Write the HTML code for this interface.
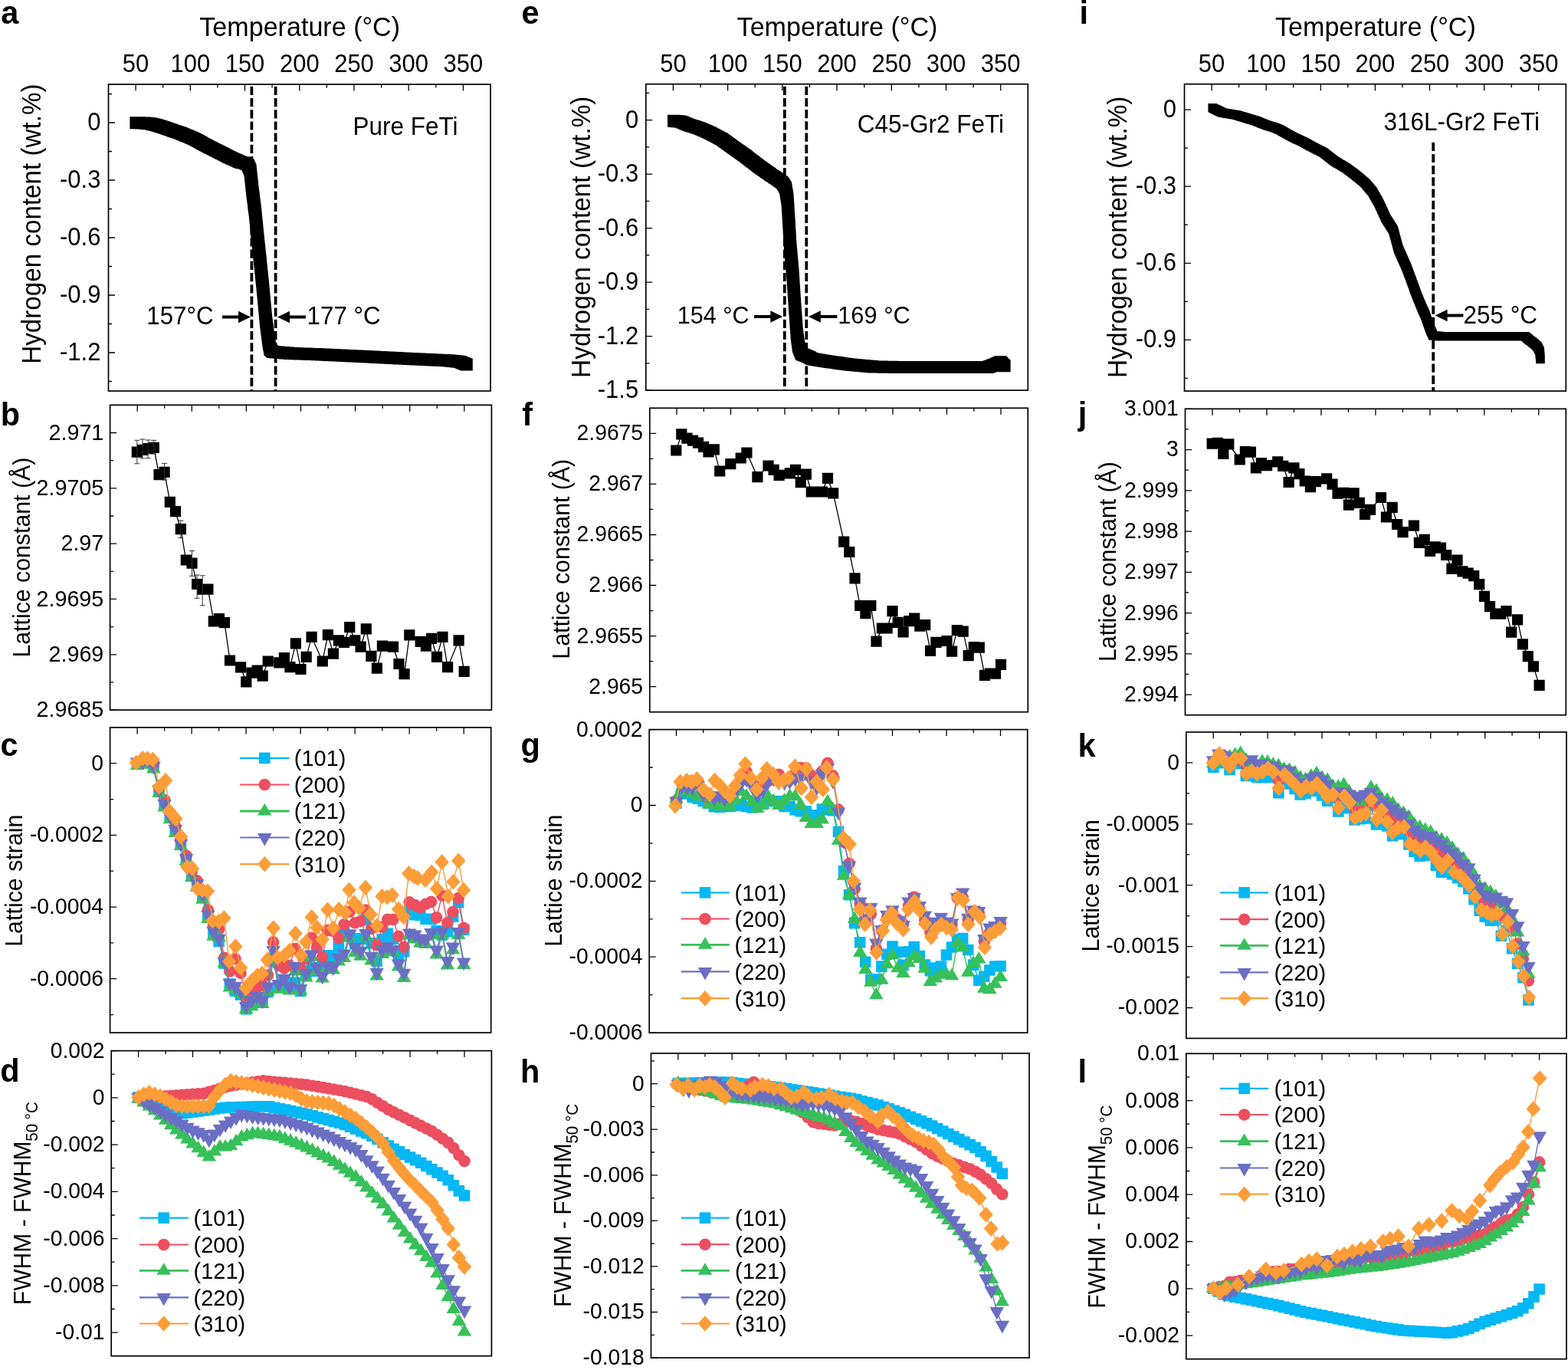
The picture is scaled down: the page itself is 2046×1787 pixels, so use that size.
<!DOCTYPE html>
<html><head><meta charset="utf-8"><style>html,body{margin:0;padding:0;background:#fff;overflow:hidden}svg{display:block}</style></head><body>
<svg xmlns="http://www.w3.org/2000/svg" width="2046" height="1787" viewBox="0 0 2046 1787" font-family="'Liberation Sans', Arial, sans-serif">
<rect width="100%" height="100%" fill="#fff"/>
<rect x="141.5" y="110" width="498.5" height="400" fill="none" stroke="#000" stroke-width="1.7"/>
<path d="M177.1 110v8.5M248.3 110v8.5M319.5 110v8.5M390.8 110v8.5M462 110v8.5M533.2 110v8.5M604.4 110v8.5M212.7 110v4.5M283.9 110v4.5M355.1 110v4.5M426.4 110v4.5M497.6 110v4.5M568.8 110v4.5M141.5 460h8.5M141.5 385h8.5M141.5 310h8.5M141.5 235h8.5M141.5 160h8.5M141.5 497.5h4.5M141.5 460h4.5M141.5 422.5h4.5M141.5 385h4.5M141.5 347.5h4.5M141.5 310h4.5M141.5 272.5h4.5M141.5 235h4.5M141.5 197.5h4.5M141.5 160h4.5M141.5 122.5h4.5" stroke="#000" stroke-width="1.3" fill="none"/>
<text transform="translate(131.4 469.9) scale(1 1.045)" font-size="31" text-anchor="end">-1.2</text>
<text transform="translate(131.4 394.9) scale(1 1.045)" font-size="31" text-anchor="end">-0.9</text>
<text transform="translate(131.4 319.9) scale(1 1.045)" font-size="31" text-anchor="end">-0.6</text>
<text transform="translate(131.4 244.9) scale(1 1.045)" font-size="31" text-anchor="end">-0.3</text>
<text transform="translate(131.4 169.9) scale(1 1.045)" font-size="31" text-anchor="end">0</text>
<text transform="translate(177.1 93.6) scale(1 1.045)" font-size="31" text-anchor="middle">50</text>
<text transform="translate(248.3 93.6) scale(1 1.045)" font-size="31" text-anchor="middle">100</text>
<text transform="translate(319.5 93.6) scale(1 1.045)" font-size="31" text-anchor="middle">150</text>
<text transform="translate(390.8 93.6) scale(1 1.045)" font-size="31" text-anchor="middle">200</text>
<text transform="translate(462 93.6) scale(1 1.045)" font-size="31" text-anchor="middle">250</text>
<text transform="translate(533.2 93.6) scale(1 1.045)" font-size="31" text-anchor="middle">300</text>
<text transform="translate(604.4 93.6) scale(1 1.045)" font-size="31" text-anchor="middle">350</text>
<text transform="translate(391.2 47.3) scale(1 1.045)" font-size="34.1" text-anchor="middle">Temperature (°C)</text>
<rect x="842.8" y="109.7" width="498.5" height="399.4" fill="none" stroke="#000" stroke-width="1.7"/>
<path d="M878.4 109.7v8.5M949.6 109.7v8.5M1020.8 109.7v8.5M1092 109.7v8.5M1163.3 109.7v8.5M1234.5 109.7v8.5M1305.7 109.7v8.5M914 109.7v4.5M985.2 109.7v4.5M1056.4 109.7v4.5M1127.7 109.7v4.5M1198.9 109.7v4.5M1270.1 109.7v4.5M842.8 509.1h8.5M842.8 438.6h8.5M842.8 368.1h8.5M842.8 297.7h8.5M842.8 227.2h8.5M842.8 156.7h8.5M842.8 473.9h4.5M842.8 438.6h4.5M842.8 403.4h4.5M842.8 368.1h4.5M842.8 332.9h4.5M842.8 297.7h4.5M842.8 262.4h4.5M842.8 227.2h4.5M842.8 191.9h4.5M842.8 156.7h4.5M842.8 121.4h4.5" stroke="#000" stroke-width="1.3" fill="none"/>
<text transform="translate(833.2 519) scale(1 1.045)" font-size="31" text-anchor="end">-1.5</text>
<text transform="translate(833.2 448.5) scale(1 1.045)" font-size="31" text-anchor="end">-1.2</text>
<text transform="translate(833.2 378) scale(1 1.045)" font-size="31" text-anchor="end">-0.9</text>
<text transform="translate(833.2 307.6) scale(1 1.045)" font-size="31" text-anchor="end">-0.6</text>
<text transform="translate(833.2 237.1) scale(1 1.045)" font-size="31" text-anchor="end">-0.3</text>
<text transform="translate(833.2 166.6) scale(1 1.045)" font-size="31" text-anchor="end">0</text>
<text transform="translate(878.4 93.6) scale(1 1.045)" font-size="31" text-anchor="middle">50</text>
<text transform="translate(949.6 93.6) scale(1 1.045)" font-size="31" text-anchor="middle">100</text>
<text transform="translate(1020.8 93.6) scale(1 1.045)" font-size="31" text-anchor="middle">150</text>
<text transform="translate(1092 93.6) scale(1 1.045)" font-size="31" text-anchor="middle">200</text>
<text transform="translate(1163.3 93.6) scale(1 1.045)" font-size="31" text-anchor="middle">250</text>
<text transform="translate(1234.5 93.6) scale(1 1.045)" font-size="31" text-anchor="middle">300</text>
<text transform="translate(1305.7 93.6) scale(1 1.045)" font-size="31" text-anchor="middle">350</text>
<text transform="translate(1092.5 47.3) scale(1 1.045)" font-size="34.1" text-anchor="middle">Temperature (°C)</text>
<rect x="1545.5" y="109.7" width="497.8" height="400.4" fill="none" stroke="#000" stroke-width="1.7"/>
<path d="M1581.1 109.7v8.5M1652.2 109.7v8.5M1723.3 109.7v8.5M1794.4 109.7v8.5M1865.5 109.7v8.5M1936.6 109.7v8.5M2007.7 109.7v8.5M1616.6 109.7v4.5M1687.7 109.7v4.5M1758.8 109.7v4.5M1830 109.7v4.5M1901.1 109.7v4.5M1972.2 109.7v4.5M1545.5 443.4h8.5M1545.5 343.3h8.5M1545.5 243.2h8.5M1545.5 143.1h8.5M1545.5 493.4h4.5M1545.5 443.4h4.5M1545.5 393.3h4.5M1545.5 343.3h4.5M1545.5 293.2h4.5M1545.5 243.2h4.5M1545.5 193.1h4.5M1545.5 143.1h4.5" stroke="#000" stroke-width="1.3" fill="none"/>
<text transform="translate(1535.1 453.3) scale(1 1.045)" font-size="31" text-anchor="end">-0.9</text>
<text transform="translate(1535.1 353.2) scale(1 1.045)" font-size="31" text-anchor="end">-0.6</text>
<text transform="translate(1535.1 253.1) scale(1 1.045)" font-size="31" text-anchor="end">-0.3</text>
<text transform="translate(1535.1 153) scale(1 1.045)" font-size="31" text-anchor="end">0</text>
<text transform="translate(1581.1 93.6) scale(1 1.045)" font-size="31" text-anchor="middle">50</text>
<text transform="translate(1652.2 93.6) scale(1 1.045)" font-size="31" text-anchor="middle">100</text>
<text transform="translate(1723.3 93.6) scale(1 1.045)" font-size="31" text-anchor="middle">150</text>
<text transform="translate(1794.4 93.6) scale(1 1.045)" font-size="31" text-anchor="middle">200</text>
<text transform="translate(1865.5 93.6) scale(1 1.045)" font-size="31" text-anchor="middle">250</text>
<text transform="translate(1936.6 93.6) scale(1 1.045)" font-size="31" text-anchor="middle">300</text>
<text transform="translate(2007.7 93.6) scale(1 1.045)" font-size="31" text-anchor="middle">350</text>
<text transform="translate(1794.9 47.3) scale(1 1.045)" font-size="34.1" text-anchor="middle">Temperature (°C)</text>
<rect x="143.6" y="528.3" width="497.8" height="397.8" fill="none" stroke="#000" stroke-width="1.7"/>
<path d="M179.2 528.3v8.5M250.3 528.3v8.5M321.4 528.3v8.5M392.5 528.3v8.5M463.6 528.3v8.5M534.7 528.3v8.5M605.8 528.3v8.5M214.7 528.3v4.5M285.8 528.3v4.5M356.9 528.3v4.5M428.1 528.3v4.5M499.2 528.3v4.5M570.3 528.3v4.5M143.6 926.1h8.5M143.6 853.8h8.5M143.6 781.4h8.5M143.6 709.1h8.5M143.6 636.8h8.5M143.6 564.5h8.5M143.6 889.9h4.5M143.6 817.6h4.5M143.6 745.3h4.5M143.6 673h4.5M143.6 600.6h4.5" stroke="#000" stroke-width="1.3" fill="none"/>
<text transform="translate(135.3 935.1) scale(1 1.045)" font-size="28.7" text-anchor="end">2.9685</text>
<text transform="translate(135.3 862.8) scale(1 1.045)" font-size="28.7" text-anchor="end">2.969</text>
<text transform="translate(135.3 790.5) scale(1 1.045)" font-size="28.7" text-anchor="end">2.9695</text>
<text transform="translate(135.3 718.2) scale(1 1.045)" font-size="28.7" text-anchor="end">2.97</text>
<text transform="translate(135.3 645.8) scale(1 1.045)" font-size="28.7" text-anchor="end">2.9705</text>
<text transform="translate(135.3 573.5) scale(1 1.045)" font-size="28.7" text-anchor="end">2.971</text>
<rect x="847.8" y="532.3" width="493.5" height="396.4" fill="none" stroke="#000" stroke-width="1.7"/>
<path d="M883 532.3v8.5M953.5 532.3v8.5M1024 532.3v8.5M1094.5 532.3v8.5M1165 532.3v8.5M1235.5 532.3v8.5M1306 532.3v8.5M918.3 532.3v4.5M988.8 532.3v4.5M1059.3 532.3v4.5M1129.8 532.3v4.5M1200.3 532.3v4.5M1270.8 532.3v4.5M847.8 895.7h8.5M847.8 829.6h8.5M847.8 763.5h8.5M847.8 697.5h8.5M847.8 631.4h8.5M847.8 565.3h8.5M847.8 862.6h4.5M847.8 796.6h4.5M847.8 730.5h4.5M847.8 664.4h4.5M847.8 598.4h4.5" stroke="#000" stroke-width="1.3" fill="none"/>
<text transform="translate(839.1 904.6) scale(1 1.045)" font-size="28.3" text-anchor="end">2.965</text>
<text transform="translate(839.1 838.5) scale(1 1.045)" font-size="28.3" text-anchor="end">2.9655</text>
<text transform="translate(839.1 772.4) scale(1 1.045)" font-size="28.3" text-anchor="end">2.966</text>
<text transform="translate(839.1 706.4) scale(1 1.045)" font-size="28.3" text-anchor="end">2.9665</text>
<text transform="translate(839.1 640.3) scale(1 1.045)" font-size="28.3" text-anchor="end">2.967</text>
<text transform="translate(839.1 574.2) scale(1 1.045)" font-size="28.3" text-anchor="end">2.9675</text>
<rect x="1546.5" y="533.3" width="496.8" height="399.4" fill="none" stroke="#000" stroke-width="1.7"/>
<path d="M1582 533.3v8.5M1653 533.3v8.5M1723.9 533.3v8.5M1794.9 533.3v8.5M1865.9 533.3v8.5M1936.8 533.3v8.5M2007.8 533.3v8.5M1617.5 533.3v4.5M1688.4 533.3v4.5M1759.4 533.3v4.5M1830.4 533.3v4.5M1901.4 533.3v4.5M1972.3 533.3v4.5M1546.5 906.1h8.5M1546.5 852.8h8.5M1546.5 799.6h8.5M1546.5 746.3h8.5M1546.5 693.1h8.5M1546.5 639.8h8.5M1546.5 586.6h8.5M1546.5 533.3h8.5M1546.5 879.4h4.5M1546.5 826.2h4.5M1546.5 772.9h4.5M1546.5 719.7h4.5M1546.5 666.4h4.5M1546.5 613.2h4.5M1546.5 559.9h4.5" stroke="#000" stroke-width="1.3" fill="none"/>
<text transform="translate(1537.8 915) scale(1 1.045)" font-size="28.3" text-anchor="end">2.994</text>
<text transform="translate(1537.8 861.7) scale(1 1.045)" font-size="28.3" text-anchor="end">2.995</text>
<text transform="translate(1537.8 808.5) scale(1 1.045)" font-size="28.3" text-anchor="end">2.996</text>
<text transform="translate(1537.8 755.2) scale(1 1.045)" font-size="28.3" text-anchor="end">2.997</text>
<text transform="translate(1537.8 701.9) scale(1 1.045)" font-size="28.3" text-anchor="end">2.998</text>
<text transform="translate(1537.8 648.7) scale(1 1.045)" font-size="28.3" text-anchor="end">2.999</text>
<text transform="translate(1537.8 595.4) scale(1 1.045)" font-size="28.3" text-anchor="end">3</text>
<text transform="translate(1537.8 542.2) scale(1 1.045)" font-size="28.3" text-anchor="end">3.001</text>
<rect x="143.6" y="948.9" width="497.1" height="398.1" fill="none" stroke="#000" stroke-width="1.7"/>
<path d="M179.1 948.9v8.5M250.1 948.9v8.5M321.1 948.9v8.5M392.1 948.9v8.5M463.2 948.9v8.5M534.2 948.9v8.5M605.2 948.9v8.5M214.6 948.9v4.5M285.6 948.9v4.5M356.6 948.9v4.5M427.7 948.9v4.5M498.7 948.9v4.5M569.7 948.9v4.5M143.6 1276.7h8.5M143.6 1183.1h8.5M143.6 1089.4h8.5M143.6 995.7h8.5M143.6 1323.6h4.5M143.6 1229.9h4.5M143.6 1136.2h4.5M143.6 1042.6h4.5" stroke="#000" stroke-width="1.3" fill="none"/>
<text transform="translate(134.9 1285.6) scale(1 1.045)" font-size="28.3" text-anchor="end">-0.0006</text>
<text transform="translate(134.9 1192) scale(1 1.045)" font-size="28.3" text-anchor="end">-0.0004</text>
<text transform="translate(134.9 1098.3) scale(1 1.045)" font-size="28.3" text-anchor="end">-0.0002</text>
<text transform="translate(134.9 1004.6) scale(1 1.045)" font-size="28.3" text-anchor="end">0</text>
<rect x="847.2" y="951.6" width="493.5" height="395.5" fill="none" stroke="#000" stroke-width="1.7"/>
<path d="M882.5 951.6v8.5M953 951.6v8.5M1023.5 951.6v8.5M1094 951.6v8.5M1164.5 951.6v8.5M1235 951.6v8.5M1305.5 951.6v8.5M917.7 951.6v4.5M988.2 951.6v4.5M1058.7 951.6v4.5M1129.2 951.6v4.5M1199.7 951.6v4.5M1270.2 951.6v4.5M847.2 1347.1h8.5M847.2 1248.2h8.5M847.2 1149.3h8.5M847.2 1050.5h8.5M847.2 951.6h8.5M847.2 1297.7h4.5M847.2 1198.8h4.5M847.2 1099.9h4.5M847.2 1001h4.5" stroke="#000" stroke-width="1.3" fill="none"/>
<text transform="translate(838.5 1356) scale(1 1.045)" font-size="28.3" text-anchor="end">-0.0006</text>
<text transform="translate(838.5 1257.1) scale(1 1.045)" font-size="28.3" text-anchor="end">-0.0004</text>
<text transform="translate(838.5 1158.2) scale(1 1.045)" font-size="28.3" text-anchor="end">-0.0002</text>
<text transform="translate(838.5 1059.4) scale(1 1.045)" font-size="28.3" text-anchor="end">0</text>
<text transform="translate(838.5 960.5) scale(1 1.045)" font-size="28.3" text-anchor="end">0.0002</text>
<rect x="1547.8" y="954.9" width="496.2" height="399.5" fill="none" stroke="#000" stroke-width="1.7"/>
<path d="M1583.2 954.9v8.5M1654.1 954.9v8.5M1725 954.9v8.5M1795.9 954.9v8.5M1866.8 954.9v8.5M1937.7 954.9v8.5M2008.6 954.9v8.5M1618.7 954.9v4.5M1689.6 954.9v4.5M1760.5 954.9v4.5M1831.3 954.9v4.5M1902.2 954.9v4.5M1973.1 954.9v4.5M1547.8 1314.5h8.5M1547.8 1234.6h8.5M1547.8 1154.7h8.5M1547.8 1074.8h8.5M1547.8 994.8h8.5M1547.8 1274.5h4.5M1547.8 1194.6h4.5M1547.8 1114.7h4.5M1547.8 1034.8h4.5" stroke="#000" stroke-width="1.3" fill="none"/>
<text transform="translate(1539.1 1323.3) scale(1 1.045)" font-size="28.3" text-anchor="end">-0.002</text>
<text transform="translate(1539.1 1243.4) scale(1 1.045)" font-size="28.3" text-anchor="end">-0.0015</text>
<text transform="translate(1539.1 1163.5) scale(1 1.045)" font-size="28.3" text-anchor="end">-0.001</text>
<text transform="translate(1539.1 1083.6) scale(1 1.045)" font-size="28.3" text-anchor="end">-0.0005</text>
<text transform="translate(1539.1 1003.7) scale(1 1.045)" font-size="28.3" text-anchor="end">0</text>
<rect x="145.2" y="1370.6" width="496.2" height="398.1" fill="none" stroke="#000" stroke-width="1.7"/>
<path d="M180.6 1370.6v8.5M251.5 1370.6v8.5M322.4 1370.6v8.5M393.3 1370.6v8.5M464.2 1370.6v8.5M535.1 1370.6v8.5M606 1370.6v8.5M216.1 1370.6v4.5M287 1370.6v4.5M357.9 1370.6v4.5M428.7 1370.6v4.5M499.6 1370.6v4.5M570.5 1370.6v4.5M145.2 1738.1h8.5M145.2 1676.8h8.5M145.2 1615.6h8.5M145.2 1554.3h8.5M145.2 1493.1h8.5M145.2 1431.8h8.5M145.2 1370.6h8.5M145.2 1707.5h4.5M145.2 1646.2h4.5M145.2 1585h4.5M145.2 1523.7h4.5M145.2 1462.5h4.5M145.2 1401.2h4.5" stroke="#000" stroke-width="1.3" fill="none"/>
<text transform="translate(136.5 1747) scale(1 1.045)" font-size="28.3" text-anchor="end">-0.01</text>
<text transform="translate(136.5 1685.7) scale(1 1.045)" font-size="28.3" text-anchor="end">-0.008</text>
<text transform="translate(136.5 1624.5) scale(1 1.045)" font-size="28.3" text-anchor="end">-0.006</text>
<text transform="translate(136.5 1563.2) scale(1 1.045)" font-size="28.3" text-anchor="end">-0.004</text>
<text transform="translate(136.5 1502) scale(1 1.045)" font-size="28.3" text-anchor="end">-0.002</text>
<text transform="translate(136.5 1440.7) scale(1 1.045)" font-size="28.3" text-anchor="end">0</text>
<text transform="translate(136.5 1379.5) scale(1 1.045)" font-size="28.3" text-anchor="end">0.002</text>
<rect x="849.5" y="1373.9" width="493.5" height="397.2" fill="none" stroke="#000" stroke-width="1.7"/>
<path d="M884.8 1373.9v8.5M955.2 1373.9v8.5M1025.8 1373.9v8.5M1096.2 1373.9v8.5M1166.8 1373.9v8.5M1237.2 1373.9v8.5M1307.8 1373.9v8.5M920 1373.9v4.5M990.5 1373.9v4.5M1061 1373.9v4.5M1131.5 1373.9v4.5M1202 1373.9v4.5M1272.5 1373.9v4.5M849.5 1771.1h8.5M849.5 1711.5h8.5M849.5 1651.9h8.5M849.5 1592.4h8.5M849.5 1532.8h8.5M849.5 1473.2h8.5M849.5 1413.6h8.5M849.5 1741.3h4.5M849.5 1681.7h4.5M849.5 1622.2h4.5M849.5 1562.6h4.5M849.5 1503h4.5M849.5 1443.4h4.5M849.5 1383.8h4.5" stroke="#000" stroke-width="1.3" fill="none"/>
<text transform="translate(840.8 1780) scale(1 1.045)" font-size="28.3" text-anchor="end">-0.018</text>
<text transform="translate(840.8 1720.4) scale(1 1.045)" font-size="28.3" text-anchor="end">-0.015</text>
<text transform="translate(840.8 1660.8) scale(1 1.045)" font-size="28.3" text-anchor="end">-0.012</text>
<text transform="translate(840.8 1601.2) scale(1 1.045)" font-size="28.3" text-anchor="end">-0.009</text>
<text transform="translate(840.8 1541.7) scale(1 1.045)" font-size="28.3" text-anchor="end">-0.006</text>
<text transform="translate(840.8 1482.1) scale(1 1.045)" font-size="28.3" text-anchor="end">-0.003</text>
<text transform="translate(840.8 1422.5) scale(1 1.045)" font-size="28.3" text-anchor="end">0</text>
<rect x="1547.8" y="1374.3" width="496.2" height="398.4" fill="none" stroke="#000" stroke-width="1.7"/>
<path d="M1583.2 1374.3v8.5M1654.1 1374.3v8.5M1725 1374.3v8.5M1795.9 1374.3v8.5M1866.8 1374.3v8.5M1937.7 1374.3v8.5M2008.6 1374.3v8.5M1618.7 1374.3v4.5M1689.6 1374.3v4.5M1760.5 1374.3v4.5M1831.3 1374.3v4.5M1902.2 1374.3v4.5M1973.1 1374.3v4.5M1547.8 1742.1h8.5M1547.8 1680.8h8.5M1547.8 1619.5h8.5M1547.8 1558.2h8.5M1547.8 1496.9h8.5M1547.8 1435.6h8.5M1547.8 1374.3h8.5M1547.8 1711.4h4.5M1547.8 1650.1h4.5M1547.8 1588.8h4.5M1547.8 1527.5h4.5M1547.8 1466.2h4.5M1547.8 1404.9h4.5" stroke="#000" stroke-width="1.3" fill="none"/>
<text transform="translate(1539.1 1750.9) scale(1 1.045)" font-size="28.3" text-anchor="end">-0.002</text>
<text transform="translate(1539.1 1689.6) scale(1 1.045)" font-size="28.3" text-anchor="end">0</text>
<text transform="translate(1539.1 1628.4) scale(1 1.045)" font-size="28.3" text-anchor="end">0.002</text>
<text transform="translate(1539.1 1567.1) scale(1 1.045)" font-size="28.3" text-anchor="end">0.004</text>
<text transform="translate(1539.1 1505.8) scale(1 1.045)" font-size="28.3" text-anchor="end">0.006</text>
<text transform="translate(1539.1 1444.5) scale(1 1.045)" font-size="28.3" text-anchor="end">0.008</text>
<text transform="translate(1539.1 1383.2) scale(1 1.045)" font-size="28.3" text-anchor="end">0.01</text>
<text transform="translate(53.2 474.7) rotate(-90) scale(1 1.045)" font-size="33.2">Hydrogen content (wt.%)</text>
<text transform="translate(769.7 492.9) rotate(-90) scale(1 1.045)" font-size="33.4">Hydrogen content (wt.%)</text>
<text transform="translate(1470 492.9) rotate(-90) scale(1 1.045)" font-size="33.4">Hydrogen content (wt.%)</text>
<text transform="translate(38.6 857.6) rotate(-90) scale(1 1.045)" font-size="30.3">Lattice constant (Å)</text>
<text transform="translate(742.5 859.7) rotate(-90) scale(1 1.045)" font-size="30.3">Lattice constant (Å)</text>
<text transform="translate(1456.4 863) rotate(-90) scale(1 1.045)" font-size="30.3">Lattice constant (Å)</text>
<text transform="translate(29.2 1234.8) rotate(-90) scale(1 1.045)" font-size="30.4">Lattice strain</text>
<text transform="translate(733.2 1234.8) rotate(-90) scale(1 1.045)" font-size="30.4">Lattice strain</text>
<text transform="translate(1434.1 1241.5) rotate(-90) scale(1 1.045)" font-size="30.4">Lattice strain</text>
<text transform="translate(40.2 1702.2) rotate(-90) scale(1 1.045)" font-size="30.1">FWHM - FWHM</text>
<text transform="translate(49.2 1488.8) rotate(-90) scale(1 1.045)" font-size="20.6">50 °C</text>
<text transform="translate(744.8 1705) rotate(-90) scale(1 1.045)" font-size="30.1">FWHM - FWHM</text>
<text transform="translate(753.8 1491.6) rotate(-90) scale(1 1.045)" font-size="20.6">50 °C</text>
<text transform="translate(1442.4 1706.7) rotate(-90) scale(1 1.045)" font-size="30.1">FWHM - FWHM</text>
<text transform="translate(1451.4 1493.3) rotate(-90) scale(1 1.045)" font-size="20.6">50 °C</text>
<path d="M169.4 152.2h16v16h-16zM171 152.2h16v16h-16zM172.6 152.3h16v16h-16zM174.2 152.3h16v16h-16zM175.8 152.4h16v16h-16zM177.4 152.4h16v16h-16zM179 152.5h16v16h-16zM180.5 152.6h16v16h-16zM182 152.8h16v16h-16zM183.5 152.9h16v16h-16zM185 153h16v16h-16zM186.5 153.2h16v16h-16zM188 153.3h16v16h-16zM189.5 153.7h16v16h-16zM191 154h16v16h-16zM192.5 154.4h16v16h-16zM194 154.8h16v16h-16zM195.5 155.1h16v16h-16zM197 155.5h16v16h-16zM198.6 156h16v16h-16zM200.2 156.5h16v16h-16zM201.8 157h16v16h-16zM203.4 157.5h16v16h-16zM205 158h16v16h-16zM206.6 158.6h16v16h-16zM208.2 159.1h16v16h-16zM209.8 159.7h16v16h-16zM211.4 160.2h16v16h-16zM213 160.8h16v16h-16zM214.6 161.3h16v16h-16zM216.1 161.8h16v16h-16zM217.7 162.4h16v16h-16zM219.2 162.9h16v16h-16zM220.8 163.4h16v16h-16zM222.3 163.9h16v16h-16zM223.9 164.5h16v16h-16zM225.4 165h16v16h-16zM227 165.5h16v16h-16zM228.4 166.1h16v16h-16zM229.8 166.7h16v16h-16zM231.2 167.2h16v16h-16zM232.5 167.8h16v16h-16zM233.9 168.4h16v16h-16zM235.3 169h16v16h-16zM236.7 169.5h16v16h-16zM238.1 170.1h16v16h-16zM239.5 170.7h16v16h-16zM240.8 171.3h16v16h-16zM242.2 171.8h16v16h-16zM243.6 172.4h16v16h-16zM245 173h16v16h-16zM246.4 173.8h16v16h-16zM247.8 174.5h16v16h-16zM249.2 175.3h16v16h-16zM250.7 176.1h16v16h-16zM252.1 176.8h16v16h-16zM253.5 177.6h16v16h-16zM254.9 178.4h16v16h-16zM256.3 179.2h16v16h-16zM257.7 179.9h16v16h-16zM259.2 180.7h16v16h-16zM260.6 181.5h16v16h-16zM262 182.2h16v16h-16zM263.4 183h16v16h-16zM264.8 183.7h16v16h-16zM266.2 184.4h16v16h-16zM267.6 185.1h16v16h-16zM269 185.8h16v16h-16zM270.4 186.5h16v16h-16zM271.8 187.2h16v16h-16zM273.2 187.9h16v16h-16zM274.6 188.6h16v16h-16zM276 189.3h16v16h-16zM277.4 190h16v16h-16zM278.8 190.7h16v16h-16zM280.2 191.4h16v16h-16zM281.6 192.1h16v16h-16zM283 192.8h16v16h-16zM284.4 193.6h16v16h-16zM285.8 194.3h16v16h-16zM287.2 195h16v16h-16zM288.6 195.7h16v16h-16zM290 196.4h16v16h-16zM291.4 197.1h16v16h-16zM292.8 197.8h16v16h-16zM294.2 198.4h16v16h-16zM295.7 199.1h16v16h-16zM297.1 199.7h16v16h-16zM298.5 200.3h16v16h-16zM300 201h16v16h-16zM301.4 201.6h16v16h-16zM302.8 202.2h16v16h-16zM304.3 202.9h16v16h-16zM305.7 203.5h16v16h-16zM307.3 203.9h16v16h-16zM308.9 204.2h16v16h-16zM310.4 204.6h16v16h-16zM312 205h16v16h-16zM313.8 206h16v16h-16zM315.5 207h16v16h-16zM316.1 208.4h16v16h-16zM316.7 209.8h16v16h-16zM317.3 211.2h16v16h-16zM317.9 212.6h16v16h-16zM318.5 214h16v16h-16zM318.7 215.6h16v16h-16zM318.8 217.1h16v16h-16zM319 218.7h16v16h-16zM319.2 220.2h16v16h-16zM319.3 221.8h16v16h-16zM319.5 223.3h16v16h-16zM319.7 224.9h16v16h-16zM319.8 226.4h16v16h-16zM320 228h16v16h-16zM320.2 229.6h16v16h-16zM320.3 231.1h16v16h-16zM320.5 232.7h16v16h-16zM320.7 234.2h16v16h-16zM320.8 235.8h16v16h-16zM321 237.3h16v16h-16zM321.2 238.9h16v16h-16zM321.3 240.4h16v16h-16zM321.5 242h16v16h-16zM321.7 243.5h16v16h-16zM321.9 245h16v16h-16zM322.1 246.5h16v16h-16zM322.3 248h16v16h-16zM322.5 249.5h16v16h-16zM322.7 251h16v16h-16zM322.9 252.5h16v16h-16zM323.1 254h16v16h-16zM323.2 255.5h16v16h-16zM323.4 257h16v16h-16zM323.6 258.5h16v16h-16zM323.8 260h16v16h-16zM324 261.5h16v16h-16zM324.2 263h16v16h-16zM324.4 264.5h16v16h-16zM324.6 266h16v16h-16zM324.8 267.5h16v16h-16zM325 269h16v16h-16zM325.1 270.5h16v16h-16zM325.3 272.1h16v16h-16zM325.4 273.6h16v16h-16zM325.6 275.1h16v16h-16zM325.7 276.6h16v16h-16zM325.9 278.2h16v16h-16zM326 279.7h16v16h-16zM326.2 281.2h16v16h-16zM326.3 282.7h16v16h-16zM326.5 284.3h16v16h-16zM326.6 285.8h16v16h-16zM326.8 287.3h16v16h-16zM326.9 288.8h16v16h-16zM327.1 290.4h16v16h-16zM327.2 291.9h16v16h-16zM327.4 293.4h16v16h-16zM327.5 294.9h16v16h-16zM327.7 296.5h16v16h-16zM327.8 298h16v16h-16zM328 299.5h16v16h-16zM328.1 301h16v16h-16zM328.3 302.6h16v16h-16zM328.4 304.1h16v16h-16zM328.6 305.6h16v16h-16zM328.8 307.1h16v16h-16zM328.9 308.7h16v16h-16zM329.1 310.2h16v16h-16zM329.2 311.7h16v16h-16zM329.4 313.2h16v16h-16zM329.6 314.7h16v16h-16zM329.7 316.3h16v16h-16zM329.9 317.8h16v16h-16zM330.1 319.3h16v16h-16zM330.2 320.8h16v16h-16zM330.4 322.3h16v16h-16zM330.5 323.9h16v16h-16zM330.7 325.4h16v16h-16zM330.9 326.9h16v16h-16zM331 328.4h16v16h-16zM331.2 330h16v16h-16zM331.3 331.5h16v16h-16zM331.5 333h16v16h-16zM331.7 334.5h16v16h-16zM331.8 336.1h16v16h-16zM332 337.6h16v16h-16zM332.1 339.2h16v16h-16zM332.3 340.7h16v16h-16zM332.4 342.2h16v16h-16zM332.6 343.8h16v16h-16zM332.8 345.3h16v16h-16zM332.9 346.9h16v16h-16zM333.1 348.4h16v16h-16zM333.2 350h16v16h-16zM333.4 351.5h16v16h-16zM333.6 353h16v16h-16zM333.7 354.6h16v16h-16zM333.9 356.1h16v16h-16zM334 357.7h16v16h-16zM334.2 359.2h16v16h-16zM334.4 360.8h16v16h-16zM334.5 362.3h16v16h-16zM334.7 363.8h16v16h-16zM334.8 365.4h16v16h-16zM335 366.9h16v16h-16zM335.1 368.5h16v16h-16zM335.3 370h16v16h-16zM335.4 371.5h16v16h-16zM335.6 373.1h16v16h-16zM335.7 374.6h16v16h-16zM335.9 376.2h16v16h-16zM336 377.7h16v16h-16zM336.2 379.2h16v16h-16zM336.3 380.8h16v16h-16zM336.4 382.3h16v16h-16zM336.6 383.8h16v16h-16zM336.7 385.4h16v16h-16zM336.9 386.9h16v16h-16zM337 388.5h16v16h-16zM337.1 390h16v16h-16zM337.3 391.5h16v16h-16zM337.4 393.1h16v16h-16zM337.6 394.6h16v16h-16zM337.7 396.2h16v16h-16zM337.9 397.7h16v16h-16zM338 399.2h16v16h-16zM338.1 400.8h16v16h-16zM338.3 402.3h16v16h-16zM338.4 403.8h16v16h-16zM338.6 405.4h16v16h-16zM338.7 406.9h16v16h-16zM338.9 408.5h16v16h-16zM339 410h16v16h-16zM339.2 411.6h16v16h-16zM339.4 413.1h16v16h-16zM339.6 414.7h16v16h-16zM339.8 416.2h16v16h-16zM340 417.8h16v16h-16zM340.2 419.3h16v16h-16zM340.4 420.9h16v16h-16zM340.6 422.4h16v16h-16zM340.8 424h16v16h-16zM341 425.6h16v16h-16zM341.2 427.1h16v16h-16zM341.4 428.7h16v16h-16zM341.6 430.2h16v16h-16zM341.8 431.8h16v16h-16zM342 433.3h16v16h-16zM342.2 434.9h16v16h-16zM342.4 436.4h16v16h-16zM342.6 438h16v16h-16zM342.9 439.7h16v16h-16zM343.2 441.3h16v16h-16zM343.6 443h16v16h-16zM343.9 444.7h16v16h-16zM344.2 446.3h16v16h-16zM344.5 448h16v16h-16zM345.7 449h16v16h-16zM346.8 450h16v16h-16zM348 451h16v16h-16zM349.5 451.1h16v16h-16zM351 451.2h16v16h-16zM352.5 451.4h16v16h-16zM354 451.5h16v16h-16zM355.5 451.6h16v16h-16zM357 451.8h16v16h-16zM358.5 451.9h16v16h-16zM360 452h16v16h-16zM361.5 452.1h16v16h-16zM363 452.2h16v16h-16zM364.5 452.4h16v16h-16zM366 452.5h16v16h-16zM367.5 452.6h16v16h-16zM369 452.8h16v16h-16zM370.5 452.9h16v16h-16zM372 453h16v16h-16zM373.5 453.1h16v16h-16zM375.1 453.1h16v16h-16zM376.6 453.2h16v16h-16zM378.2 453.2h16v16h-16zM379.7 453.3h16v16h-16zM381.2 453.3h16v16h-16zM382.8 453.4h16v16h-16zM384.3 453.4h16v16h-16zM385.9 453.5h16v16h-16zM387.4 453.5h16v16h-16zM389 453.6h16v16h-16zM390.5 453.6h16v16h-16zM392 453.7h16v16h-16zM393.6 453.8h16v16h-16zM395.1 453.8h16v16h-16zM396.7 453.9h16v16h-16zM398.2 453.9h16v16h-16zM399.8 454h16v16h-16zM401.3 454h16v16h-16zM402.8 454.1h16v16h-16zM404.4 454.1h16v16h-16zM405.9 454.2h16v16h-16zM407.5 454.2h16v16h-16zM409 454.3h16v16h-16zM410.5 454.4h16v16h-16zM412.1 454.4h16v16h-16zM413.6 454.5h16v16h-16zM415.1 454.6h16v16h-16zM416.6 454.7h16v16h-16zM418.1 454.7h16v16h-16zM419.7 454.8h16v16h-16zM421.2 454.9h16v16h-16zM422.7 455h16v16h-16zM424.2 455h16v16h-16zM425.8 455.1h16v16h-16zM427.3 455.2h16v16h-16zM428.8 455.2h16v16h-16zM430.4 455.3h16v16h-16zM431.9 455.4h16v16h-16zM433.4 455.5h16v16h-16zM434.9 455.5h16v16h-16zM436.4 455.6h16v16h-16zM438 455.7h16v16h-16zM439.5 455.8h16v16h-16zM441 455.8h16v16h-16zM442.6 455.9h16v16h-16zM444.1 456h16v16h-16zM445.6 456h16v16h-16zM447.1 456.1h16v16h-16zM448.6 456.2h16v16h-16zM450.2 456.3h16v16h-16zM451.7 456.3h16v16h-16zM453.2 456.4h16v16h-16zM454.8 456.5h16v16h-16zM456.3 456.5h16v16h-16zM457.8 456.6h16v16h-16zM459.3 456.7h16v16h-16zM460.9 456.8h16v16h-16zM462.4 456.8h16v16h-16zM463.9 456.9h16v16h-16zM465.4 457h16v16h-16zM466.9 457.1h16v16h-16zM468.5 457.1h16v16h-16zM470 457.2h16v16h-16zM471.5 457.3h16v16h-16zM473 457.3h16v16h-16zM474.5 457.4h16v16h-16zM476.1 457.5h16v16h-16zM477.6 457.6h16v16h-16zM479.1 457.6h16v16h-16zM480.6 457.7h16v16h-16zM482.1 457.8h16v16h-16zM483.6 457.9h16v16h-16zM485.1 457.9h16v16h-16zM486.7 458h16v16h-16zM488.2 458.1h16v16h-16zM489.7 458.2h16v16h-16zM491.2 458.2h16v16h-16zM492.7 458.3h16v16h-16zM494.2 458.4h16v16h-16zM495.7 458.5h16v16h-16zM497.3 458.5h16v16h-16zM498.8 458.6h16v16h-16zM500.3 458.7h16v16h-16zM501.8 458.8h16v16h-16zM503.3 458.8h16v16h-16zM504.8 458.9h16v16h-16zM506.3 459h16v16h-16zM507.9 459.1h16v16h-16zM509.4 459.1h16v16h-16zM510.9 459.2h16v16h-16zM512.4 459.3h16v16h-16zM513.9 459.4h16v16h-16zM515.4 459.4h16v16h-16zM516.9 459.5h16v16h-16zM518.5 459.6h16v16h-16zM520 459.7h16v16h-16zM521.5 459.7h16v16h-16zM523 459.8h16v16h-16zM524.5 459.9h16v16h-16zM526.1 459.9h16v16h-16zM527.6 460h16v16h-16zM529.1 460.1h16v16h-16zM530.6 460.2h16v16h-16zM532.2 460.2h16v16h-16zM533.7 460.3h16v16h-16zM535.2 460.4h16v16h-16zM536.8 460.4h16v16h-16zM538.3 460.5h16v16h-16zM539.8 460.6h16v16h-16zM541.3 460.7h16v16h-16zM542.9 460.7h16v16h-16zM544.4 460.8h16v16h-16zM545.9 460.9h16v16h-16zM547.4 461h16v16h-16zM549 461h16v16h-16zM550.5 461.1h16v16h-16zM552 461.2h16v16h-16zM553.6 461.2h16v16h-16zM555.1 461.3h16v16h-16zM556.6 461.4h16v16h-16zM558.1 461.5h16v16h-16zM559.7 461.5h16v16h-16zM561.2 461.6h16v16h-16zM562.7 461.7h16v16h-16zM564.2 461.8h16v16h-16zM565.8 461.8h16v16h-16zM567.3 461.9h16v16h-16zM568.8 462h16v16h-16zM570.4 462h16v16h-16zM571.9 462.1h16v16h-16zM573.4 462.2h16v16h-16zM574.9 462.3h16v16h-16zM576.5 462.3h16v16h-16zM578 462.4h16v16h-16zM579.6 462.6h16v16h-16zM581.1 462.8h16v16h-16zM582.7 462.9h16v16h-16zM584.2 463.1h16v16h-16zM585.8 463.3h16v16h-16zM587.3 463.5h16v16h-16zM588.9 463.6h16v16h-16zM590.4 463.8h16v16h-16zM592 464h16v16h-16zM593.5 464.6h16v16h-16zM594.9 465.2h16v16h-16zM596.4 465.8h16v16h-16zM597.9 466.3h16v16h-16zM599.3 466.9h16v16h-16zM600.8 467.5h16v16h-16z" fill="#000"/>
<path d="M871 149.8h16v16h-16zM872.5 149.9h16v16h-16zM874 150h16v16h-16zM875.5 150.2h16v16h-16zM877 150.3h16v16h-16zM878.5 150.4h16v16h-16zM880 150.5h16v16h-16zM881.6 151.2h16v16h-16zM883.2 151.8h16v16h-16zM884.8 152.5h16v16h-16zM886.3 153.2h16v16h-16zM887.9 153.8h16v16h-16zM889.5 154.5h16v16h-16zM891 155h16v16h-16zM892.4 155.4h16v16h-16zM893.9 155.9h16v16h-16zM895.3 156.4h16v16h-16zM896.8 156.8h16v16h-16zM898.2 157.3h16v16h-16zM899.6 157.8h16v16h-16zM901.1 158.3h16v16h-16zM902.5 158.7h16v16h-16zM904 159.2h16v16h-16zM905.5 159.8h16v16h-16zM907 160.5h16v16h-16zM908.6 161.1h16v16h-16zM910.1 161.8h16v16h-16zM911.6 162.4h16v16h-16zM913.1 163.1h16v16h-16zM914.7 163.7h16v16h-16zM916.2 164.4h16v16h-16zM917.7 165h16v16h-16zM919.1 165.7h16v16h-16zM920.4 166.4h16v16h-16zM921.8 167.2h16v16h-16zM923.1 167.9h16v16h-16zM924.5 168.6h16v16h-16zM925.9 169.3h16v16h-16zM927.2 170h16v16h-16zM928.6 170.7h16v16h-16zM929.9 171.4h16v16h-16zM931.3 172.2h16v16h-16zM932.6 172.9h16v16h-16zM934 173.6h16v16h-16zM935.3 174.5h16v16h-16zM936.5 175.5h16v16h-16zM937.8 176.4h16v16h-16zM939.1 177.3h16v16h-16zM940.4 178.2h16v16h-16zM941.6 179.2h16v16h-16zM942.9 180.1h16v16h-16zM944.2 181h16v16h-16zM945.5 181.9h16v16h-16zM946.7 182.9h16v16h-16zM948 183.8h16v16h-16zM949.3 184.7h16v16h-16zM950.6 185.6h16v16h-16zM951.9 186.5h16v16h-16zM953.1 187.4h16v16h-16zM954.4 188.3h16v16h-16zM955.7 189.2h16v16h-16zM957 190.1h16v16h-16zM958.3 191h16v16h-16zM959.5 191.9h16v16h-16zM960.8 192.8h16v16h-16zM962.1 193.7h16v16h-16zM963.4 194.6h16v16h-16zM964.7 195.6h16v16h-16zM965.9 196.5h16v16h-16zM967.2 197.5h16v16h-16zM968.4 198.5h16v16h-16zM969.7 199.5h16v16h-16zM970.9 200.4h16v16h-16zM972.2 201.4h16v16h-16zM973.5 202.4h16v16h-16zM974.7 203.3h16v16h-16zM976 204.3h16v16h-16zM977.2 205.3h16v16h-16zM978.5 206.3h16v16h-16zM979.7 207.2h16v16h-16zM981 208.2h16v16h-16zM982.2 209.1h16v16h-16zM983.5 209.9h16v16h-16zM984.7 210.8h16v16h-16zM985.9 211.7h16v16h-16zM987.2 212.5h16v16h-16zM988.4 213.4h16v16h-16zM989.6 214.3h16v16h-16zM990.8 215.2h16v16h-16zM992.1 216h16v16h-16zM993.3 216.9h16v16h-16zM994.5 217.8h16v16h-16zM995.8 218.6h16v16h-16zM997 219.5h16v16h-16zM998.3 220.4h16v16h-16zM999.6 221.2h16v16h-16zM1000.9 222.1h16v16h-16zM1002.1 222.9h16v16h-16zM1003.4 223.8h16v16h-16zM1004.7 224.6h16v16h-16zM1006 225.5h16v16h-16zM1007.4 226.5h16v16h-16zM1008.8 227.5h16v16h-16zM1010.2 228.5h16v16h-16zM1011.6 229.5h16v16h-16zM1013 230.5h16v16h-16zM1013.8 231.8h16v16h-16zM1014.6 233.1h16v16h-16zM1015.4 234.4h16v16h-16zM1016.2 235.7h16v16h-16zM1017 237h16v16h-16zM1017.2 238.5h16v16h-16zM1017.5 240h16v16h-16zM1017.8 241.5h16v16h-16zM1018 243h16v16h-16zM1018.2 244.5h16v16h-16zM1018.5 246h16v16h-16zM1018.8 247.5h16v16h-16zM1019 249h16v16h-16zM1019.2 250.5h16v16h-16zM1019.5 252h16v16h-16zM1019.6 253.5h16v16h-16zM1019.7 255h16v16h-16zM1019.8 256.5h16v16h-16zM1019.9 258h16v16h-16zM1020 259.5h16v16h-16zM1020.1 261h16v16h-16zM1020.2 262.5h16v16h-16zM1020.3 264h16v16h-16zM1020.4 265.5h16v16h-16zM1020.5 267h16v16h-16zM1020.5 268.5h16v16h-16zM1020.6 270h16v16h-16zM1020.7 271.5h16v16h-16zM1020.8 273h16v16h-16zM1020.9 274.5h16v16h-16zM1021 276h16v16h-16zM1021.1 277.5h16v16h-16zM1021.2 279h16v16h-16zM1021.3 280.5h16v16h-16zM1021.4 282h16v16h-16zM1021.5 283.5h16v16h-16zM1021.6 285.1h16v16h-16zM1021.7 286.6h16v16h-16zM1021.8 288.1h16v16h-16zM1021.9 289.6h16v16h-16zM1021.9 291.2h16v16h-16zM1022 292.7h16v16h-16zM1022.1 294.2h16v16h-16zM1022.2 295.7h16v16h-16zM1022.3 297.3h16v16h-16zM1022.4 298.8h16v16h-16zM1022.5 300.3h16v16h-16zM1022.6 301.9h16v16h-16zM1022.7 303.4h16v16h-16zM1022.8 304.9h16v16h-16zM1022.9 306.4h16v16h-16zM1022.9 308h16v16h-16zM1023 309.5h16v16h-16zM1023.1 311h16v16h-16zM1023.2 312.5h16v16h-16zM1023.3 314.1h16v16h-16zM1023.4 315.6h16v16h-16zM1023.5 317.1h16v16h-16zM1023.7 318.6h16v16h-16zM1023.8 320.2h16v16h-16zM1023.9 321.7h16v16h-16zM1024.1 323.2h16v16h-16zM1024.2 324.7h16v16h-16zM1024.4 326.2h16v16h-16zM1024.5 327.7h16v16h-16zM1024.6 329.3h16v16h-16zM1024.8 330.8h16v16h-16zM1024.9 332.3h16v16h-16zM1025 333.8h16v16h-16zM1025.2 335.3h16v16h-16zM1025.3 336.9h16v16h-16zM1025.4 338.4h16v16h-16zM1025.6 339.9h16v16h-16zM1025.7 341.4h16v16h-16zM1025.9 342.9h16v16h-16zM1026 344.4h16v16h-16zM1026.1 346h16v16h-16zM1026.3 347.5h16v16h-16zM1026.4 349h16v16h-16zM1026.5 350.5h16v16h-16zM1026.6 352.1h16v16h-16zM1026.7 353.6h16v16h-16zM1026.8 355.1h16v16h-16zM1026.9 356.7h16v16h-16zM1027 358.2h16v16h-16zM1027.1 359.7h16v16h-16zM1027.2 361.3h16v16h-16zM1027.3 362.8h16v16h-16zM1027.4 364.3h16v16h-16zM1027.5 365.9h16v16h-16zM1027.6 367.4h16v16h-16zM1027.7 368.9h16v16h-16zM1027.8 370.4h16v16h-16zM1027.9 372h16v16h-16zM1028 373.5h16v16h-16zM1028.1 375h16v16h-16zM1028.2 376.6h16v16h-16zM1028.3 378.1h16v16h-16zM1028.4 379.6h16v16h-16zM1028.5 381.2h16v16h-16zM1028.6 382.7h16v16h-16zM1028.7 384.2h16v16h-16zM1028.8 385.8h16v16h-16zM1028.9 387.3h16v16h-16zM1029 388.8h16v16h-16zM1029.1 390.3h16v16h-16zM1029.2 391.9h16v16h-16zM1029.3 393.4h16v16h-16zM1029.5 394.9h16v16h-16zM1029.6 396.4h16v16h-16zM1029.7 398h16v16h-16zM1029.8 399.5h16v16h-16zM1029.9 401h16v16h-16zM1030 402.6h16v16h-16zM1030.1 404.1h16v16h-16zM1030.2 405.6h16v16h-16zM1030.3 407.1h16v16h-16zM1030.4 408.7h16v16h-16zM1030.5 410.2h16v16h-16zM1030.6 411.7h16v16h-16zM1030.7 413.3h16v16h-16zM1030.8 414.8h16v16h-16zM1031 416.3h16v16h-16zM1031.1 417.8h16v16h-16zM1031.2 419.4h16v16h-16zM1031.3 420.9h16v16h-16zM1031.4 422.4h16v16h-16zM1031.5 423.9h16v16h-16zM1031.6 425.5h16v16h-16zM1031.7 427h16v16h-16zM1031.9 428.5h16v16h-16zM1032.1 430.1h16v16h-16zM1032.3 431.6h16v16h-16zM1032.5 433.2h16v16h-16zM1032.7 434.7h16v16h-16zM1033 436.3h16v16h-16zM1033.2 437.8h16v16h-16zM1033.4 439.4h16v16h-16zM1033.6 440.9h16v16h-16zM1033.8 442.5h16v16h-16zM1034 444h16v16h-16zM1034.6 445.4h16v16h-16zM1035.1 446.9h16v16h-16zM1035.7 448.3h16v16h-16zM1036.3 449.7h16v16h-16zM1036.9 451.1h16v16h-16zM1037.4 452.6h16v16h-16zM1038 454h16v16h-16zM1039.6 454.6h16v16h-16zM1041.2 455.2h16v16h-16zM1042.8 455.8h16v16h-16zM1044.4 456.4h16v16h-16zM1046 457h16v16h-16zM1047.5 457.8h16v16h-16zM1049 458.6h16v16h-16zM1050.5 459.4h16v16h-16zM1052 460.2h16v16h-16zM1053.5 460.5h16v16h-16zM1055 460.7h16v16h-16zM1056.5 461h16v16h-16zM1058 461.2h16v16h-16zM1059.5 461.5h16v16h-16zM1061 461.8h16v16h-16zM1062.5 462h16v16h-16zM1064 462.3h16v16h-16zM1065.5 462.5h16v16h-16zM1067 462.8h16v16h-16zM1068.6 463h16v16h-16zM1070.2 463.2h16v16h-16zM1071.9 463.5h16v16h-16zM1073.5 463.7h16v16h-16zM1075.1 463.9h16v16h-16zM1076.8 464.2h16v16h-16zM1078.4 464.4h16v16h-16zM1080 464.6h16v16h-16zM1081.5 464.8h16v16h-16zM1083.1 465h16v16h-16zM1084.6 465.3h16v16h-16zM1086.2 465.5h16v16h-16zM1087.7 465.7h16v16h-16zM1089.2 465.9h16v16h-16zM1090.8 466.2h16v16h-16zM1092.3 466.4h16v16h-16zM1093.8 466.6h16v16h-16zM1095.4 466.8h16v16h-16zM1096.9 467.1h16v16h-16zM1098.5 467.3h16v16h-16zM1100 467.5h16v16h-16zM1101.5 467.6h16v16h-16zM1103.1 467.8h16v16h-16zM1104.6 467.9h16v16h-16zM1106.2 468h16v16h-16zM1107.7 468.2h16v16h-16zM1109.3 468.3h16v16h-16zM1110.8 468.5h16v16h-16zM1112.4 468.6h16v16h-16zM1113.9 468.7h16v16h-16zM1115.5 468.9h16v16h-16zM1117 469h16v16h-16zM1118.5 469.1h16v16h-16zM1120.1 469.3h16v16h-16zM1121.6 469.4h16v16h-16zM1123.2 469.5h16v16h-16zM1124.7 469.7h16v16h-16zM1126.3 469.8h16v16h-16zM1127.8 470h16v16h-16zM1129.4 470.1h16v16h-16zM1130.9 470.2h16v16h-16zM1132.5 470.4h16v16h-16zM1134 470.5h16v16h-16zM1135.5 470.5h16v16h-16zM1137 470.5h16v16h-16zM1138.5 470.6h16v16h-16zM1140 470.6h16v16h-16zM1141.5 470.6h16v16h-16zM1143 470.6h16v16h-16zM1144.5 470.7h16v16h-16zM1146 470.7h16v16h-16zM1147.5 470.7h16v16h-16zM1149 470.7h16v16h-16zM1150.5 470.7h16v16h-16zM1152 470.8h16v16h-16zM1153.5 470.8h16v16h-16zM1155 470.8h16v16h-16zM1156.5 470.8h16v16h-16zM1158 470.9h16v16h-16zM1159.5 470.9h16v16h-16zM1161 470.9h16v16h-16zM1162.5 470.9h16v16h-16zM1164 470.9h16v16h-16zM1165.5 470.9h16v16h-16zM1167 470.9h16v16h-16zM1168.5 470.9h16v16h-16zM1170 470.9h16v16h-16zM1171.5 470.9h16v16h-16zM1173 470.9h16v16h-16zM1174.5 470.9h16v16h-16zM1176 470.9h16v16h-16zM1177.5 470.9h16v16h-16zM1179 470.9h16v16h-16zM1180.5 470.9h16v16h-16zM1182 470.9h16v16h-16zM1183.5 470.9h16v16h-16zM1185 470.9h16v16h-16zM1186.5 470.9h16v16h-16zM1188 470.9h16v16h-16zM1189.5 470.9h16v16h-16zM1191 470.9h16v16h-16zM1192.5 470.9h16v16h-16zM1194 470.9h16v16h-16zM1195.5 470.9h16v16h-16zM1197 470.9h16v16h-16zM1198.5 470.9h16v16h-16zM1200 470.9h16v16h-16zM1201.5 470.9h16v16h-16zM1203 470.9h16v16h-16zM1204.5 470.9h16v16h-16zM1206 470.9h16v16h-16zM1207.5 470.9h16v16h-16zM1209 470.9h16v16h-16zM1210.5 470.9h16v16h-16zM1212 470.9h16v16h-16zM1213.5 470.9h16v16h-16zM1215 470.9h16v16h-16zM1216.5 470.9h16v16h-16zM1218 470.9h16v16h-16zM1219.5 470.9h16v16h-16zM1221 470.9h16v16h-16zM1222.5 470.9h16v16h-16zM1224 470.9h16v16h-16zM1225.5 470.9h16v16h-16zM1227 470.9h16v16h-16zM1228.5 470.9h16v16h-16zM1230 470.9h16v16h-16zM1231.5 470.9h16v16h-16zM1233 470.9h16v16h-16zM1234.5 470.9h16v16h-16zM1236 470.9h16v16h-16zM1237.5 470.9h16v16h-16zM1239 470.9h16v16h-16zM1240.5 470.9h16v16h-16zM1242 470.9h16v16h-16zM1243.5 470.9h16v16h-16zM1245 470.9h16v16h-16zM1246.5 470.9h16v16h-16zM1248 470.9h16v16h-16zM1249.5 470.9h16v16h-16zM1251 470.9h16v16h-16zM1252.5 470.9h16v16h-16zM1254 470.9h16v16h-16zM1255.5 470.9h16v16h-16zM1257 470.9h16v16h-16zM1258.5 470.9h16v16h-16zM1260 470.9h16v16h-16zM1261.5 470.9h16v16h-16zM1263 470.9h16v16h-16zM1264.5 470.9h16v16h-16zM1266 470.9h16v16h-16zM1267.5 470.9h16v16h-16zM1269 470.9h16v16h-16zM1270.5 470.9h16v16h-16zM1272 470.9h16v16h-16zM1273.5 470.9h16v16h-16zM1275 470.9h16v16h-16zM1276.5 470.9h16v16h-16zM1278 470.9h16v16h-16zM1279.5 470.9h16v16h-16zM1281 470.9h16v16h-16zM1282.6 470.3h16v16h-16zM1284.2 469.7h16v16h-16zM1285.8 469.2h16v16h-16zM1287.4 468.6h16v16h-16zM1289 468h16v16h-16zM1290.5 467.4h16v16h-16zM1291.9 466.7h16v16h-16zM1293.3 466.1h16v16h-16zM1294.8 465.5h16v16h-16zM1296.2 464.8h16v16h-16zM1297.7 464.2h16v16h-16zM1298.9 465.5h16v16h-16zM1300.2 466.8h16v16h-16zM1301.4 468h16v16h-16zM1302.6 469.3h16v16h-16z" fill="#000"/>
<path d="M1576.4 135h11.6v11.6h-11.6zM1577.8 135.7h11.6v11.6h-11.6zM1579.2 136.4h11.6v11.6h-11.6zM1580.7 137.1h11.6v11.6h-11.6zM1582.1 137.8h11.6v11.6h-11.6zM1583.5 138.4h11.6v11.6h-11.6zM1584.9 139.1h11.6v11.6h-11.6zM1586.4 139.8h11.6v11.6h-11.6zM1587.8 140.5h11.6v11.6h-11.6zM1589.2 141.2h11.6v11.6h-11.6zM1590.7 141.4h11.6v11.6h-11.6zM1592.2 141.7h11.6v11.6h-11.6zM1593.7 141.9h11.6v11.6h-11.6zM1595.2 142.2h11.6v11.6h-11.6zM1596.7 142.4h11.6v11.6h-11.6zM1598.2 142.7h11.6v11.6h-11.6zM1599.7 142.9h11.6v11.6h-11.6zM1601.2 143.2h11.6v11.6h-11.6zM1602.7 143.4h11.6v11.6h-11.6zM1604.2 143.7h11.6v11.6h-11.6zM1605.7 143.9h11.6v11.6h-11.6zM1607.2 144.2h11.6v11.6h-11.6zM1608.6 144.6h11.6v11.6h-11.6zM1610.1 145h11.6v11.6h-11.6zM1611.5 145.5h11.6v11.6h-11.6zM1613 145.9h11.6v11.6h-11.6zM1614.4 146.3h11.6v11.6h-11.6zM1615.9 146.7h11.6v11.6h-11.6zM1617.3 147.2h11.6v11.6h-11.6zM1618.8 147.6h11.6v11.6h-11.6zM1620.2 148h11.6v11.6h-11.6zM1621.6 148.4h11.6v11.6h-11.6zM1623.1 148.9h11.6v11.6h-11.6zM1624.5 149.3h11.6v11.6h-11.6zM1626 149.8h11.6v11.6h-11.6zM1627.4 150.2h11.6v11.6h-11.6zM1628.9 150.7h11.6v11.6h-11.6zM1630.3 151.1h11.6v11.6h-11.6zM1631.8 151.6h11.6v11.6h-11.6zM1633.2 152h11.6v11.6h-11.6zM1634.6 152.6h11.6v11.6h-11.6zM1636 153.1h11.6v11.6h-11.6zM1637.4 153.7h11.6v11.6h-11.6zM1638.8 154.2h11.6v11.6h-11.6zM1640.2 154.8h11.6v11.6h-11.6zM1641.6 155.4h11.6v11.6h-11.6zM1643 155.9h11.6v11.6h-11.6zM1644.4 156.5h11.6v11.6h-11.6zM1645.8 157h11.6v11.6h-11.6zM1647.2 157.6h11.6v11.6h-11.6zM1648.7 158h11.6v11.6h-11.6zM1650.2 158.5h11.6v11.6h-11.6zM1651.7 158.9h11.6v11.6h-11.6zM1653.2 159.3h11.6v11.6h-11.6zM1654.7 159.8h11.6v11.6h-11.6zM1656.2 160.2h11.6v11.6h-11.6zM1657.8 160.8h11.6v11.6h-11.6zM1659.4 161.5h11.6v11.6h-11.6zM1661 162.1h11.6v11.6h-11.6zM1662.6 162.8h11.6v11.6h-11.6zM1664.2 163.4h11.6v11.6h-11.6zM1665.6 164.2h11.6v11.6h-11.6zM1667.1 165.1h11.6v11.6h-11.6zM1668.5 165.9h11.6v11.6h-11.6zM1669.9 166.7h11.6v11.6h-11.6zM1671.3 167.5h11.6v11.6h-11.6zM1672.8 168.4h11.6v11.6h-11.6zM1674.2 169.2h11.6v11.6h-11.6zM1675.6 169.9h11.6v11.6h-11.6zM1677.1 170.7h11.6v11.6h-11.6zM1678.5 171.4h11.6v11.6h-11.6zM1679.9 172.2h11.6v11.6h-11.6zM1681.3 172.9h11.6v11.6h-11.6zM1682.8 173.7h11.6v11.6h-11.6zM1684.2 174.4h11.6v11.6h-11.6zM1685.7 175.1h11.6v11.6h-11.6zM1687.2 175.8h11.6v11.6h-11.6zM1688.7 176.5h11.6v11.6h-11.6zM1690.2 177.2h11.6v11.6h-11.6zM1691.7 177.9h11.6v11.6h-11.6zM1693.2 178.6h11.6v11.6h-11.6zM1694.7 179.3h11.6v11.6h-11.6zM1696.2 180h11.6v11.6h-11.6zM1697.5 180.8h11.6v11.6h-11.6zM1698.9 181.5h11.6v11.6h-11.6zM1700.2 182.3h11.6v11.6h-11.6zM1701.5 183.1h11.6v11.6h-11.6zM1702.9 183.8h11.6v11.6h-11.6zM1704.2 184.6h11.6v11.6h-11.6zM1705.6 185.3h11.6v11.6h-11.6zM1707 186h11.6v11.6h-11.6zM1708.5 186.8h11.6v11.6h-11.6zM1709.9 187.5h11.6v11.6h-11.6zM1711.3 188.2h11.6v11.6h-11.6zM1712.7 188.9h11.6v11.6h-11.6zM1714.1 189.6h11.6v11.6h-11.6zM1715.5 190.3h11.6v11.6h-11.6zM1717 191h11.6v11.6h-11.6zM1718.4 191.8h11.6v11.6h-11.6zM1719.8 192.5h11.6v11.6h-11.6zM1721.2 193.2h11.6v11.6h-11.6zM1722.5 194.2h11.6v11.6h-11.6zM1723.7 195.2h11.6v11.6h-11.6zM1725 196.2h11.6v11.6h-11.6zM1726.3 197.2h11.6v11.6h-11.6zM1727.6 198.2h11.6v11.6h-11.6zM1728.8 199.2h11.6v11.6h-11.6zM1730.1 200.2h11.6v11.6h-11.6zM1731.4 201.2h11.6v11.6h-11.6zM1732.7 202.2h11.6v11.6h-11.6zM1733.9 203.2h11.6v11.6h-11.6zM1735.2 204.2h11.6v11.6h-11.6zM1736.5 205h11.6v11.6h-11.6zM1737.9 205.8h11.6v11.6h-11.6zM1739.2 206.6h11.6v11.6h-11.6zM1740.5 207.4h11.6v11.6h-11.6zM1741.9 208.2h11.6v11.6h-11.6zM1743.2 208.9h11.6v11.6h-11.6zM1744.5 209.7h11.6v11.6h-11.6zM1745.9 210.5h11.6v11.6h-11.6zM1747.2 211.3h11.6v11.6h-11.6zM1748.5 212.1h11.6v11.6h-11.6zM1749.9 212.9h11.6v11.6h-11.6zM1751.2 213.7h11.6v11.6h-11.6zM1752.5 214.7h11.6v11.6h-11.6zM1753.8 215.7h11.6v11.6h-11.6zM1755.1 216.7h11.6v11.6h-11.6zM1756.4 217.7h11.6v11.6h-11.6zM1757.7 218.6h11.6v11.6h-11.6zM1759 219.6h11.6v11.6h-11.6zM1760.3 220.6h11.6v11.6h-11.6zM1761.6 221.6h11.6v11.6h-11.6zM1762.9 222.6h11.6v11.6h-11.6zM1764.2 223.6h11.6v11.6h-11.6zM1765.4 224.6h11.6v11.6h-11.6zM1766.6 225.6h11.6v11.6h-11.6zM1767.9 226.6h11.6v11.6h-11.6zM1769.1 227.6h11.6v11.6h-11.6zM1770.3 228.7h11.6v11.6h-11.6zM1771.5 229.7h11.6v11.6h-11.6zM1772.8 230.7h11.6v11.6h-11.6zM1774 231.7h11.6v11.6h-11.6zM1775.2 232.7h11.6v11.6h-11.6zM1776.2 233.8h11.6v11.6h-11.6zM1777.2 235h11.6v11.6h-11.6zM1778.1 236.1h11.6v11.6h-11.6zM1779.1 237.3h11.6v11.6h-11.6zM1780.1 238.4h11.6v11.6h-11.6zM1781.1 239.6h11.6v11.6h-11.6zM1782.1 240.8h11.6v11.6h-11.6zM1783 241.9h11.6v11.6h-11.6zM1784 243h11.6v11.6h-11.6zM1785 244.2h11.6v11.6h-11.6zM1785.8 245.6h11.6v11.6h-11.6zM1786.5 246.9h11.6v11.6h-11.6zM1787.3 248.3h11.6v11.6h-11.6zM1788.1 249.7h11.6v11.6h-11.6zM1788.9 251h11.6v11.6h-11.6zM1789.6 252.4h11.6v11.6h-11.6zM1790.4 253.7h11.6v11.6h-11.6zM1791.2 255.1h11.6v11.6h-11.6zM1792 256.5h11.6v11.6h-11.6zM1792.7 257.8h11.6v11.6h-11.6zM1793.5 259.2h11.6v11.6h-11.6zM1794.2 260.6h11.6v11.6h-11.6zM1794.8 262.1h11.6v11.6h-11.6zM1795.5 263.5h11.6v11.6h-11.6zM1796.1 264.9h11.6v11.6h-11.6zM1796.8 266.3h11.6v11.6h-11.6zM1797.4 267.8h11.6v11.6h-11.6zM1798.1 269.2h11.6v11.6h-11.6zM1798.8 270.6h11.6v11.6h-11.6zM1799.4 272.1h11.6v11.6h-11.6zM1800.1 273.5h11.6v11.6h-11.6zM1800.7 274.9h11.6v11.6h-11.6zM1801.4 276.3h11.6v11.6h-11.6zM1802 277.8h11.6v11.6h-11.6zM1802.7 279.2h11.6v11.6h-11.6zM1803.6 280.6h11.6v11.6h-11.6zM1804.4 281.9h11.6v11.6h-11.6zM1805.3 283.3h11.6v11.6h-11.6zM1806.2 284.7h11.6v11.6h-11.6zM1807 286h11.6v11.6h-11.6zM1807.9 287.4h11.6v11.6h-11.6zM1808.7 288.7h11.6v11.6h-11.6zM1809.6 290.1h11.6v11.6h-11.6zM1810.5 291.5h11.6v11.6h-11.6zM1811.3 292.8h11.6v11.6h-11.6zM1812.2 294.2h11.6v11.6h-11.6zM1812.6 295.7h11.6v11.6h-11.6zM1813 297.1h11.6v11.6h-11.6zM1813.4 298.6h11.6v11.6h-11.6zM1813.8 300.1h11.6v11.6h-11.6zM1814.2 301.6h11.6v11.6h-11.6zM1814.6 303h11.6v11.6h-11.6zM1815 304.5h11.6v11.6h-11.6zM1815.4 306h11.6v11.6h-11.6zM1815.8 307.4h11.6v11.6h-11.6zM1816.2 308.9h11.6v11.6h-11.6zM1816.6 310.4h11.6v11.6h-11.6zM1817 311.8h11.6v11.6h-11.6zM1817.4 313.3h11.6v11.6h-11.6zM1817.8 314.8h11.6v11.6h-11.6zM1818.2 316.3h11.6v11.6h-11.6zM1818.6 317.7h11.6v11.6h-11.6zM1819 319.2h11.6v11.6h-11.6zM1819.6 320.6h11.6v11.6h-11.6zM1820.3 322.1h11.6v11.6h-11.6zM1820.9 323.5h11.6v11.6h-11.6zM1821.5 324.9h11.6v11.6h-11.6zM1822.2 326.4h11.6v11.6h-11.6zM1822.8 327.8h11.6v11.6h-11.6zM1823.5 329.3h11.6v11.6h-11.6zM1824.1 330.7h11.6v11.6h-11.6zM1824.7 332.1h11.6v11.6h-11.6zM1825.4 333.6h11.6v11.6h-11.6zM1826 335h11.6v11.6h-11.6zM1826.7 336.4h11.6v11.6h-11.6zM1827.3 337.9h11.6v11.6h-11.6zM1827.9 339.3h11.6v11.6h-11.6zM1828.6 340.8h11.6v11.6h-11.6zM1829.2 342.2h11.6v11.6h-11.6zM1829.7 343.6h11.6v11.6h-11.6zM1830.3 345h11.6v11.6h-11.6zM1830.8 346.4h11.6v11.6h-11.6zM1831.3 347.9h11.6v11.6h-11.6zM1831.9 349.3h11.6v11.6h-11.6zM1832.4 350.7h11.6v11.6h-11.6zM1832.9 352.1h11.6v11.6h-11.6zM1833.5 353.5h11.6v11.6h-11.6zM1834 354.9h11.6v11.6h-11.6zM1834.5 356.4h11.6v11.6h-11.6zM1835.1 357.8h11.6v11.6h-11.6zM1835.6 359.2h11.6v11.6h-11.6zM1836.1 360.6h11.6v11.6h-11.6zM1836.6 362.1h11.6v11.6h-11.6zM1837.1 363.5h11.6v11.6h-11.6zM1837.7 364.9h11.6v11.6h-11.6zM1838.2 366.3h11.6v11.6h-11.6zM1838.7 367.8h11.6v11.6h-11.6zM1839.2 369.2h11.6v11.6h-11.6zM1839.7 370.6h11.6v11.6h-11.6zM1840.2 372.1h11.6v11.6h-11.6zM1840.7 373.5h11.6v11.6h-11.6zM1841.3 374.9h11.6v11.6h-11.6zM1841.8 376.3h11.6v11.6h-11.6zM1842.3 377.8h11.6v11.6h-11.6zM1842.8 379.2h11.6v11.6h-11.6zM1843.4 380.7h11.6v11.6h-11.6zM1844 382.2h11.6v11.6h-11.6zM1844.7 383.7h11.6v11.6h-11.6zM1845.3 385.2h11.6v11.6h-11.6zM1845.9 386.7h11.6v11.6h-11.6zM1846.5 388.2h11.6v11.6h-11.6zM1847.1 389.7h11.6v11.6h-11.6zM1847.8 391.2h11.6v11.6h-11.6zM1848.4 392.7h11.6v11.6h-11.6zM1849 394.2h11.6v11.6h-11.6zM1849.6 395.6h11.6v11.6h-11.6zM1850.2 396.9h11.6v11.6h-11.6zM1850.8 398.3h11.6v11.6h-11.6zM1851.5 399.7h11.6v11.6h-11.6zM1852.1 401.1h11.6v11.6h-11.6zM1852.7 402.4h11.6v11.6h-11.6zM1853.3 403.8h11.6v11.6h-11.6zM1853.9 405.2h11.6v11.6h-11.6zM1854.4 406.7h11.6v11.6h-11.6zM1855 408.2h11.6v11.6h-11.6zM1855.5 409.7h11.6v11.6h-11.6zM1856 411.2h11.6v11.6h-11.6zM1856.5 412.7h11.6v11.6h-11.6zM1857 414.2h11.6v11.6h-11.6zM1857.6 415.7h11.6v11.6h-11.6zM1858.1 417.2h11.6v11.6h-11.6zM1858.6 418.7h11.6v11.6h-11.6zM1859.2 420.2h11.6v11.6h-11.6zM1859.7 421.7h11.6v11.6h-11.6zM1860.2 423.2h11.6v11.6h-11.6zM1860.9 424.6h11.6v11.6h-11.6zM1861.5 426.1h11.6v11.6h-11.6zM1862.2 427.6h11.6v11.6h-11.6zM1862.9 429h11.6v11.6h-11.6zM1863.5 430.4h11.6v11.6h-11.6zM1864.2 431.9h11.6v11.6h-11.6zM1865.9 432.1h11.6v11.6h-11.6zM1867.5 432.2h11.6v11.6h-11.6zM1869.2 432.4h11.6v11.6h-11.6zM1870.9 432.6h11.6v11.6h-11.6zM1872.5 432.7h11.6v11.6h-11.6zM1874.2 432.9h11.6v11.6h-11.6zM1875.7 432.9h11.6v11.6h-11.6zM1877.2 432.9h11.6v11.6h-11.6zM1878.7 432.9h11.6v11.6h-11.6zM1880.2 432.9h11.6v11.6h-11.6zM1881.7 432.9h11.6v11.6h-11.6zM1883.2 432.9h11.6v11.6h-11.6zM1884.7 432.9h11.6v11.6h-11.6zM1886.3 432.9h11.6v11.6h-11.6zM1887.8 432.9h11.6v11.6h-11.6zM1889.3 432.9h11.6v11.6h-11.6zM1890.8 432.9h11.6v11.6h-11.6zM1892.3 432.9h11.6v11.6h-11.6zM1893.8 432.9h11.6v11.6h-11.6zM1895.3 432.9h11.6v11.6h-11.6zM1896.8 432.9h11.6v11.6h-11.6zM1898.3 432.9h11.6v11.6h-11.6zM1899.8 432.9h11.6v11.6h-11.6zM1901.3 432.9h11.6v11.6h-11.6zM1902.8 432.9h11.6v11.6h-11.6zM1904.3 432.9h11.6v11.6h-11.6zM1905.8 432.9h11.6v11.6h-11.6zM1907.4 432.9h11.6v11.6h-11.6zM1908.9 432.9h11.6v11.6h-11.6zM1910.4 432.9h11.6v11.6h-11.6zM1911.9 432.9h11.6v11.6h-11.6zM1913.4 432.9h11.6v11.6h-11.6zM1914.9 432.9h11.6v11.6h-11.6zM1916.4 432.9h11.6v11.6h-11.6zM1917.9 432.9h11.6v11.6h-11.6zM1919.4 432.9h11.6v11.6h-11.6zM1920.9 432.9h11.6v11.6h-11.6zM1922.4 432.9h11.6v11.6h-11.6zM1923.9 432.9h11.6v11.6h-11.6zM1925.4 432.9h11.6v11.6h-11.6zM1926.9 432.9h11.6v11.6h-11.6zM1928.4 432.9h11.6v11.6h-11.6zM1930 432.9h11.6v11.6h-11.6zM1931.5 432.9h11.6v11.6h-11.6zM1933 432.9h11.6v11.6h-11.6zM1934.5 432.9h11.6v11.6h-11.6zM1936 432.9h11.6v11.6h-11.6zM1937.5 432.9h11.6v11.6h-11.6zM1939 432.9h11.6v11.6h-11.6zM1940.5 432.9h11.6v11.6h-11.6zM1942 432.9h11.6v11.6h-11.6zM1943.5 432.9h11.6v11.6h-11.6zM1945 432.9h11.6v11.6h-11.6zM1946.5 432.9h11.6v11.6h-11.6zM1948 432.9h11.6v11.6h-11.6zM1949.5 432.9h11.6v11.6h-11.6zM1951 432.9h11.6v11.6h-11.6zM1952.6 432.9h11.6v11.6h-11.6zM1954.1 432.9h11.6v11.6h-11.6zM1955.6 432.9h11.6v11.6h-11.6zM1957.1 432.9h11.6v11.6h-11.6zM1958.6 432.9h11.6v11.6h-11.6zM1960.1 432.9h11.6v11.6h-11.6zM1961.6 432.9h11.6v11.6h-11.6zM1963.1 432.9h11.6v11.6h-11.6zM1964.6 432.9h11.6v11.6h-11.6zM1966.1 432.9h11.6v11.6h-11.6zM1967.6 432.9h11.6v11.6h-11.6zM1969.1 432.9h11.6v11.6h-11.6zM1970.6 432.9h11.6v11.6h-11.6zM1972.1 432.9h11.6v11.6h-11.6zM1973.7 432.9h11.6v11.6h-11.6zM1975.2 432.9h11.6v11.6h-11.6zM1976.7 432.9h11.6v11.6h-11.6zM1978.2 432.9h11.6v11.6h-11.6zM1979.7 432.9h11.6v11.6h-11.6zM1981.2 432.9h11.6v11.6h-11.6zM1982.7 432.9h11.6v11.6h-11.6zM1984.2 432.9h11.6v11.6h-11.6zM1985.5 434h11.6v11.6h-11.6zM1986.7 435.1h11.6v11.6h-11.6zM1988 436.1h11.6v11.6h-11.6zM1989.2 437.2h11.6v11.6h-11.6zM1990.4 438.1h11.6v11.6h-11.6zM1991.6 439h11.6v11.6h-11.6zM1992.8 439.9h11.6v11.6h-11.6zM1994 440.8h11.6v11.6h-11.6zM1995.2 441.7h11.6v11.6h-11.6zM1996.5 442.8h11.6v11.6h-11.6zM1997.7 443.9h11.6v11.6h-11.6zM1999 445.1h11.6v11.6h-11.6zM2000.2 446.2h11.6v11.6h-11.6zM2001 447.7h11.6v11.6h-11.6zM2001.7 449.2h11.6v11.6h-11.6zM2002.5 450.7h11.6v11.6h-11.6zM2003.2 452.2h11.6v11.6h-11.6zM2003.4 453.9h11.6v11.6h-11.6zM2003.5 455.5h11.6v11.6h-11.6zM2003.7 457.2h11.6v11.6h-11.6zM2003.9 459h11.6v11.6h-11.6zM2004 460.9h11.6v11.6h-11.6zM2004.2 462.7h11.6v11.6h-11.6z" fill="#000"/>
<path d="M178.8 589.6L186 586.9L193.1 585.1L200.8 583.8L207.5 619.1L214.6 615.9L221.8 654.9L229 667.1L235.8 690.2L242.8 730.5L250.5 734.6L257.1 762L264.2 768.7L271.4 768.7L278.8 810.4L285.9 807.2L292.9 812.2L300 861.5L314.1 870.3L321.3 889.4L328.5 877.6L335.7 874.6L342.7 881.6L349.7 862.5L364.3 864.3L370.9 858.2L378.4 870.2L385.9 839.4L392.5 873L399.7 856.9L406.6 830.9L420.8 862.5L427.9 828.1L434.9 852.7L442 835.3L449 837.8L456.2 818.1L463.3 835.3L470.6 843.6L477.8 820.3L484.4 855.9L491.9 871.6L498.9 842.7L513 843.7L520.5 866L527.6 879.1L534.3 828.3L548.7 836.9L555.9 842.7L563 832.8L570 856.9L577.5 830.9L584.1 870.2L598.6 835.3L605.7 875.8" fill="none" stroke="#000" stroke-width="1.3"/>
<path d="M171.7 582.5h14.2v14.2h-14.2zM178.9 579.8h14.2v14.2h-14.2zM186 578h14.2v14.2h-14.2zM193.7 576.7h14.2v14.2h-14.2zM200.4 612h14.2v14.2h-14.2zM207.5 608.8h14.2v14.2h-14.2zM214.7 647.8h14.2v14.2h-14.2zM221.9 660h14.2v14.2h-14.2zM228.7 683.1h14.2v14.2h-14.2zM235.7 723.4h14.2v14.2h-14.2zM243.4 727.5h14.2v14.2h-14.2zM250 754.9h14.2v14.2h-14.2zM257.1 761.6h14.2v14.2h-14.2zM264.3 761.6h14.2v14.2h-14.2zM271.7 803.3h14.2v14.2h-14.2zM278.8 800.1h14.2v14.2h-14.2zM285.8 805.1h14.2v14.2h-14.2zM292.9 854.4h14.2v14.2h-14.2zM307 863.2h14.2v14.2h-14.2zM314.2 882.3h14.2v14.2h-14.2zM321.4 870.5h14.2v14.2h-14.2zM328.6 867.5h14.2v14.2h-14.2zM335.6 874.5h14.2v14.2h-14.2zM342.6 855.4h14.2v14.2h-14.2zM357.2 857.2h14.2v14.2h-14.2zM363.8 851.1h14.2v14.2h-14.2zM371.3 863.1h14.2v14.2h-14.2zM378.8 832.3h14.2v14.2h-14.2zM385.4 865.9h14.2v14.2h-14.2zM392.6 849.8h14.2v14.2h-14.2zM399.5 823.8h14.2v14.2h-14.2zM413.7 855.4h14.2v14.2h-14.2zM420.8 821h14.2v14.2h-14.2zM427.8 845.6h14.2v14.2h-14.2zM434.9 828.2h14.2v14.2h-14.2zM441.9 830.7h14.2v14.2h-14.2zM449.1 811h14.2v14.2h-14.2zM456.2 828.2h14.2v14.2h-14.2zM463.5 836.5h14.2v14.2h-14.2zM470.7 813.2h14.2v14.2h-14.2zM477.3 848.8h14.2v14.2h-14.2zM484.8 864.5h14.2v14.2h-14.2zM491.8 835.6h14.2v14.2h-14.2zM505.9 836.6h14.2v14.2h-14.2zM513.4 858.9h14.2v14.2h-14.2zM520.5 872h14.2v14.2h-14.2zM527.2 821.2h14.2v14.2h-14.2zM541.6 829.8h14.2v14.2h-14.2zM548.8 835.6h14.2v14.2h-14.2zM555.9 825.7h14.2v14.2h-14.2zM562.9 849.8h14.2v14.2h-14.2zM570.4 823.8h14.2v14.2h-14.2zM577 863.1h14.2v14.2h-14.2zM591.5 828.2h14.2v14.2h-14.2zM598.6 868.7h14.2v14.2h-14.2z" fill="#000"/>
<path d="M882.3 587.5L889.3 566.4L896.4 571.7L904 574.6L911 577.6L918.1 582.8L924.5 589.3L931.8 586.4L939.2 614.5L953.3 605.1L966.7 597.5L974.4 590.5L988.4 622.1L1002.5 607.5L1009.6 612.8L1016.6 619.8L1030.7 617.4L1038 612.8L1044.8 629.2L1051.8 618.6L1058.8 641.5L1065.9 641.5L1072.9 641.5L1080 623.9L1087.2 643.4L1101.2 706.7L1108.3 720L1115.5 754.3L1122.2 790L1129.4 800.2L1136.3 790L1143.5 836.6L1150.9 819.5L1157.6 819.5L1164.5 797.1L1171.7 811.8L1178.6 824.5L1186.2 810.1L1193.2 806.5L1200.3 816.7L1207.2 815.1L1214 848.8L1221.4 837.8L1235.5 836L1242.1 849.6L1248.8 822.2L1256.7 823.7L1263.7 855.1L1270.8 844.1L1277.8 844.6L1284.9 880.9L1291.9 878.6L1299 878.6L1306 866.8" fill="none" stroke="#000" stroke-width="1.3"/>
<path d="M875.2 580.4h14.2v14.2h-14.2zM882.2 559.3h14.2v14.2h-14.2zM889.3 564.6h14.2v14.2h-14.2zM896.9 567.5h14.2v14.2h-14.2zM903.9 570.5h14.2v14.2h-14.2zM911 575.7h14.2v14.2h-14.2zM917.4 582.2h14.2v14.2h-14.2zM924.7 579.3h14.2v14.2h-14.2zM932.1 607.4h14.2v14.2h-14.2zM946.2 598h14.2v14.2h-14.2zM959.6 590.4h14.2v14.2h-14.2zM967.3 583.4h14.2v14.2h-14.2zM981.3 615h14.2v14.2h-14.2zM995.4 600.4h14.2v14.2h-14.2zM1002.5 605.7h14.2v14.2h-14.2zM1009.5 612.7h14.2v14.2h-14.2zM1023.6 610.3h14.2v14.2h-14.2zM1030.9 605.7h14.2v14.2h-14.2zM1037.7 622.1h14.2v14.2h-14.2zM1044.7 611.5h14.2v14.2h-14.2zM1051.7 634.4h14.2v14.2h-14.2zM1058.8 634.4h14.2v14.2h-14.2zM1065.8 634.4h14.2v14.2h-14.2zM1072.9 616.8h14.2v14.2h-14.2zM1080.1 636.3h14.2v14.2h-14.2zM1094.1 699.6h14.2v14.2h-14.2zM1101.2 712.9h14.2v14.2h-14.2zM1108.4 747.2h14.2v14.2h-14.2zM1115.1 782.9h14.2v14.2h-14.2zM1122.3 793.1h14.2v14.2h-14.2zM1129.2 782.9h14.2v14.2h-14.2zM1136.4 829.5h14.2v14.2h-14.2zM1143.8 812.4h14.2v14.2h-14.2zM1150.5 812.4h14.2v14.2h-14.2zM1157.4 790h14.2v14.2h-14.2zM1164.6 804.7h14.2v14.2h-14.2zM1171.5 817.4h14.2v14.2h-14.2zM1179.1 803h14.2v14.2h-14.2zM1186.1 799.4h14.2v14.2h-14.2zM1193.2 809.6h14.2v14.2h-14.2zM1200.1 808h14.2v14.2h-14.2zM1206.9 841.7h14.2v14.2h-14.2zM1214.3 830.7h14.2v14.2h-14.2zM1228.4 828.9h14.2v14.2h-14.2zM1235 842.5h14.2v14.2h-14.2zM1241.7 815.1h14.2v14.2h-14.2zM1249.6 816.6h14.2v14.2h-14.2zM1256.6 848h14.2v14.2h-14.2zM1263.7 837h14.2v14.2h-14.2zM1270.7 837.5h14.2v14.2h-14.2zM1277.8 873.8h14.2v14.2h-14.2zM1284.8 871.5h14.2v14.2h-14.2zM1291.9 871.5h14.2v14.2h-14.2zM1298.9 859.7h14.2v14.2h-14.2z" fill="#000"/>
<path d="M1581.7 578.6L1589.1 577.8L1596.3 591.9L1603.3 579.3L1617.7 599.5L1624.9 589L1631.9 589.7L1638.9 610.3L1645.9 604.2L1653.1 607.1L1667.2 602.4L1674.2 607.8L1681.6 629L1688.4 610.3L1695.4 618.1L1702.7 627.5L1709.9 635.1L1716.9 628.1L1731.1 624.3L1738.5 631.7L1745.5 643.7L1753.2 642.9L1759.9 658.7L1766.6 643.4L1773.8 655.8L1781 670.8L1788 664.8L1802 649L1808.9 674.5L1816.7 661.8L1823.1 684L1830.5 694.2L1844.9 685.6L1851.9 707.9L1858.7 703.9L1866 718.9L1872.7 713.3L1880 714.7L1887.1 724L1894.4 741.8L1901.5 730.6L1908.4 745.4L1915.6 747.6L1923.2 751.1L1930.2 762.1L1937 777.9L1944 791.2L1951.3 800.6L1958.3 800.6L1965.5 797.1L1972.2 824.7L1980.1 808.3L1986.9 840.3L1993.8 856.1L2000.9 869.4L2008.6 893.8" fill="none" stroke="#000" stroke-width="1.3"/>
<path d="M1574.6 571.5h14.2v14.2h-14.2zM1582 570.7h14.2v14.2h-14.2zM1589.2 584.8h14.2v14.2h-14.2zM1596.2 572.2h14.2v14.2h-14.2zM1610.6 592.4h14.2v14.2h-14.2zM1617.8 581.9h14.2v14.2h-14.2zM1624.8 582.6h14.2v14.2h-14.2zM1631.8 603.2h14.2v14.2h-14.2zM1638.8 597.1h14.2v14.2h-14.2zM1646 600h14.2v14.2h-14.2zM1660.1 595.3h14.2v14.2h-14.2zM1667.1 600.7h14.2v14.2h-14.2zM1674.5 621.9h14.2v14.2h-14.2zM1681.3 603.2h14.2v14.2h-14.2zM1688.3 611h14.2v14.2h-14.2zM1695.6 620.4h14.2v14.2h-14.2zM1702.8 628h14.2v14.2h-14.2zM1709.8 621h14.2v14.2h-14.2zM1724 617.2h14.2v14.2h-14.2zM1731.4 624.6h14.2v14.2h-14.2zM1738.4 636.6h14.2v14.2h-14.2zM1746.1 635.8h14.2v14.2h-14.2zM1752.8 651.6h14.2v14.2h-14.2zM1759.5 636.3h14.2v14.2h-14.2zM1766.7 648.7h14.2v14.2h-14.2zM1773.9 663.7h14.2v14.2h-14.2zM1780.9 657.7h14.2v14.2h-14.2zM1794.9 641.9h14.2v14.2h-14.2zM1801.8 667.4h14.2v14.2h-14.2zM1809.6 654.7h14.2v14.2h-14.2zM1816 676.9h14.2v14.2h-14.2zM1823.4 687.1h14.2v14.2h-14.2zM1837.8 678.5h14.2v14.2h-14.2zM1844.8 700.8h14.2v14.2h-14.2zM1851.6 696.8h14.2v14.2h-14.2zM1858.9 711.8h14.2v14.2h-14.2zM1865.6 706.2h14.2v14.2h-14.2zM1872.9 707.6h14.2v14.2h-14.2zM1880 716.9h14.2v14.2h-14.2zM1887.3 734.7h14.2v14.2h-14.2zM1894.4 723.5h14.2v14.2h-14.2zM1901.3 738.3h14.2v14.2h-14.2zM1908.5 740.5h14.2v14.2h-14.2zM1916.1 744h14.2v14.2h-14.2zM1923.1 755h14.2v14.2h-14.2zM1929.9 770.8h14.2v14.2h-14.2zM1936.9 784.1h14.2v14.2h-14.2zM1944.2 793.5h14.2v14.2h-14.2zM1951.2 793.5h14.2v14.2h-14.2zM1958.4 790h14.2v14.2h-14.2zM1965.1 817.6h14.2v14.2h-14.2zM1973 801.2h14.2v14.2h-14.2zM1979.8 833.2h14.2v14.2h-14.2zM1986.7 849h14.2v14.2h-14.2zM1993.8 862.3h14.2v14.2h-14.2zM2001.5 886.7h14.2v14.2h-14.2z" fill="#000"/>
<path d="M178.8 574.3V604.8M175.3 574.3h7M175.3 604.8h7M186 572.9V598M182.5 572.9h7M182.5 598h7M193.1 574V597.6M189.6 574h7M189.6 597.6h7M200.8 574.3V592M197.3 574.3h7M197.3 592h7M214.6 604.4V626M211.1 604.4h7M211.1 626h7M235.8 679V701.5M232.3 679h7M232.3 701.5h7M250.5 718.5V751.3M247 718.5h7M247 751.3h7M257.1 750V780.3M253.6 750h7M253.6 780.3h7M264.2 750.8V789.8M260.7 750.8h7M260.7 789.8h7" stroke="#333" stroke-width="1" fill="none"/>
<path d="M328.4 112.8V510" stroke="#000" stroke-width="3.8" stroke-dasharray="11.2 4"/>
<path d="M359.6 112.8V510" stroke="#000" stroke-width="3.8" stroke-dasharray="11.2 4"/>
<path d="M1023.8 112.7V509" stroke="#000" stroke-width="3.8" stroke-dasharray="11.2 4"/>
<path d="M1052.3 112.7V509" stroke="#000" stroke-width="3.8" stroke-dasharray="11.2 4"/>
<path d="M1870.2 185.7V510" stroke="#000" stroke-width="3.8" stroke-dasharray="11.2 4"/>
<path d="M290 413.5H312" stroke="#000" stroke-width="4"/>
<path d="M327 413.5L311 405.8L311 421.2z" fill="#000"/>
<path d="M377 413.5H398.9" stroke="#000" stroke-width="4"/>
<path d="M362 413.5L378 405.8L378 421.2z" fill="#000"/>
<path d="M984 413H1006.3" stroke="#000" stroke-width="4"/>
<path d="M1021.3 413L1005.3 405.3L1005.3 420.7z" fill="#000"/>
<path d="M1069.8 413H1092.3" stroke="#000" stroke-width="4"/>
<path d="M1054.8 413L1070.8 405.3L1070.8 420.7z" fill="#000"/>
<path d="M1887.6 411.5H1909.4" stroke="#000" stroke-width="4"/>
<path d="M1872.6 411.5L1888.6 403.8L1888.6 419.2z" fill="#000"/>
<text transform="translate(460.5 175.5) scale(1 1.045)" font-size="31.5">Pure FeTi</text>
<text transform="translate(1118.7 172.8) scale(1 1.045)" font-size="31.5">C45-Gr2 FeTi</text>
<text transform="translate(1805.4 170.2) scale(1 1.045)" font-size="31.5">316L-Gr2 FeTi</text>
<text transform="translate(191.3 422.8) scale(1 1.045)" font-size="31.3">157°C</text>
<text transform="translate(400.6 422.8) scale(1 1.045)" font-size="31.3">177 °C</text>
<text transform="translate(883.8 422) scale(1 1.045)" font-size="30.6">154 °C</text>
<text transform="translate(1093.2 422) scale(1 1.045)" font-size="30.8">169 °C</text>
<text transform="translate(1909.4 422) scale(1 1.045)" font-size="31.5">255 °C</text>
<path d="M179.1 996.6L186.2 994.7L193.3 993.1L200.4 999.4L207.5 1030.5L214.6 1047.6L221.7 1065.7L228.8 1083L235.9 1098.9L243 1119.8L250.1 1140.2L257.2 1155.4L264.3 1167.9L271.4 1193.8L278.5 1216.1L285.6 1227.9L292.7 1256.5L299.8 1283.5L306.9 1292.4L314 1297.5L321.1 1316.3L328.2 1310.4L335.3 1303.1L342.4 1305.4L349.5 1294L356.6 1253.2L363.7 1287.6L370.8 1280L377.9 1289.7L385 1281.7L392.1 1292.6L399.3 1272.8L406.4 1262L413.5 1266.8L420.6 1256.5L427.7 1246.2L434.8 1247.7L441.9 1234.6L449 1212.7L456.1 1219.5L463.2 1230.8L470.3 1224.4L477.4 1199.6L484.5 1230.4L491.6 1253.7L498.7 1225.4L505.8 1217.7L512.9 1224.7L520 1244.9L527.1 1241.3L534.2 1187L541.3 1193.2L548.4 1193.7L555.5 1198.7L562.6 1198.9L569.7 1214.4L576.8 1219.5L583.9 1215.2L591 1195.6L598.1 1177.1L605.2 1212.7" fill="none" stroke="#04B7F5" stroke-width="1.4"/>
<path d="M171.8 989.3h14.6v14.6h-14.6zM178.9 987.4h14.6v14.6h-14.6zM186 985.8h14.6v14.6h-14.6zM193.1 992.1h14.6v14.6h-14.6zM200.2 1023.2h14.6v14.6h-14.6zM207.3 1040.3h14.6v14.6h-14.6zM214.4 1058.4h14.6v14.6h-14.6zM221.5 1075.7h14.6v14.6h-14.6zM228.6 1091.6h14.6v14.6h-14.6zM235.7 1112.5h14.6v14.6h-14.6zM242.8 1132.9h14.6v14.6h-14.6zM249.9 1148.1h14.6v14.6h-14.6zM257 1160.6h14.6v14.6h-14.6zM264.1 1186.5h14.6v14.6h-14.6zM271.2 1208.8h14.6v14.6h-14.6zM278.3 1220.6h14.6v14.6h-14.6zM285.4 1249.2h14.6v14.6h-14.6zM292.5 1276.2h14.6v14.6h-14.6zM299.6 1285.1h14.6v14.6h-14.6zM306.7 1290.2h14.6v14.6h-14.6zM313.8 1309h14.6v14.6h-14.6zM320.9 1303.1h14.6v14.6h-14.6zM328 1295.8h14.6v14.6h-14.6zM335.1 1298.1h14.6v14.6h-14.6zM342.2 1286.7h14.6v14.6h-14.6zM349.3 1245.9h14.6v14.6h-14.6zM356.4 1280.3h14.6v14.6h-14.6zM363.5 1272.7h14.6v14.6h-14.6zM370.6 1282.4h14.6v14.6h-14.6zM377.7 1274.4h14.6v14.6h-14.6zM384.8 1285.3h14.6v14.6h-14.6zM392 1265.5h14.6v14.6h-14.6zM399.1 1254.7h14.6v14.6h-14.6zM406.2 1259.5h14.6v14.6h-14.6zM413.3 1249.2h14.6v14.6h-14.6zM420.4 1238.9h14.6v14.6h-14.6zM427.5 1240.4h14.6v14.6h-14.6zM434.6 1227.3h14.6v14.6h-14.6zM441.7 1205.4h14.6v14.6h-14.6zM448.8 1212.2h14.6v14.6h-14.6zM455.9 1223.5h14.6v14.6h-14.6zM463 1217.1h14.6v14.6h-14.6zM470.1 1192.3h14.6v14.6h-14.6zM477.2 1223.1h14.6v14.6h-14.6zM484.3 1246.4h14.6v14.6h-14.6zM491.4 1218.1h14.6v14.6h-14.6zM498.5 1210.4h14.6v14.6h-14.6zM505.6 1217.4h14.6v14.6h-14.6zM512.7 1237.6h14.6v14.6h-14.6zM519.8 1234h14.6v14.6h-14.6zM526.9 1179.7h14.6v14.6h-14.6zM534 1185.9h14.6v14.6h-14.6zM541.1 1186.4h14.6v14.6h-14.6zM548.2 1191.4h14.6v14.6h-14.6zM555.3 1191.6h14.6v14.6h-14.6zM562.4 1207.1h14.6v14.6h-14.6zM569.5 1212.2h14.6v14.6h-14.6zM576.6 1207.9h14.6v14.6h-14.6zM583.7 1188.3h14.6v14.6h-14.6zM590.8 1169.8h14.6v14.6h-14.6zM597.9 1205.4h14.6v14.6h-14.6z" fill="#04B7F5"/>
<path d="M179.1 995.6L186.2 993.7L193.3 992L200.4 997.7L207.5 1027.7L214.6 1043.6L221.7 1060.2L228.8 1077.9L235.9 1094.1L243 1116.2L250.1 1136.3L257.2 1148.9L264.3 1161.3L271.4 1186.9L278.5 1207.5L285.6 1212L292.7 1249.3L299.8 1267L306.9 1250.7L314 1269.3L321.1 1302.9L328.2 1296.4L335.3 1288.7L342.4 1285L349.5 1272L356.6 1228.9L363.7 1259.4L370.8 1262.7L377.9 1259.3L385 1237.5L392.1 1263.2L399.3 1250.5L406.4 1223.4L413.5 1235.7L420.6 1248.4L427.7 1213.4L434.8 1214.4L441.9 1223.8L449 1205.7L456.1 1189.3L463.2 1203.8L470.3 1201.8L477.4 1187L484.5 1211.3L491.6 1232.8L498.7 1209L505.8 1199.3L512.9 1199.4L520 1221.2L527.1 1235.2L534.2 1176.7L541.3 1180.6L548.4 1183.5L555.5 1179.3L562.6 1176.4L569.7 1196.7L576.8 1168L583.9 1203.8L591 1189.6L598.1 1171.5L605.2 1210.6" fill="none" stroke="#EC4F5F" stroke-width="1.4"/>
<path d="M171.3 995.6a7.8 7.8 0 1 0 15.6 0a7.8 7.8 0 1 0 -15.6 0zM178.4 993.7a7.8 7.8 0 1 0 15.6 0a7.8 7.8 0 1 0 -15.6 0zM185.5 992a7.8 7.8 0 1 0 15.6 0a7.8 7.8 0 1 0 -15.6 0zM192.6 997.7a7.8 7.8 0 1 0 15.6 0a7.8 7.8 0 1 0 -15.6 0zM199.7 1027.7a7.8 7.8 0 1 0 15.6 0a7.8 7.8 0 1 0 -15.6 0zM206.8 1043.6a7.8 7.8 0 1 0 15.6 0a7.8 7.8 0 1 0 -15.6 0zM213.9 1060.2a7.8 7.8 0 1 0 15.6 0a7.8 7.8 0 1 0 -15.6 0zM221 1077.9a7.8 7.8 0 1 0 15.6 0a7.8 7.8 0 1 0 -15.6 0zM228.1 1094.1a7.8 7.8 0 1 0 15.6 0a7.8 7.8 0 1 0 -15.6 0zM235.2 1116.2a7.8 7.8 0 1 0 15.6 0a7.8 7.8 0 1 0 -15.6 0zM242.3 1136.3a7.8 7.8 0 1 0 15.6 0a7.8 7.8 0 1 0 -15.6 0zM249.4 1148.9a7.8 7.8 0 1 0 15.6 0a7.8 7.8 0 1 0 -15.6 0zM256.5 1161.3a7.8 7.8 0 1 0 15.6 0a7.8 7.8 0 1 0 -15.6 0zM263.6 1186.9a7.8 7.8 0 1 0 15.6 0a7.8 7.8 0 1 0 -15.6 0zM270.7 1207.5a7.8 7.8 0 1 0 15.6 0a7.8 7.8 0 1 0 -15.6 0zM277.8 1212a7.8 7.8 0 1 0 15.6 0a7.8 7.8 0 1 0 -15.6 0zM284.9 1249.3a7.8 7.8 0 1 0 15.6 0a7.8 7.8 0 1 0 -15.6 0zM292 1267a7.8 7.8 0 1 0 15.6 0a7.8 7.8 0 1 0 -15.6 0zM299.1 1250.7a7.8 7.8 0 1 0 15.6 0a7.8 7.8 0 1 0 -15.6 0zM306.2 1269.3a7.8 7.8 0 1 0 15.6 0a7.8 7.8 0 1 0 -15.6 0zM313.3 1302.9a7.8 7.8 0 1 0 15.6 0a7.8 7.8 0 1 0 -15.6 0zM320.4 1296.4a7.8 7.8 0 1 0 15.6 0a7.8 7.8 0 1 0 -15.6 0zM327.5 1288.7a7.8 7.8 0 1 0 15.6 0a7.8 7.8 0 1 0 -15.6 0zM334.6 1285a7.8 7.8 0 1 0 15.6 0a7.8 7.8 0 1 0 -15.6 0zM341.7 1272a7.8 7.8 0 1 0 15.6 0a7.8 7.8 0 1 0 -15.6 0zM348.8 1228.9a7.8 7.8 0 1 0 15.6 0a7.8 7.8 0 1 0 -15.6 0zM355.9 1259.4a7.8 7.8 0 1 0 15.6 0a7.8 7.8 0 1 0 -15.6 0zM363 1262.7a7.8 7.8 0 1 0 15.6 0a7.8 7.8 0 1 0 -15.6 0zM370.1 1259.3a7.8 7.8 0 1 0 15.6 0a7.8 7.8 0 1 0 -15.6 0zM377.2 1237.5a7.8 7.8 0 1 0 15.6 0a7.8 7.8 0 1 0 -15.6 0zM384.3 1263.2a7.8 7.8 0 1 0 15.6 0a7.8 7.8 0 1 0 -15.6 0zM391.5 1250.5a7.8 7.8 0 1 0 15.6 0a7.8 7.8 0 1 0 -15.6 0zM398.6 1223.4a7.8 7.8 0 1 0 15.6 0a7.8 7.8 0 1 0 -15.6 0zM405.7 1235.7a7.8 7.8 0 1 0 15.6 0a7.8 7.8 0 1 0 -15.6 0zM412.8 1248.4a7.8 7.8 0 1 0 15.6 0a7.8 7.8 0 1 0 -15.6 0zM419.9 1213.4a7.8 7.8 0 1 0 15.6 0a7.8 7.8 0 1 0 -15.6 0zM427 1214.4a7.8 7.8 0 1 0 15.6 0a7.8 7.8 0 1 0 -15.6 0zM434.1 1223.8a7.8 7.8 0 1 0 15.6 0a7.8 7.8 0 1 0 -15.6 0zM441.2 1205.7a7.8 7.8 0 1 0 15.6 0a7.8 7.8 0 1 0 -15.6 0zM448.3 1189.3a7.8 7.8 0 1 0 15.6 0a7.8 7.8 0 1 0 -15.6 0zM455.4 1203.8a7.8 7.8 0 1 0 15.6 0a7.8 7.8 0 1 0 -15.6 0zM462.5 1201.8a7.8 7.8 0 1 0 15.6 0a7.8 7.8 0 1 0 -15.6 0zM469.6 1187a7.8 7.8 0 1 0 15.6 0a7.8 7.8 0 1 0 -15.6 0zM476.7 1211.3a7.8 7.8 0 1 0 15.6 0a7.8 7.8 0 1 0 -15.6 0zM483.8 1232.8a7.8 7.8 0 1 0 15.6 0a7.8 7.8 0 1 0 -15.6 0zM490.9 1209a7.8 7.8 0 1 0 15.6 0a7.8 7.8 0 1 0 -15.6 0zM498 1199.3a7.8 7.8 0 1 0 15.6 0a7.8 7.8 0 1 0 -15.6 0zM505.1 1199.4a7.8 7.8 0 1 0 15.6 0a7.8 7.8 0 1 0 -15.6 0zM512.2 1221.2a7.8 7.8 0 1 0 15.6 0a7.8 7.8 0 1 0 -15.6 0zM519.3 1235.2a7.8 7.8 0 1 0 15.6 0a7.8 7.8 0 1 0 -15.6 0zM526.4 1176.7a7.8 7.8 0 1 0 15.6 0a7.8 7.8 0 1 0 -15.6 0zM533.5 1180.6a7.8 7.8 0 1 0 15.6 0a7.8 7.8 0 1 0 -15.6 0zM540.6 1183.5a7.8 7.8 0 1 0 15.6 0a7.8 7.8 0 1 0 -15.6 0zM547.7 1179.3a7.8 7.8 0 1 0 15.6 0a7.8 7.8 0 1 0 -15.6 0zM554.8 1176.4a7.8 7.8 0 1 0 15.6 0a7.8 7.8 0 1 0 -15.6 0zM561.9 1196.7a7.8 7.8 0 1 0 15.6 0a7.8 7.8 0 1 0 -15.6 0zM569 1168a7.8 7.8 0 1 0 15.6 0a7.8 7.8 0 1 0 -15.6 0zM576.1 1203.8a7.8 7.8 0 1 0 15.6 0a7.8 7.8 0 1 0 -15.6 0zM583.2 1189.6a7.8 7.8 0 1 0 15.6 0a7.8 7.8 0 1 0 -15.6 0zM590.3 1171.5a7.8 7.8 0 1 0 15.6 0a7.8 7.8 0 1 0 -15.6 0zM597.4 1210.6a7.8 7.8 0 1 0 15.6 0a7.8 7.8 0 1 0 -15.6 0z" fill="#EC4F5F"/>
<path d="M179.1 998.7L186.2 997.3L193.3 995.5L200.4 1003.1L207.5 1034.7L214.6 1053.2L221.7 1068.8L228.8 1086.5L235.9 1103.7L243 1123.5L250.1 1144.6L257.2 1157.4L264.3 1173.3L271.4 1198.6L278.5 1221.4L285.6 1222.8L292.7 1256.4L299.8 1288.1L306.9 1291L314 1295.4L321.1 1316.7L328.2 1312.9L335.3 1305.1L342.4 1309.7L349.5 1293.1L356.6 1244.6L363.7 1290.4L370.8 1281.6L377.9 1292.2L385 1267.2L392.1 1292.2L399.3 1275.2L406.4 1248L413.5 1266.7L420.6 1276.2L427.7 1262.1L434.8 1265.1L441.9 1254.1L449 1249.5L456.1 1223.4L463.2 1242.6L470.3 1247.3L477.4 1221.3L484.5 1253L491.6 1273.2L498.7 1244.5L505.8 1240.1L512.9 1242L520 1261L527.1 1275.5L534.2 1220.1L541.3 1225.1L548.4 1230.3L555.5 1231.5L562.6 1219.5L569.7 1245.2L576.8 1219L583.9 1259.1L591 1239.1L598.1 1219.5L605.2 1258.7" fill="none" stroke="#37C05A" stroke-width="1.4"/>
<path d="M179.1 988.5L188.4 1004.1L169.8 1004.1zM186.2 987.1L195.5 1002.7L176.9 1002.7zM193.3 985.3L202.6 1000.9L184 1000.9zM200.4 992.9L209.7 1008.5L191.1 1008.5zM207.5 1024.5L216.8 1040.1L198.2 1040.1zM214.6 1043L223.9 1058.6L205.3 1058.6zM221.7 1058.6L231 1074.2L212.4 1074.2zM228.8 1076.3L238.1 1091.9L219.5 1091.9zM235.9 1093.5L245.2 1109.1L226.6 1109.1zM243 1113.3L252.3 1128.9L233.7 1128.9zM250.1 1134.4L259.4 1150L240.8 1150zM257.2 1147.2L266.5 1162.8L247.9 1162.8zM264.3 1163.1L273.6 1178.7L255 1178.7zM271.4 1188.4L280.7 1204L262.1 1204zM278.5 1211.2L287.8 1226.8L269.2 1226.8zM285.6 1212.6L294.9 1228.2L276.3 1228.2zM292.7 1246.2L302 1261.8L283.4 1261.8zM299.8 1277.9L309.1 1293.5L290.5 1293.5zM306.9 1280.8L316.2 1296.4L297.6 1296.4zM314 1285.2L323.3 1300.8L304.7 1300.8zM321.1 1306.5L330.4 1322.1L311.8 1322.1zM328.2 1302.7L337.5 1318.3L318.9 1318.3zM335.3 1294.9L344.6 1310.5L326 1310.5zM342.4 1299.5L351.7 1315.1L333.1 1315.1zM349.5 1282.9L358.8 1298.5L340.2 1298.5zM356.6 1234.4L365.9 1250L347.3 1250zM363.7 1280.2L373 1295.8L354.4 1295.8zM370.8 1271.4L380.1 1287L361.5 1287zM377.9 1282L387.2 1297.6L368.6 1297.6zM385 1257L394.3 1272.6L375.7 1272.6zM392.1 1282L401.4 1297.6L382.8 1297.6zM399.3 1265L408.6 1280.6L390 1280.6zM406.4 1237.8L415.7 1253.4L397.1 1253.4zM413.5 1256.5L422.8 1272.1L404.2 1272.1zM420.6 1266L429.9 1281.6L411.3 1281.6zM427.7 1251.9L437 1267.5L418.4 1267.5zM434.8 1254.9L444.1 1270.5L425.5 1270.5zM441.9 1243.9L451.2 1259.5L432.6 1259.5zM449 1239.3L458.3 1254.9L439.7 1254.9zM456.1 1213.2L465.4 1228.8L446.8 1228.8zM463.2 1232.4L472.5 1248L453.9 1248zM470.3 1237.1L479.6 1252.7L461 1252.7zM477.4 1211.1L486.7 1226.7L468.1 1226.7zM484.5 1242.8L493.8 1258.4L475.2 1258.4zM491.6 1263L500.9 1278.6L482.3 1278.6zM498.7 1234.3L508 1249.9L489.4 1249.9zM505.8 1229.9L515.1 1245.5L496.5 1245.5zM512.9 1231.8L522.2 1247.4L503.6 1247.4zM520 1250.8L529.3 1266.4L510.7 1266.4zM527.1 1265.3L536.4 1280.9L517.8 1280.9zM534.2 1209.9L543.5 1225.5L524.9 1225.5zM541.3 1214.9L550.6 1230.5L532 1230.5zM548.4 1220.1L557.7 1235.7L539.1 1235.7zM555.5 1221.3L564.8 1236.9L546.2 1236.9zM562.6 1209.3L571.9 1224.9L553.3 1224.9zM569.7 1235L579 1250.6L560.4 1250.6zM576.8 1208.8L586.1 1224.4L567.5 1224.4zM583.9 1248.9L593.2 1264.5L574.6 1264.5zM591 1228.9L600.3 1244.5L581.7 1244.5zM598.1 1209.3L607.4 1224.9L588.8 1224.9zM605.2 1248.5L614.5 1264.1L595.9 1264.1z" fill="#37C05A"/>
<path d="M179.1 993.8L186.2 992.9L193.3 991.1L200.4 999L207.5 1029.6L214.6 1048.5L221.7 1064.1L228.8 1081.5L235.9 1100.5L243 1119.3L250.1 1137.3L257.2 1152.6L264.3 1165.9L271.4 1192.8L278.5 1214.1L285.6 1223.8L292.7 1254.2L299.8 1282.2L306.9 1286.2L314 1292.8L321.1 1312.5L328.2 1304.7L335.3 1299.3L342.4 1304.6L349.5 1286.8L356.6 1239.4L363.7 1283.3L370.8 1275.9L377.9 1286.7L385 1260.3L392.1 1289.4L399.3 1269.5L406.4 1244.9L413.5 1262L420.6 1273L427.7 1259.4L434.8 1261.6L441.9 1249.1L449 1243.8L456.1 1218.1L463.2 1235.2L470.3 1240.5L477.4 1217.3L484.5 1247.1L491.6 1268.2L498.7 1238.4L505.8 1234.4L512.9 1238.5L520 1256.9L527.1 1269.2L534.2 1216.8L541.3 1218.9L548.4 1224L555.5 1225.4L562.6 1216.4L569.7 1239L576.8 1214.6L583.9 1253.5L591 1235L598.1 1215.3L605.2 1254.9" fill="none" stroke="#6A6FC4" stroke-width="1.4"/>
<path d="M169.8 988.4L188.4 988.4L179.1 1005.1zM176.9 987.5L195.5 987.5L186.2 1004.2zM184 985.7L202.6 985.7L193.3 1002.4zM191.1 993.6L209.7 993.6L200.4 1010.3zM198.2 1024.2L216.8 1024.2L207.5 1040.9zM205.3 1043.1L223.9 1043.1L214.6 1059.8zM212.4 1058.7L231 1058.7L221.7 1075.4zM219.5 1076.1L238.1 1076.1L228.8 1092.8zM226.6 1095.1L245.2 1095.1L235.9 1111.8zM233.7 1113.9L252.3 1113.9L243 1130.6zM240.8 1131.9L259.4 1131.9L250.1 1148.6zM247.9 1147.2L266.5 1147.2L257.2 1163.9zM255 1160.5L273.6 1160.5L264.3 1177.2zM262.1 1187.4L280.7 1187.4L271.4 1204.1zM269.2 1208.7L287.8 1208.7L278.5 1225.4zM276.3 1218.4L294.9 1218.4L285.6 1235.1zM283.4 1248.8L302 1248.8L292.7 1265.5zM290.5 1276.8L309.1 1276.8L299.8 1293.5zM297.6 1280.8L316.2 1280.8L306.9 1297.5zM304.7 1287.4L323.3 1287.4L314 1304.1zM311.8 1307.1L330.4 1307.1L321.1 1323.8zM318.9 1299.3L337.5 1299.3L328.2 1316zM326 1293.9L344.6 1293.9L335.3 1310.6zM333.1 1299.2L351.7 1299.2L342.4 1315.9zM340.2 1281.4L358.8 1281.4L349.5 1298.1zM347.3 1234L365.9 1234L356.6 1250.7zM354.4 1277.9L373 1277.9L363.7 1294.6zM361.5 1270.5L380.1 1270.5L370.8 1287.2zM368.6 1281.3L387.2 1281.3L377.9 1298zM375.7 1254.9L394.3 1254.9L385 1271.6zM382.8 1284L401.4 1284L392.1 1300.7zM390 1264.1L408.6 1264.1L399.3 1280.8zM397.1 1239.5L415.7 1239.5L406.4 1256.2zM404.2 1256.6L422.8 1256.6L413.5 1273.3zM411.3 1267.6L429.9 1267.6L420.6 1284.3zM418.4 1254L437 1254L427.7 1270.7zM425.5 1256.2L444.1 1256.2L434.8 1272.9zM432.6 1243.7L451.2 1243.7L441.9 1260.4zM439.7 1238.4L458.3 1238.4L449 1255.1zM446.8 1212.7L465.4 1212.7L456.1 1229.4zM453.9 1229.8L472.5 1229.8L463.2 1246.5zM461 1235.1L479.6 1235.1L470.3 1251.8zM468.1 1211.9L486.7 1211.9L477.4 1228.6zM475.2 1241.7L493.8 1241.7L484.5 1258.4zM482.3 1262.8L500.9 1262.8L491.6 1279.5zM489.4 1233L508 1233L498.7 1249.7zM496.5 1229L515.1 1229L505.8 1245.7zM503.6 1233.1L522.2 1233.1L512.9 1249.8zM510.7 1251.5L529.3 1251.5L520 1268.2zM517.8 1263.8L536.4 1263.8L527.1 1280.5zM524.9 1211.4L543.5 1211.4L534.2 1228.1zM532 1213.5L550.6 1213.5L541.3 1230.2zM539.1 1218.6L557.7 1218.6L548.4 1235.3zM546.2 1220L564.8 1220L555.5 1236.7zM553.3 1211L571.9 1211L562.6 1227.7zM560.4 1233.6L579 1233.6L569.7 1250.3zM567.5 1209.2L586.1 1209.2L576.8 1225.9zM574.6 1248.1L593.2 1248.1L583.9 1264.8zM581.7 1229.6L600.3 1229.6L591 1246.3zM588.8 1209.9L607.4 1209.9L598.1 1226.6zM595.9 1249.5L614.5 1249.5L605.2 1266.2z" fill="#6A6FC4"/>
<path d="M177.8 994.8L186.1 989.2L192.5 989.5L199.4 990.8L207.7 1026.4L216 1018.1L221 1058L229.3 1067.9L236 1091.2L244.3 1131.1L250.9 1132.7L257.6 1159.3L264 1161L270.9 1162.6L277.5 1200.9L285.5 1202.1L292.5 1197.5L299.1 1254L307.3 1234.5L314.1 1262.3L321 1288.9L329 1279L336 1272.3L342 1270L348.8 1252.1L356.8 1210.6L362.2 1249L371.1 1246.2L377.8 1240L385.5 1217.5L392.9 1246.2L399.3 1228.7L406.7 1196.3L413.5 1210L420.6 1225.5L427.5 1186.7L434.9 1210.6L442.3 1186.2L450.3 1190.4L455.6 1160.8L461.9 1177.6L468.6 1184.2L476.9 1157.7L483.6 1192.5L491.9 1207.5L498.5 1169.3L505 1170L511.8 1167.6L520.1 1185.9L526.8 1195.9L533.4 1139.4L540 1143L545 1145.4L555 1147.7L563.3 1137.7L570 1159.3L576.6 1124.4L584.9 1169.3L591.5 1150L598.2 1122.8L605 1161" fill="none" stroke="#FD9D38" stroke-width="1.4"/>
<path d="M177.8 984.5L187.1 994.8L177.8 1005.1L168.5 994.8zM186.1 978.9L195.4 989.2L186.1 999.5L176.8 989.2zM192.5 979.2L201.8 989.5L192.5 999.8L183.2 989.5zM199.4 980.5L208.7 990.8L199.4 1001.1L190.1 990.8zM207.7 1016.1L217 1026.4L207.7 1036.7L198.4 1026.4zM216 1007.8L225.3 1018.1L216 1028.4L206.7 1018.1zM221 1047.7L230.3 1058L221 1068.3L211.7 1058zM229.3 1057.6L238.6 1067.9L229.3 1078.2L220 1067.9zM236 1080.9L245.3 1091.2L236 1101.5L226.7 1091.2zM244.3 1120.8L253.6 1131.1L244.3 1141.4L235 1131.1zM250.9 1122.4L260.2 1132.7L250.9 1143L241.6 1132.7zM257.6 1149L266.9 1159.3L257.6 1169.6L248.3 1159.3zM264 1150.7L273.3 1161L264 1171.3L254.7 1161zM270.9 1152.3L280.2 1162.6L270.9 1172.9L261.6 1162.6zM277.5 1190.6L286.8 1200.9L277.5 1211.2L268.2 1200.9zM285.5 1191.8L294.8 1202.1L285.5 1212.4L276.2 1202.1zM292.5 1187.2L301.8 1197.5L292.5 1207.8L283.2 1197.5zM299.1 1243.7L308.4 1254L299.1 1264.3L289.8 1254zM307.3 1224.2L316.6 1234.5L307.3 1244.8L298 1234.5zM314.1 1252L323.4 1262.3L314.1 1272.6L304.8 1262.3zM321 1278.6L330.3 1288.9L321 1299.2L311.7 1288.9zM329 1268.7L338.3 1279L329 1289.3L319.7 1279zM336 1262L345.3 1272.3L336 1282.6L326.7 1272.3zM342 1259.7L351.3 1270L342 1280.3L332.7 1270zM348.8 1241.8L358.1 1252.1L348.8 1262.4L339.5 1252.1zM356.8 1200.3L366.1 1210.6L356.8 1220.9L347.5 1210.6zM362.2 1238.7L371.5 1249L362.2 1259.3L352.9 1249zM371.1 1235.9L380.4 1246.2L371.1 1256.5L361.8 1246.2zM377.8 1229.7L387.1 1240L377.8 1250.3L368.5 1240zM385.5 1207.2L394.8 1217.5L385.5 1227.8L376.2 1217.5zM392.9 1235.9L402.2 1246.2L392.9 1256.5L383.6 1246.2zM399.3 1218.4L408.6 1228.7L399.3 1239L390 1228.7zM406.7 1186L416 1196.3L406.7 1206.6L397.4 1196.3zM413.5 1199.7L422.8 1210L413.5 1220.3L404.2 1210zM420.6 1215.2L429.9 1225.5L420.6 1235.8L411.3 1225.5zM427.5 1176.4L436.8 1186.7L427.5 1197L418.2 1186.7zM434.9 1200.3L444.2 1210.6L434.9 1220.9L425.6 1210.6zM442.3 1175.9L451.6 1186.2L442.3 1196.5L433 1186.2zM450.3 1180.1L459.6 1190.4L450.3 1200.7L441 1190.4zM455.6 1150.5L464.9 1160.8L455.6 1171.1L446.3 1160.8zM461.9 1167.3L471.2 1177.6L461.9 1187.9L452.6 1177.6zM468.6 1173.9L477.9 1184.2L468.6 1194.5L459.3 1184.2zM476.9 1147.4L486.2 1157.7L476.9 1168L467.6 1157.7zM483.6 1182.2L492.9 1192.5L483.6 1202.8L474.3 1192.5zM491.9 1197.2L501.2 1207.5L491.9 1217.8L482.6 1207.5zM498.5 1159L507.8 1169.3L498.5 1179.6L489.2 1169.3zM505 1159.7L514.3 1170L505 1180.3L495.7 1170zM511.8 1157.3L521.1 1167.6L511.8 1177.9L502.5 1167.6zM520.1 1175.6L529.4 1185.9L520.1 1196.2L510.8 1185.9zM526.8 1185.6L536.1 1195.9L526.8 1206.2L517.5 1195.9zM533.4 1129.1L542.7 1139.4L533.4 1149.7L524.1 1139.4zM540 1132.7L549.3 1143L540 1153.3L530.7 1143zM545 1135.1L554.3 1145.4L545 1155.7L535.7 1145.4zM555 1137.4L564.3 1147.7L555 1158L545.7 1147.7zM563.3 1127.4L572.6 1137.7L563.3 1148L554 1137.7zM570 1149L579.3 1159.3L570 1169.6L560.7 1159.3zM576.6 1114.1L585.9 1124.4L576.6 1134.7L567.3 1124.4zM584.9 1159L594.2 1169.3L584.9 1179.6L575.6 1169.3zM591.5 1139.7L600.8 1150L591.5 1160.3L582.2 1150zM598.2 1112.5L607.5 1122.8L598.2 1133.1L588.9 1122.8zM605 1150.7L614.3 1161L605 1171.3L595.7 1161z" fill="#FD9D38"/>
<path d="M180.6 1431.4L187.7 1434.4L194.8 1437.3L201.9 1440.3L209 1443.2L216.1 1446.1L223.2 1449.1L230.3 1452L237.4 1452.3L244.4 1451.4L251.5 1450.4L258.6 1449.4L265.7 1448.4L272.8 1447.4L279.9 1446.4L287 1445.5L294.1 1444.7L301.1 1444.4L308.2 1444.2L315.3 1444L322.4 1443.8L329.5 1443.6L336.6 1443.4L343.7 1443.2L350.8 1443.4L357.9 1444.8L364.9 1446.2L372 1447.6L379.1 1449L386.2 1450.5L393.3 1451.9L400.4 1453.4L407.5 1455.3L414.6 1457.2L421.7 1459.1L428.7 1461L435.8 1462.9L442.9 1464.8L450 1466.9L457.1 1469.7L464.2 1472.5L471.3 1475.4L478.4 1478.2L485.5 1481.7L492.5 1486L499.6 1490.3L506.7 1494.5L513.8 1498.8L520.9 1502.4L528 1506L535.1 1509.5L542.2 1513.1L549.2 1516.7L556.3 1521L563.4 1525.2L570.5 1529.5L577.6 1533.7L584.7 1539.2L591.8 1546.3L598.9 1553.4L606 1559.4" fill="none" stroke="#04B7F5" stroke-width="1.4"/>
<path d="M173.3 1424.1h14.6v14.6h-14.6zM180.4 1427.1h14.6v14.6h-14.6zM187.5 1430h14.6v14.6h-14.6zM194.6 1433h14.6v14.6h-14.6zM201.7 1435.9h14.6v14.6h-14.6zM208.8 1438.8h14.6v14.6h-14.6zM215.9 1441.8h14.6v14.6h-14.6zM223 1444.7h14.6v14.6h-14.6zM230.1 1445h14.6v14.6h-14.6zM237.1 1444.1h14.6v14.6h-14.6zM244.2 1443.1h14.6v14.6h-14.6zM251.3 1442.1h14.6v14.6h-14.6zM258.4 1441.1h14.6v14.6h-14.6zM265.5 1440.1h14.6v14.6h-14.6zM272.6 1439.1h14.6v14.6h-14.6zM279.7 1438.2h14.6v14.6h-14.6zM286.8 1437.4h14.6v14.6h-14.6zM293.8 1437.1h14.6v14.6h-14.6zM300.9 1436.9h14.6v14.6h-14.6zM308 1436.7h14.6v14.6h-14.6zM315.1 1436.5h14.6v14.6h-14.6zM322.2 1436.3h14.6v14.6h-14.6zM329.3 1436.1h14.6v14.6h-14.6zM336.4 1435.9h14.6v14.6h-14.6zM343.5 1436.1h14.6v14.6h-14.6zM350.6 1437.5h14.6v14.6h-14.6zM357.6 1438.9h14.6v14.6h-14.6zM364.7 1440.3h14.6v14.6h-14.6zM371.8 1441.7h14.6v14.6h-14.6zM378.9 1443.2h14.6v14.6h-14.6zM386 1444.6h14.6v14.6h-14.6zM393.1 1446.1h14.6v14.6h-14.6zM400.2 1448h14.6v14.6h-14.6zM407.3 1449.9h14.6v14.6h-14.6zM414.4 1451.8h14.6v14.6h-14.6zM421.4 1453.7h14.6v14.6h-14.6zM428.5 1455.6h14.6v14.6h-14.6zM435.6 1457.5h14.6v14.6h-14.6zM442.7 1459.6h14.6v14.6h-14.6zM449.8 1462.4h14.6v14.6h-14.6zM456.9 1465.2h14.6v14.6h-14.6zM464 1468.1h14.6v14.6h-14.6zM471.1 1470.9h14.6v14.6h-14.6zM478.2 1474.4h14.6v14.6h-14.6zM485.2 1478.7h14.6v14.6h-14.6zM492.3 1483h14.6v14.6h-14.6zM499.4 1487.2h14.6v14.6h-14.6zM506.5 1491.5h14.6v14.6h-14.6zM513.6 1495.1h14.6v14.6h-14.6zM520.7 1498.7h14.6v14.6h-14.6zM527.8 1502.2h14.6v14.6h-14.6zM534.9 1505.8h14.6v14.6h-14.6zM541.9 1509.4h14.6v14.6h-14.6zM549 1513.7h14.6v14.6h-14.6zM556.1 1517.9h14.6v14.6h-14.6zM563.2 1522.2h14.6v14.6h-14.6zM570.3 1526.4h14.6v14.6h-14.6zM577.4 1531.9h14.6v14.6h-14.6zM584.5 1539h14.6v14.6h-14.6zM591.6 1546.1h14.6v14.6h-14.6zM598.7 1552.1h14.6v14.6h-14.6z" fill="#04B7F5"/>
<path d="M180.6 1431.4L187.7 1431.1L194.8 1430.8L201.9 1430.4L209 1430.1L216.1 1429.8L223.2 1429.3L230.3 1428.8L237.4 1428.3L244.4 1427.9L251.5 1427.4L258.6 1426.9L265.7 1426.4L272.8 1424.3L279.9 1422.2L287 1420.1L294.1 1418L301.1 1416.2L308.2 1415.1L315.3 1414L322.4 1412.9L329.5 1411.8L336.6 1410.7L343.7 1409.9L350.8 1410.5L357.9 1411.2L364.9 1411.8L372 1412.4L379.1 1413.1L386.2 1413.7L393.3 1414.3L400.4 1415.1L407.5 1416.2L414.6 1417.4L421.7 1418.6L428.7 1419.8L435.8 1421L442.9 1422.2L450 1423.5L457.1 1425.2L464.2 1427L471.3 1428.8L478.4 1430.5L485.5 1433.7L492.5 1438.2L499.6 1442.8L506.7 1447.2L513.8 1450.7L520.9 1454.3L528 1457.8L535.1 1461.4L542.2 1464.9L549.2 1468.4L556.3 1472L563.4 1475.5L570.5 1480.2L577.6 1485.3L584.7 1490.4L591.8 1497.5L598.9 1506.7L606 1514.5" fill="none" stroke="#EC4F5F" stroke-width="1.4"/>
<path d="M172.8 1431.4a7.8 7.8 0 1 0 15.6 0a7.8 7.8 0 1 0 -15.6 0zM179.9 1431.1a7.8 7.8 0 1 0 15.6 0a7.8 7.8 0 1 0 -15.6 0zM187 1430.8a7.8 7.8 0 1 0 15.6 0a7.8 7.8 0 1 0 -15.6 0zM194.1 1430.4a7.8 7.8 0 1 0 15.6 0a7.8 7.8 0 1 0 -15.6 0zM201.2 1430.1a7.8 7.8 0 1 0 15.6 0a7.8 7.8 0 1 0 -15.6 0zM208.3 1429.8a7.8 7.8 0 1 0 15.6 0a7.8 7.8 0 1 0 -15.6 0zM215.4 1429.3a7.8 7.8 0 1 0 15.6 0a7.8 7.8 0 1 0 -15.6 0zM222.5 1428.8a7.8 7.8 0 1 0 15.6 0a7.8 7.8 0 1 0 -15.6 0zM229.6 1428.3a7.8 7.8 0 1 0 15.6 0a7.8 7.8 0 1 0 -15.6 0zM236.6 1427.9a7.8 7.8 0 1 0 15.6 0a7.8 7.8 0 1 0 -15.6 0zM243.7 1427.4a7.8 7.8 0 1 0 15.6 0a7.8 7.8 0 1 0 -15.6 0zM250.8 1426.9a7.8 7.8 0 1 0 15.6 0a7.8 7.8 0 1 0 -15.6 0zM257.9 1426.4a7.8 7.8 0 1 0 15.6 0a7.8 7.8 0 1 0 -15.6 0zM265 1424.3a7.8 7.8 0 1 0 15.6 0a7.8 7.8 0 1 0 -15.6 0zM272.1 1422.2a7.8 7.8 0 1 0 15.6 0a7.8 7.8 0 1 0 -15.6 0zM279.2 1420.1a7.8 7.8 0 1 0 15.6 0a7.8 7.8 0 1 0 -15.6 0zM286.3 1418a7.8 7.8 0 1 0 15.6 0a7.8 7.8 0 1 0 -15.6 0zM293.3 1416.2a7.8 7.8 0 1 0 15.6 0a7.8 7.8 0 1 0 -15.6 0zM300.4 1415.1a7.8 7.8 0 1 0 15.6 0a7.8 7.8 0 1 0 -15.6 0zM307.5 1414a7.8 7.8 0 1 0 15.6 0a7.8 7.8 0 1 0 -15.6 0zM314.6 1412.9a7.8 7.8 0 1 0 15.6 0a7.8 7.8 0 1 0 -15.6 0zM321.7 1411.8a7.8 7.8 0 1 0 15.6 0a7.8 7.8 0 1 0 -15.6 0zM328.8 1410.7a7.8 7.8 0 1 0 15.6 0a7.8 7.8 0 1 0 -15.6 0zM335.9 1409.9a7.8 7.8 0 1 0 15.6 0a7.8 7.8 0 1 0 -15.6 0zM343 1410.5a7.8 7.8 0 1 0 15.6 0a7.8 7.8 0 1 0 -15.6 0zM350.1 1411.2a7.8 7.8 0 1 0 15.6 0a7.8 7.8 0 1 0 -15.6 0zM357.1 1411.8a7.8 7.8 0 1 0 15.6 0a7.8 7.8 0 1 0 -15.6 0zM364.2 1412.4a7.8 7.8 0 1 0 15.6 0a7.8 7.8 0 1 0 -15.6 0zM371.3 1413.1a7.8 7.8 0 1 0 15.6 0a7.8 7.8 0 1 0 -15.6 0zM378.4 1413.7a7.8 7.8 0 1 0 15.6 0a7.8 7.8 0 1 0 -15.6 0zM385.5 1414.3a7.8 7.8 0 1 0 15.6 0a7.8 7.8 0 1 0 -15.6 0zM392.6 1415.1a7.8 7.8 0 1 0 15.6 0a7.8 7.8 0 1 0 -15.6 0zM399.7 1416.2a7.8 7.8 0 1 0 15.6 0a7.8 7.8 0 1 0 -15.6 0zM406.8 1417.4a7.8 7.8 0 1 0 15.6 0a7.8 7.8 0 1 0 -15.6 0zM413.9 1418.6a7.8 7.8 0 1 0 15.6 0a7.8 7.8 0 1 0 -15.6 0zM420.9 1419.8a7.8 7.8 0 1 0 15.6 0a7.8 7.8 0 1 0 -15.6 0zM428 1421a7.8 7.8 0 1 0 15.6 0a7.8 7.8 0 1 0 -15.6 0zM435.1 1422.2a7.8 7.8 0 1 0 15.6 0a7.8 7.8 0 1 0 -15.6 0zM442.2 1423.5a7.8 7.8 0 1 0 15.6 0a7.8 7.8 0 1 0 -15.6 0zM449.3 1425.2a7.8 7.8 0 1 0 15.6 0a7.8 7.8 0 1 0 -15.6 0zM456.4 1427a7.8 7.8 0 1 0 15.6 0a7.8 7.8 0 1 0 -15.6 0zM463.5 1428.8a7.8 7.8 0 1 0 15.6 0a7.8 7.8 0 1 0 -15.6 0zM470.6 1430.5a7.8 7.8 0 1 0 15.6 0a7.8 7.8 0 1 0 -15.6 0zM477.7 1433.7a7.8 7.8 0 1 0 15.6 0a7.8 7.8 0 1 0 -15.6 0zM484.7 1438.2a7.8 7.8 0 1 0 15.6 0a7.8 7.8 0 1 0 -15.6 0zM491.8 1442.8a7.8 7.8 0 1 0 15.6 0a7.8 7.8 0 1 0 -15.6 0zM498.9 1447.2a7.8 7.8 0 1 0 15.6 0a7.8 7.8 0 1 0 -15.6 0zM506 1450.7a7.8 7.8 0 1 0 15.6 0a7.8 7.8 0 1 0 -15.6 0zM513.1 1454.3a7.8 7.8 0 1 0 15.6 0a7.8 7.8 0 1 0 -15.6 0zM520.2 1457.8a7.8 7.8 0 1 0 15.6 0a7.8 7.8 0 1 0 -15.6 0zM527.3 1461.4a7.8 7.8 0 1 0 15.6 0a7.8 7.8 0 1 0 -15.6 0zM534.4 1464.9a7.8 7.8 0 1 0 15.6 0a7.8 7.8 0 1 0 -15.6 0zM541.4 1468.4a7.8 7.8 0 1 0 15.6 0a7.8 7.8 0 1 0 -15.6 0zM548.5 1472a7.8 7.8 0 1 0 15.6 0a7.8 7.8 0 1 0 -15.6 0zM555.6 1475.5a7.8 7.8 0 1 0 15.6 0a7.8 7.8 0 1 0 -15.6 0zM562.7 1480.2a7.8 7.8 0 1 0 15.6 0a7.8 7.8 0 1 0 -15.6 0zM569.8 1485.3a7.8 7.8 0 1 0 15.6 0a7.8 7.8 0 1 0 -15.6 0zM576.9 1490.4a7.8 7.8 0 1 0 15.6 0a7.8 7.8 0 1 0 -15.6 0zM584 1497.5a7.8 7.8 0 1 0 15.6 0a7.8 7.8 0 1 0 -15.6 0zM591.1 1506.7a7.8 7.8 0 1 0 15.6 0a7.8 7.8 0 1 0 -15.6 0zM598.2 1514.5a7.8 7.8 0 1 0 15.6 0a7.8 7.8 0 1 0 -15.6 0z" fill="#EC4F5F"/>
<path d="M180.6 1433L187.7 1438.1L194.8 1443.1L201.9 1448.7L209 1455L216.1 1461.4L223.2 1467.8L230.3 1474.2L237.4 1480.2L244.4 1486.1L251.5 1492L258.6 1497.9L265.7 1503.8L272.8 1509.2L279.9 1502.1L287 1496.2L294.1 1496.2L301.1 1494.6L308.2 1488.9L315.3 1483.2L322.4 1480.9L329.5 1478.8L336.6 1478.6L343.7 1479.7L350.8 1480.7L357.9 1481.8L364.9 1482.8L372 1485.5L379.1 1488.3L386.2 1491.2L393.3 1494L400.4 1497L407.5 1500.5L414.6 1504.1L421.7 1507.6L428.7 1511.2L435.8 1515.5L442.9 1520.4L450 1525.4L457.1 1530.4L464.2 1535.3L471.3 1542.1L478.4 1549.2L485.5 1556.3L492.5 1563.3L499.6 1570.8L506.7 1580L513.8 1589.2L520.9 1598.4L528 1607.7L535.1 1616.2L542.2 1624L549.2 1631.8L556.3 1639.6L563.4 1647.4L570.5 1661.1L577.6 1676.5L584.7 1691.8L591.8 1707.7L598.9 1723.7L606 1737.2" fill="none" stroke="#37C05A" stroke-width="1.4"/>
<path d="M180.6 1422.8L189.9 1438.4L171.3 1438.4zM187.7 1427.9L197 1443.5L178.4 1443.5zM194.8 1432.9L204.1 1448.5L185.5 1448.5zM201.9 1438.5L211.2 1454.1L192.6 1454.1zM209 1444.8L218.3 1460.4L199.7 1460.4zM216.1 1451.2L225.4 1466.8L206.8 1466.8zM223.2 1457.6L232.5 1473.2L213.9 1473.2zM230.3 1464L239.6 1479.6L221 1479.6zM237.4 1470L246.7 1485.6L228.1 1485.6zM244.4 1475.9L253.7 1491.5L235.1 1491.5zM251.5 1481.8L260.8 1497.4L242.2 1497.4zM258.6 1487.7L267.9 1503.3L249.3 1503.3zM265.7 1493.6L275 1509.2L256.4 1509.2zM272.8 1499L282.1 1514.6L263.5 1514.6zM279.9 1491.9L289.2 1507.5L270.6 1507.5zM287 1486L296.3 1501.6L277.7 1501.6zM294.1 1486L303.4 1501.6L284.8 1501.6zM301.1 1484.4L310.4 1500L291.8 1500zM308.2 1478.7L317.5 1494.3L298.9 1494.3zM315.3 1473L324.6 1488.6L306 1488.6zM322.4 1470.7L331.7 1486.3L313.1 1486.3zM329.5 1468.6L338.8 1484.2L320.2 1484.2zM336.6 1468.4L345.9 1484L327.3 1484zM343.7 1469.5L353 1485.1L334.4 1485.1zM350.8 1470.5L360.1 1486.1L341.5 1486.1zM357.9 1471.6L367.2 1487.2L348.6 1487.2zM364.9 1472.6L374.2 1488.2L355.6 1488.2zM372 1475.3L381.3 1490.9L362.7 1490.9zM379.1 1478.1L388.4 1493.7L369.8 1493.7zM386.2 1481L395.5 1496.6L376.9 1496.6zM393.3 1483.8L402.6 1499.4L384 1499.4zM400.4 1486.8L409.7 1502.4L391.1 1502.4zM407.5 1490.3L416.8 1505.9L398.2 1505.9zM414.6 1493.9L423.9 1509.5L405.3 1509.5zM421.7 1497.4L431 1513L412.4 1513zM428.7 1501L438 1516.6L419.4 1516.6zM435.8 1505.3L445.1 1520.9L426.5 1520.9zM442.9 1510.2L452.2 1525.8L433.6 1525.8zM450 1515.2L459.3 1530.8L440.7 1530.8zM457.1 1520.2L466.4 1535.8L447.8 1535.8zM464.2 1525.1L473.5 1540.7L454.9 1540.7zM471.3 1531.9L480.6 1547.5L462 1547.5zM478.4 1539L487.7 1554.6L469.1 1554.6zM485.5 1546.1L494.8 1561.7L476.2 1561.7zM492.5 1553.1L501.8 1568.7L483.2 1568.7zM499.6 1560.6L508.9 1576.2L490.3 1576.2zM506.7 1569.8L516 1585.4L497.4 1585.4zM513.8 1579L523.1 1594.6L504.5 1594.6zM520.9 1588.2L530.2 1603.8L511.6 1603.8zM528 1597.5L537.3 1613.1L518.7 1613.1zM535.1 1606L544.4 1621.6L525.8 1621.6zM542.2 1613.8L551.5 1629.4L532.9 1629.4zM549.2 1621.6L558.5 1637.2L539.9 1637.2zM556.3 1629.4L565.6 1645L547 1645zM563.4 1637.2L572.7 1652.8L554.1 1652.8zM570.5 1650.9L579.8 1666.5L561.2 1666.5zM577.6 1666.3L586.9 1681.9L568.3 1681.9zM584.7 1681.6L594 1697.2L575.4 1697.2zM591.8 1697.5L601.1 1713.1L582.5 1713.1zM598.9 1713.5L608.2 1729.1L589.6 1729.1zM606 1727L615.3 1742.6L596.7 1742.6z" fill="#37C05A"/>
<path d="M180.6 1431.4L187.7 1435.8L194.8 1440.1L201.9 1444.4L209 1448.7L216.1 1453.1L223.2 1457.3L230.3 1461.6L237.4 1465.8L244.4 1470.1L251.5 1473.9L258.6 1476.7L265.7 1479.5L272.8 1486L279.9 1478.9L287 1472.1L294.1 1466.8L301.1 1461.8L308.2 1457.5L315.3 1453.2L322.4 1454.3L329.5 1455.7L336.6 1456.7L343.7 1457.5L350.8 1458.2L357.9 1458.9L364.9 1459.6L372 1461.6L379.1 1463.7L386.2 1465.8L393.3 1468L400.4 1470.2L407.5 1473.1L414.6 1476L421.7 1478.8L428.7 1481.7L435.8 1484.9L442.9 1488.4L450 1491.9L457.1 1495.4L464.2 1498.9L471.3 1505.5L478.4 1512.6L485.5 1519.7L492.5 1527L499.6 1536.1L506.7 1545.2L513.8 1554.3L520.9 1563.5L528 1572.8L535.1 1582L542.2 1591.2L549.2 1600.9L556.3 1614.1L563.4 1627.3L570.5 1640.5L577.6 1654.4L584.7 1668.6L591.8 1682.7L598.9 1696.8L606 1708.9" fill="none" stroke="#6A6FC4" stroke-width="1.4"/>
<path d="M171.3 1426L189.9 1426L180.6 1442.7zM178.4 1430.4L197 1430.4L187.7 1447.1zM185.5 1434.7L204.1 1434.7L194.8 1451.4zM192.6 1439L211.2 1439L201.9 1455.7zM199.7 1443.3L218.3 1443.3L209 1460zM206.8 1447.7L225.4 1447.7L216.1 1464.4zM213.9 1451.9L232.5 1451.9L223.2 1468.6zM221 1456.2L239.6 1456.2L230.3 1472.9zM228.1 1460.4L246.7 1460.4L237.4 1477.1zM235.1 1464.7L253.7 1464.7L244.4 1481.4zM242.2 1468.5L260.8 1468.5L251.5 1485.2zM249.3 1471.3L267.9 1471.3L258.6 1488zM256.4 1474.1L275 1474.1L265.7 1490.8zM263.5 1480.6L282.1 1480.6L272.8 1497.3zM270.6 1473.5L289.2 1473.5L279.9 1490.2zM277.7 1466.7L296.3 1466.7L287 1483.4zM284.8 1461.4L303.4 1461.4L294.1 1478.1zM291.8 1456.4L310.4 1456.4L301.1 1473.1zM298.9 1452.1L317.5 1452.1L308.2 1468.8zM306 1447.8L324.6 1447.8L315.3 1464.5zM313.1 1448.9L331.7 1448.9L322.4 1465.6zM320.2 1450.3L338.8 1450.3L329.5 1467zM327.3 1451.3L345.9 1451.3L336.6 1468zM334.4 1452.1L353 1452.1L343.7 1468.8zM341.5 1452.8L360.1 1452.8L350.8 1469.5zM348.6 1453.5L367.2 1453.5L357.9 1470.2zM355.6 1454.2L374.2 1454.2L364.9 1470.9zM362.7 1456.2L381.3 1456.2L372 1472.9zM369.8 1458.3L388.4 1458.3L379.1 1475zM376.9 1460.4L395.5 1460.4L386.2 1477.1zM384 1462.6L402.6 1462.6L393.3 1479.3zM391.1 1464.8L409.7 1464.8L400.4 1481.5zM398.2 1467.7L416.8 1467.7L407.5 1484.4zM405.3 1470.6L423.9 1470.6L414.6 1487.3zM412.4 1473.4L431 1473.4L421.7 1490.1zM419.4 1476.3L438 1476.3L428.7 1493zM426.5 1479.5L445.1 1479.5L435.8 1496.2zM433.6 1483L452.2 1483L442.9 1499.7zM440.7 1486.5L459.3 1486.5L450 1503.2zM447.8 1490L466.4 1490L457.1 1506.7zM454.9 1493.5L473.5 1493.5L464.2 1510.2zM462 1500.1L480.6 1500.1L471.3 1516.8zM469.1 1507.2L487.7 1507.2L478.4 1523.9zM476.2 1514.3L494.8 1514.3L485.5 1531zM483.2 1521.6L501.8 1521.6L492.5 1538.3zM490.3 1530.7L508.9 1530.7L499.6 1547.4zM497.4 1539.8L516 1539.8L506.7 1556.5zM504.5 1548.9L523.1 1548.9L513.8 1565.6zM511.6 1558.1L530.2 1558.1L520.9 1574.8zM518.7 1567.4L537.3 1567.4L528 1584.1zM525.8 1576.6L544.4 1576.6L535.1 1593.3zM532.9 1585.8L551.5 1585.8L542.2 1602.5zM539.9 1595.5L558.5 1595.5L549.2 1612.2zM547 1608.7L565.6 1608.7L556.3 1625.4zM554.1 1621.9L572.7 1621.9L563.4 1638.6zM561.2 1635.1L579.8 1635.1L570.5 1651.8zM568.3 1649L586.9 1649L577.6 1665.7zM575.4 1663.2L594 1663.2L584.7 1679.9zM582.5 1677.3L601.1 1677.3L591.8 1694zM589.6 1691.4L608.2 1691.4L598.9 1708.1zM596.7 1703.5L615.3 1703.5L606 1720.2z" fill="#6A6FC4"/>
<path d="M180.6 1431.4L187.7 1427.5L194.8 1425.4L201.9 1427.5L209 1429.7L216.1 1433.6L223.2 1437.6L230.3 1441.7L237.4 1443L244.4 1443L251.5 1443L258.6 1443L265.7 1443L272.8 1442.5L279.9 1430.7L287 1421.9L294.1 1414.8L301.1 1410.1L308.2 1411.3L315.3 1412.5L322.4 1413.9L329.5 1415.4L336.6 1417L343.7 1418.6L350.8 1420.2L357.9 1421.6L364.9 1423L372 1424.4L379.1 1425.8L386.2 1428.8L393.3 1433.1L400.4 1436.6L407.5 1437.3L414.6 1438L421.7 1438.7L428.7 1439.4L435.8 1442L442.9 1446.3L450 1450.5L457.1 1454.8L464.2 1459L471.3 1464.5L478.4 1470.2L485.5 1476.6L492.5 1483.6L499.6 1491.4L506.7 1502.8L513.8 1514.1L520.9 1523.1L528 1531.6L535.1 1539.5L542.2 1546.5L549.2 1553.6L556.3 1560.7L563.4 1567.7L570.5 1578.5L577.6 1590.4L584.7 1602.3L591.8 1623.2L598.9 1640.4L606 1652.4" fill="none" stroke="#FD9D38" stroke-width="1.4"/>
<path d="M180.6 1421.1L189.9 1431.4L180.6 1441.7L171.3 1431.4zM187.7 1417.2L197 1427.5L187.7 1437.8L178.4 1427.5zM194.8 1415.1L204.1 1425.4L194.8 1435.7L185.5 1425.4zM201.9 1417.2L211.2 1427.5L201.9 1437.8L192.6 1427.5zM209 1419.4L218.3 1429.7L209 1440L199.7 1429.7zM216.1 1423.3L225.4 1433.6L216.1 1443.9L206.8 1433.6zM223.2 1427.3L232.5 1437.6L223.2 1447.9L213.9 1437.6zM230.3 1431.4L239.6 1441.7L230.3 1452L221 1441.7zM237.4 1432.7L246.7 1443L237.4 1453.3L228.1 1443zM244.4 1432.7L253.7 1443L244.4 1453.3L235.1 1443zM251.5 1432.7L260.8 1443L251.5 1453.3L242.2 1443zM258.6 1432.7L267.9 1443L258.6 1453.3L249.3 1443zM265.7 1432.7L275 1443L265.7 1453.3L256.4 1443zM272.8 1432.2L282.1 1442.5L272.8 1452.8L263.5 1442.5zM279.9 1420.4L289.2 1430.7L279.9 1441L270.6 1430.7zM287 1411.6L296.3 1421.9L287 1432.2L277.7 1421.9zM294.1 1404.5L303.4 1414.8L294.1 1425.1L284.8 1414.8zM301.1 1399.8L310.4 1410.1L301.1 1420.4L291.8 1410.1zM308.2 1401L317.5 1411.3L308.2 1421.6L298.9 1411.3zM315.3 1402.2L324.6 1412.5L315.3 1422.8L306 1412.5zM322.4 1403.6L331.7 1413.9L322.4 1424.2L313.1 1413.9zM329.5 1405.1L338.8 1415.4L329.5 1425.7L320.2 1415.4zM336.6 1406.7L345.9 1417L336.6 1427.3L327.3 1417zM343.7 1408.3L353 1418.6L343.7 1428.9L334.4 1418.6zM350.8 1409.9L360.1 1420.2L350.8 1430.5L341.5 1420.2zM357.9 1411.3L367.2 1421.6L357.9 1431.9L348.6 1421.6zM364.9 1412.7L374.2 1423L364.9 1433.3L355.6 1423zM372 1414.1L381.3 1424.4L372 1434.7L362.7 1424.4zM379.1 1415.5L388.4 1425.8L379.1 1436.1L369.8 1425.8zM386.2 1418.5L395.5 1428.8L386.2 1439.1L376.9 1428.8zM393.3 1422.8L402.6 1433.1L393.3 1443.4L384 1433.1zM400.4 1426.3L409.7 1436.6L400.4 1446.9L391.1 1436.6zM407.5 1427L416.8 1437.3L407.5 1447.6L398.2 1437.3zM414.6 1427.7L423.9 1438L414.6 1448.3L405.3 1438zM421.7 1428.4L431 1438.7L421.7 1449L412.4 1438.7zM428.7 1429.1L438 1439.4L428.7 1449.7L419.4 1439.4zM435.8 1431.7L445.1 1442L435.8 1452.3L426.5 1442zM442.9 1436L452.2 1446.3L442.9 1456.6L433.6 1446.3zM450 1440.2L459.3 1450.5L450 1460.8L440.7 1450.5zM457.1 1444.5L466.4 1454.8L457.1 1465.1L447.8 1454.8zM464.2 1448.7L473.5 1459L464.2 1469.3L454.9 1459zM471.3 1454.2L480.6 1464.5L471.3 1474.8L462 1464.5zM478.4 1459.9L487.7 1470.2L478.4 1480.5L469.1 1470.2zM485.5 1466.3L494.8 1476.6L485.5 1486.9L476.2 1476.6zM492.5 1473.3L501.8 1483.6L492.5 1493.9L483.2 1483.6zM499.6 1481.1L508.9 1491.4L499.6 1501.7L490.3 1491.4zM506.7 1492.5L516 1502.8L506.7 1513.1L497.4 1502.8zM513.8 1503.8L523.1 1514.1L513.8 1524.4L504.5 1514.1zM520.9 1512.8L530.2 1523.1L520.9 1533.4L511.6 1523.1zM528 1521.3L537.3 1531.6L528 1541.9L518.7 1531.6zM535.1 1529.2L544.4 1539.5L535.1 1549.8L525.8 1539.5zM542.2 1536.2L551.5 1546.5L542.2 1556.8L532.9 1546.5zM549.2 1543.3L558.5 1553.6L549.2 1563.9L539.9 1553.6zM556.3 1550.4L565.6 1560.7L556.3 1571L547 1560.7zM563.4 1557.4L572.7 1567.7L563.4 1578L554.1 1567.7zM570.5 1568.2L579.8 1578.5L570.5 1588.8L561.2 1578.5zM577.6 1580.1L586.9 1590.4L577.6 1600.7L568.3 1590.4zM584.7 1592L594 1602.3L584.7 1612.6L575.4 1602.3zM591.8 1612.9L601.1 1623.2L591.8 1633.5L582.5 1623.2zM598.9 1630.1L608.2 1640.4L598.9 1650.7L589.6 1640.4zM606 1642.1L615.3 1652.4L606 1662.7L596.7 1652.4z" fill="#FD9D38"/>
<path d="M882.5 1047.7L889.5 1035.4L896.6 1035L903.6 1039.8L910.7 1041.6L917.7 1044.9L924.8 1047.6L931.8 1052.2L938.9 1052.8L945.9 1051.6L953 1052L960 1050.7L967.1 1049.5L974.1 1052L981.2 1053.4L988.2 1047.3L995.2 1048.7L1002.3 1043.8L1009.4 1045L1016.4 1045L1023.5 1051.9L1030.5 1051.7L1037.6 1056.1L1044.6 1058.1L1051.7 1058.2L1058.7 1063.5L1065.8 1063.4L1072.8 1055.5L1079.9 1056.4L1086.9 1057.3L1094 1084.9L1101 1136L1108.1 1167.2L1115.1 1204.1L1122.2 1229.3L1129.2 1254.7L1136.2 1278.1L1143.3 1277.3L1150.4 1260.6L1157.4 1244.7L1164.5 1234.6L1171.5 1241.8L1178.5 1258.9L1185.6 1241.4L1192.7 1235.1L1199.7 1247L1206.8 1258.5L1213.8 1266.3L1220.8 1262.5L1227.9 1260.6L1235 1245.5L1242 1235.5L1249.1 1225.4L1256.1 1224.1L1263.2 1239L1270.2 1258.6L1277.2 1278.7L1284.3 1273.8L1291.4 1265.5L1298.4 1260.5L1305.5 1260.3" fill="none" stroke="#04B7F5" stroke-width="1.4"/>
<path d="M875.2 1040.4h14.6v14.6h-14.6zM882.2 1028.1h14.6v14.6h-14.6zM889.3 1027.7h14.6v14.6h-14.6zM896.3 1032.5h14.6v14.6h-14.6zM903.4 1034.3h14.6v14.6h-14.6zM910.4 1037.6h14.6v14.6h-14.6zM917.5 1040.3h14.6v14.6h-14.6zM924.5 1044.9h14.6v14.6h-14.6zM931.6 1045.5h14.6v14.6h-14.6zM938.6 1044.3h14.6v14.6h-14.6zM945.7 1044.7h14.6v14.6h-14.6zM952.7 1043.4h14.6v14.6h-14.6zM959.8 1042.2h14.6v14.6h-14.6zM966.8 1044.7h14.6v14.6h-14.6zM973.9 1046.1h14.6v14.6h-14.6zM980.9 1040h14.6v14.6h-14.6zM988 1041.4h14.6v14.6h-14.6zM995 1036.5h14.6v14.6h-14.6zM1002.1 1037.7h14.6v14.6h-14.6zM1009.1 1037.7h14.6v14.6h-14.6zM1016.2 1044.6h14.6v14.6h-14.6zM1023.2 1044.4h14.6v14.6h-14.6zM1030.3 1048.8h14.6v14.6h-14.6zM1037.3 1050.8h14.6v14.6h-14.6zM1044.4 1050.9h14.6v14.6h-14.6zM1051.4 1056.2h14.6v14.6h-14.6zM1058.5 1056.1h14.6v14.6h-14.6zM1065.5 1048.2h14.6v14.6h-14.6zM1072.6 1049.1h14.6v14.6h-14.6zM1079.6 1050h14.6v14.6h-14.6zM1086.7 1077.6h14.6v14.6h-14.6zM1093.7 1128.7h14.6v14.6h-14.6zM1100.8 1159.9h14.6v14.6h-14.6zM1107.8 1196.8h14.6v14.6h-14.6zM1114.9 1222h14.6v14.6h-14.6zM1121.9 1247.4h14.6v14.6h-14.6zM1129 1270.8h14.6v14.6h-14.6zM1136 1270h14.6v14.6h-14.6zM1143.1 1253.3h14.6v14.6h-14.6zM1150.1 1237.4h14.6v14.6h-14.6zM1157.2 1227.3h14.6v14.6h-14.6zM1164.2 1234.5h14.6v14.6h-14.6zM1171.2 1251.6h14.6v14.6h-14.6zM1178.3 1234.1h14.6v14.6h-14.6zM1185.4 1227.8h14.6v14.6h-14.6zM1192.4 1239.7h14.6v14.6h-14.6zM1199.5 1251.2h14.6v14.6h-14.6zM1206.5 1259h14.6v14.6h-14.6zM1213.5 1255.2h14.6v14.6h-14.6zM1220.6 1253.3h14.6v14.6h-14.6zM1227.7 1238.2h14.6v14.6h-14.6zM1234.7 1228.2h14.6v14.6h-14.6zM1241.8 1218.1h14.6v14.6h-14.6zM1248.8 1216.8h14.6v14.6h-14.6zM1255.9 1231.7h14.6v14.6h-14.6zM1262.9 1251.3h14.6v14.6h-14.6zM1270 1271.4h14.6v14.6h-14.6zM1277 1266.5h14.6v14.6h-14.6zM1284.1 1258.2h14.6v14.6h-14.6zM1291.1 1253.2h14.6v14.6h-14.6zM1298.2 1253h14.6v14.6h-14.6z" fill="#04B7F5"/>
<path d="M882.5 1044.3L889.5 1021.8L896.6 1023.9L903.6 1018.4L910.7 1019.4L917.7 1037.2L924.8 1044.2L931.8 1044.4L938.9 1046L945.9 1042.6L953 1043.5L960 1026.5L967.1 1017.8L974.1 1006.6L981.2 1020.1L988.2 1031.9L995.2 1023.8L1002.3 1018.7L1009.4 1011.4L1016.4 1010.3L1023.5 1018.1L1030.5 1017.1L1037.6 1008.9L1044.6 1001.7L1051.7 1001.9L1058.7 1011.6L1065.8 1024L1072.8 1006L1079.9 995.4L1086.9 1011.9L1094 1055.9L1101 1098.2L1108.1 1126.3L1115.1 1159.4L1122.2 1178.9L1129.2 1202.1L1136.2 1192.6L1143.3 1237.3L1150.4 1213.5L1157.4 1197.4L1164.5 1189.8L1171.5 1199.6L1178.5 1205.6L1185.6 1181.5L1192.7 1170L1199.7 1185.5L1206.8 1200.4L1213.8 1215.8L1220.8 1207.7L1227.9 1203.2L1235 1208.5L1242 1205.8L1249.1 1170.9L1256.1 1170.5L1263.2 1199.9L1270.2 1188.6L1277.2 1191.2L1284.3 1227.7L1291.4 1216.5L1298.4 1210.9L1305.5 1204.3" fill="none" stroke="#EC4F5F" stroke-width="1.4"/>
<path d="M874.7 1044.3a7.8 7.8 0 1 0 15.6 0a7.8 7.8 0 1 0 -15.6 0zM881.7 1021.8a7.8 7.8 0 1 0 15.6 0a7.8 7.8 0 1 0 -15.6 0zM888.8 1023.9a7.8 7.8 0 1 0 15.6 0a7.8 7.8 0 1 0 -15.6 0zM895.8 1018.4a7.8 7.8 0 1 0 15.6 0a7.8 7.8 0 1 0 -15.6 0zM902.9 1019.4a7.8 7.8 0 1 0 15.6 0a7.8 7.8 0 1 0 -15.6 0zM909.9 1037.2a7.8 7.8 0 1 0 15.6 0a7.8 7.8 0 1 0 -15.6 0zM917 1044.2a7.8 7.8 0 1 0 15.6 0a7.8 7.8 0 1 0 -15.6 0zM924 1044.4a7.8 7.8 0 1 0 15.6 0a7.8 7.8 0 1 0 -15.6 0zM931.1 1046a7.8 7.8 0 1 0 15.6 0a7.8 7.8 0 1 0 -15.6 0zM938.1 1042.6a7.8 7.8 0 1 0 15.6 0a7.8 7.8 0 1 0 -15.6 0zM945.2 1043.5a7.8 7.8 0 1 0 15.6 0a7.8 7.8 0 1 0 -15.6 0zM952.2 1026.5a7.8 7.8 0 1 0 15.6 0a7.8 7.8 0 1 0 -15.6 0zM959.3 1017.8a7.8 7.8 0 1 0 15.6 0a7.8 7.8 0 1 0 -15.6 0zM966.3 1006.6a7.8 7.8 0 1 0 15.6 0a7.8 7.8 0 1 0 -15.6 0zM973.4 1020.1a7.8 7.8 0 1 0 15.6 0a7.8 7.8 0 1 0 -15.6 0zM980.4 1031.9a7.8 7.8 0 1 0 15.6 0a7.8 7.8 0 1 0 -15.6 0zM987.5 1023.8a7.8 7.8 0 1 0 15.6 0a7.8 7.8 0 1 0 -15.6 0zM994.5 1018.7a7.8 7.8 0 1 0 15.6 0a7.8 7.8 0 1 0 -15.6 0zM1001.6 1011.4a7.8 7.8 0 1 0 15.6 0a7.8 7.8 0 1 0 -15.6 0zM1008.6 1010.3a7.8 7.8 0 1 0 15.6 0a7.8 7.8 0 1 0 -15.6 0zM1015.7 1018.1a7.8 7.8 0 1 0 15.6 0a7.8 7.8 0 1 0 -15.6 0zM1022.7 1017.1a7.8 7.8 0 1 0 15.6 0a7.8 7.8 0 1 0 -15.6 0zM1029.8 1008.9a7.8 7.8 0 1 0 15.6 0a7.8 7.8 0 1 0 -15.6 0zM1036.8 1001.7a7.8 7.8 0 1 0 15.6 0a7.8 7.8 0 1 0 -15.6 0zM1043.9 1001.9a7.8 7.8 0 1 0 15.6 0a7.8 7.8 0 1 0 -15.6 0zM1050.9 1011.6a7.8 7.8 0 1 0 15.6 0a7.8 7.8 0 1 0 -15.6 0zM1058 1024a7.8 7.8 0 1 0 15.6 0a7.8 7.8 0 1 0 -15.6 0zM1065 1006a7.8 7.8 0 1 0 15.6 0a7.8 7.8 0 1 0 -15.6 0zM1072.1 995.4a7.8 7.8 0 1 0 15.6 0a7.8 7.8 0 1 0 -15.6 0zM1079.1 1011.9a7.8 7.8 0 1 0 15.6 0a7.8 7.8 0 1 0 -15.6 0zM1086.2 1055.9a7.8 7.8 0 1 0 15.6 0a7.8 7.8 0 1 0 -15.6 0zM1093.2 1098.2a7.8 7.8 0 1 0 15.6 0a7.8 7.8 0 1 0 -15.6 0zM1100.3 1126.3a7.8 7.8 0 1 0 15.6 0a7.8 7.8 0 1 0 -15.6 0zM1107.3 1159.4a7.8 7.8 0 1 0 15.6 0a7.8 7.8 0 1 0 -15.6 0zM1114.4 1178.9a7.8 7.8 0 1 0 15.6 0a7.8 7.8 0 1 0 -15.6 0zM1121.4 1202.1a7.8 7.8 0 1 0 15.6 0a7.8 7.8 0 1 0 -15.6 0zM1128.5 1192.6a7.8 7.8 0 1 0 15.6 0a7.8 7.8 0 1 0 -15.6 0zM1135.5 1237.3a7.8 7.8 0 1 0 15.6 0a7.8 7.8 0 1 0 -15.6 0zM1142.6 1213.5a7.8 7.8 0 1 0 15.6 0a7.8 7.8 0 1 0 -15.6 0zM1149.6 1197.4a7.8 7.8 0 1 0 15.6 0a7.8 7.8 0 1 0 -15.6 0zM1156.7 1189.8a7.8 7.8 0 1 0 15.6 0a7.8 7.8 0 1 0 -15.6 0zM1163.7 1199.6a7.8 7.8 0 1 0 15.6 0a7.8 7.8 0 1 0 -15.6 0zM1170.8 1205.6a7.8 7.8 0 1 0 15.6 0a7.8 7.8 0 1 0 -15.6 0zM1177.8 1181.5a7.8 7.8 0 1 0 15.6 0a7.8 7.8 0 1 0 -15.6 0zM1184.9 1170a7.8 7.8 0 1 0 15.6 0a7.8 7.8 0 1 0 -15.6 0zM1191.9 1185.5a7.8 7.8 0 1 0 15.6 0a7.8 7.8 0 1 0 -15.6 0zM1199 1200.4a7.8 7.8 0 1 0 15.6 0a7.8 7.8 0 1 0 -15.6 0zM1206 1215.8a7.8 7.8 0 1 0 15.6 0a7.8 7.8 0 1 0 -15.6 0zM1213 1207.7a7.8 7.8 0 1 0 15.6 0a7.8 7.8 0 1 0 -15.6 0zM1220.1 1203.2a7.8 7.8 0 1 0 15.6 0a7.8 7.8 0 1 0 -15.6 0zM1227.2 1208.5a7.8 7.8 0 1 0 15.6 0a7.8 7.8 0 1 0 -15.6 0zM1234.2 1205.8a7.8 7.8 0 1 0 15.6 0a7.8 7.8 0 1 0 -15.6 0zM1241.3 1170.9a7.8 7.8 0 1 0 15.6 0a7.8 7.8 0 1 0 -15.6 0zM1248.3 1170.5a7.8 7.8 0 1 0 15.6 0a7.8 7.8 0 1 0 -15.6 0zM1255.4 1199.9a7.8 7.8 0 1 0 15.6 0a7.8 7.8 0 1 0 -15.6 0zM1262.4 1188.6a7.8 7.8 0 1 0 15.6 0a7.8 7.8 0 1 0 -15.6 0zM1269.5 1191.2a7.8 7.8 0 1 0 15.6 0a7.8 7.8 0 1 0 -15.6 0zM1276.5 1227.7a7.8 7.8 0 1 0 15.6 0a7.8 7.8 0 1 0 -15.6 0zM1283.6 1216.5a7.8 7.8 0 1 0 15.6 0a7.8 7.8 0 1 0 -15.6 0zM1290.6 1210.9a7.8 7.8 0 1 0 15.6 0a7.8 7.8 0 1 0 -15.6 0zM1297.7 1204.3a7.8 7.8 0 1 0 15.6 0a7.8 7.8 0 1 0 -15.6 0z" fill="#EC4F5F"/>
<path d="M882.5 1042.1L889.5 1028.2L896.6 1033.1L903.6 1035.7L910.7 1038.7L917.7 1040.7L924.8 1049L931.8 1049.6L938.9 1051.8L945.9 1050.9L953 1052.1L960 1043.8L967.1 1032.6L974.1 1038.4L981.2 1046.1L988.2 1054.5L995.2 1049.7L1002.3 1039.3L1009.4 1044.9L1016.4 1050.6L1023.5 1044.3L1030.5 1038.5L1037.6 1038.8L1044.6 1050L1051.7 1066.7L1058.7 1074.5L1065.8 1074.6L1072.8 1069L1079.9 1045.7L1086.9 1056L1094 1096.4L1101 1142.4L1108.1 1167.2L1115.1 1198.6L1122.2 1242.7L1129.2 1264.8L1136.2 1281.4L1143.3 1297.8L1150.4 1278.4L1157.4 1257.9L1164.5 1245.9L1171.5 1262.8L1178.5 1269.5L1185.6 1255.9L1192.7 1247.1L1199.7 1250.6L1206.8 1263.4L1213.8 1280.6L1220.8 1276.1L1227.9 1271.4L1235 1271.2L1242 1272.8L1249.1 1230.2L1256.1 1236.1L1263.2 1268.3L1270.2 1256.4L1277.2 1251.2L1284.3 1289.4L1291.4 1290.9L1298.4 1283.3L1305.5 1274.5" fill="none" stroke="#37C05A" stroke-width="1.4"/>
<path d="M882.5 1031.9L891.8 1047.5L873.2 1047.5zM889.5 1018L898.8 1033.6L880.2 1033.6zM896.6 1022.9L905.9 1038.5L887.3 1038.5zM903.6 1025.5L912.9 1041.1L894.3 1041.1zM910.7 1028.5L920 1044.1L901.4 1044.1zM917.7 1030.5L927 1046.1L908.4 1046.1zM924.8 1038.8L934 1054.4L915.5 1054.4zM931.8 1039.4L941.1 1055L922.5 1055zM938.9 1041.6L948.1 1057.2L929.6 1057.2zM945.9 1040.7L955.2 1056.3L936.6 1056.3zM953 1041.9L962.2 1057.5L943.7 1057.5zM960 1033.6L969.3 1049.2L950.7 1049.2zM967.1 1022.4L976.4 1038L957.8 1038zM974.1 1028.2L983.4 1043.8L964.8 1043.8zM981.2 1035.9L990.5 1051.5L971.9 1051.5zM988.2 1044.3L997.5 1059.9L978.9 1059.9zM995.2 1039.5L1004.5 1055.1L986 1055.1zM1002.3 1029.1L1011.6 1044.7L993 1044.7zM1009.4 1034.7L1018.6 1050.3L1000.1 1050.3zM1016.4 1040.4L1025.7 1056L1007.1 1056zM1023.5 1034.1L1032.8 1049.7L1014.2 1049.7zM1030.5 1028.3L1039.8 1043.9L1021.2 1043.9zM1037.6 1028.6L1046.9 1044.2L1028.3 1044.2zM1044.6 1039.8L1053.9 1055.4L1035.3 1055.4zM1051.7 1056.5L1061 1072.1L1042.4 1072.1zM1058.7 1064.3L1068 1079.9L1049.4 1079.9zM1065.8 1064.4L1075 1080L1056.5 1080zM1072.8 1058.8L1082.1 1074.4L1063.5 1074.4zM1079.9 1035.5L1089.2 1051.1L1070.6 1051.1zM1086.9 1045.8L1096.2 1061.4L1077.6 1061.4zM1094 1086.2L1103.2 1101.8L1084.7 1101.8zM1101 1132.2L1110.3 1147.8L1091.7 1147.8zM1108.1 1157L1117.4 1172.6L1098.8 1172.6zM1115.1 1188.4L1124.4 1204L1105.8 1204zM1122.2 1232.5L1131.5 1248.1L1112.9 1248.1zM1129.2 1254.6L1138.5 1270.2L1119.9 1270.2zM1136.2 1271.2L1145.5 1286.8L1127 1286.8zM1143.3 1287.6L1152.6 1303.2L1134 1303.2zM1150.4 1268.2L1159.7 1283.8L1141.1 1283.8zM1157.4 1247.7L1166.7 1263.3L1148.1 1263.3zM1164.5 1235.7L1173.8 1251.3L1155.2 1251.3zM1171.5 1252.6L1180.8 1268.2L1162.2 1268.2zM1178.5 1259.3L1187.8 1274.9L1169.2 1274.9zM1185.6 1245.7L1194.9 1261.3L1176.3 1261.3zM1192.7 1236.9L1202 1252.5L1183.4 1252.5zM1199.7 1240.4L1209 1256L1190.4 1256zM1206.8 1253.2L1216 1268.8L1197.5 1268.8zM1213.8 1270.4L1223.1 1286L1204.5 1286zM1220.8 1265.9L1230.1 1281.5L1211.5 1281.5zM1227.9 1261.2L1237.2 1276.8L1218.6 1276.8zM1235 1261L1244.2 1276.6L1225.7 1276.6zM1242 1262.6L1251.3 1278.2L1232.7 1278.2zM1249.1 1220L1258.4 1235.6L1239.8 1235.6zM1256.1 1225.9L1265.4 1241.5L1246.8 1241.5zM1263.2 1258.1L1272.5 1273.7L1253.9 1273.7zM1270.2 1246.2L1279.5 1261.8L1260.9 1261.8zM1277.2 1241L1286.5 1256.6L1268 1256.6zM1284.3 1279.2L1293.6 1294.8L1275 1294.8zM1291.4 1280.7L1300.7 1296.3L1282.1 1296.3zM1298.4 1273.1L1307.7 1288.7L1289.1 1288.7zM1305.5 1264.3L1314.8 1279.9L1296.2 1279.9z" fill="#37C05A"/>
<path d="M882.5 1044.9L889.5 1025L896.6 1026.3L903.6 1027L910.7 1024.3L917.7 1035.6L924.8 1037.1L931.8 1041L938.9 1037.6L945.9 1041.5L953 1037.3L960 1030.7L967.1 1021L974.1 1016.1L981.2 1025L988.2 1036.5L995.2 1030.7L1002.3 1018.9L1009.4 1015.2L1016.4 1019.6L1023.5 1020.1L1030.5 1019L1037.6 1015.1L1044.6 1016L1051.7 1007.7L1058.7 1018.9L1065.8 1026.6L1072.8 1009.2L1079.9 1001.5L1086.9 1018.4L1094 1058.9L1101 1096.7L1108.1 1129L1115.1 1157L1122.2 1175.8L1129.2 1198.8L1136.2 1183.3L1143.3 1230L1150.4 1212.6L1157.4 1193.2L1164.5 1186.7L1171.5 1200.5L1178.5 1206.5L1185.6 1175.9L1192.7 1170.3L1199.7 1181.4L1206.8 1193.9L1213.8 1211.7L1220.8 1202.2L1227.9 1196.1L1235 1201.8L1242 1204L1249.1 1170.5L1256.1 1163.8L1263.2 1197.1L1270.2 1187L1277.2 1188.5L1284.3 1224.3L1291.4 1209.9L1298.4 1207.5L1305.5 1201.4" fill="none" stroke="#6A6FC4" stroke-width="1.4"/>
<path d="M873.2 1039.5L891.8 1039.5L882.5 1056.2zM880.2 1019.6L898.8 1019.6L889.5 1036.3zM887.3 1020.9L905.9 1020.9L896.6 1037.6zM894.3 1021.6L912.9 1021.6L903.6 1038.3zM901.4 1018.9L920 1018.9L910.7 1035.6zM908.4 1030.2L927 1030.2L917.7 1046.9zM915.5 1031.7L934 1031.7L924.8 1048.4zM922.5 1035.6L941.1 1035.6L931.8 1052.3zM929.6 1032.2L948.1 1032.2L938.9 1048.9zM936.6 1036.1L955.2 1036.1L945.9 1052.8zM943.7 1031.9L962.2 1031.9L953 1048.6zM950.7 1025.3L969.3 1025.3L960 1042zM957.8 1015.6L976.4 1015.6L967.1 1032.3zM964.8 1010.7L983.4 1010.7L974.1 1027.4zM971.9 1019.6L990.5 1019.6L981.2 1036.3zM978.9 1031.1L997.5 1031.1L988.2 1047.8zM986 1025.3L1004.5 1025.3L995.2 1042zM993 1013.5L1011.6 1013.5L1002.3 1030.2zM1000.1 1009.8L1018.6 1009.8L1009.4 1026.5zM1007.1 1014.2L1025.7 1014.2L1016.4 1030.9zM1014.2 1014.7L1032.8 1014.7L1023.5 1031.4zM1021.2 1013.6L1039.8 1013.6L1030.5 1030.3zM1028.3 1009.7L1046.9 1009.7L1037.6 1026.4zM1035.3 1010.6L1053.9 1010.6L1044.6 1027.3zM1042.4 1002.3L1061 1002.3L1051.7 1019zM1049.4 1013.5L1068 1013.5L1058.7 1030.2zM1056.5 1021.2L1075 1021.2L1065.8 1037.9zM1063.5 1003.8L1082.1 1003.8L1072.8 1020.5zM1070.6 996.1L1089.2 996.1L1079.9 1012.8zM1077.6 1013L1096.2 1013L1086.9 1029.7zM1084.7 1053.5L1103.2 1053.5L1094 1070.2zM1091.7 1091.3L1110.3 1091.3L1101 1108zM1098.8 1123.6L1117.4 1123.6L1108.1 1140.3zM1105.8 1151.6L1124.4 1151.6L1115.1 1168.3zM1112.9 1170.4L1131.5 1170.4L1122.2 1187.1zM1119.9 1193.4L1138.5 1193.4L1129.2 1210.1zM1127 1177.9L1145.5 1177.9L1136.2 1194.6zM1134 1224.6L1152.6 1224.6L1143.3 1241.3zM1141.1 1207.2L1159.7 1207.2L1150.4 1223.9zM1148.1 1187.8L1166.7 1187.8L1157.4 1204.5zM1155.2 1181.3L1173.8 1181.3L1164.5 1198zM1162.2 1195.1L1180.8 1195.1L1171.5 1211.8zM1169.2 1201.1L1187.8 1201.1L1178.5 1217.8zM1176.3 1170.5L1194.9 1170.5L1185.6 1187.2zM1183.4 1164.9L1202 1164.9L1192.7 1181.6zM1190.4 1176L1209 1176L1199.7 1192.7zM1197.5 1188.5L1216 1188.5L1206.8 1205.2zM1204.5 1206.3L1223.1 1206.3L1213.8 1223zM1211.5 1196.8L1230.1 1196.8L1220.8 1213.5zM1218.6 1190.7L1237.2 1190.7L1227.9 1207.4zM1225.7 1196.4L1244.2 1196.4L1235 1213.1zM1232.7 1198.6L1251.3 1198.6L1242 1215.3zM1239.8 1165.1L1258.4 1165.1L1249.1 1181.8zM1246.8 1158.4L1265.4 1158.4L1256.1 1175.1zM1253.9 1191.7L1272.5 1191.7L1263.2 1208.4zM1260.9 1181.6L1279.5 1181.6L1270.2 1198.3zM1268 1183.1L1286.5 1183.1L1277.2 1199.8zM1275 1218.9L1293.6 1218.9L1284.3 1235.6zM1282.1 1204.5L1300.7 1204.5L1291.4 1221.2zM1289.1 1202.1L1307.7 1202.1L1298.4 1218.8zM1296.2 1196L1314.8 1196L1305.5 1212.7z" fill="#6A6FC4"/>
<path d="M881.1 1051.3L887.7 1019.7L896 1018.1L902.6 1020L909.3 1016.4L917.6 1029.7L925.9 1036.3L932.6 1018.1L940 1025L946 1032L952.5 1038L959 1025L965.8 1011.4L972.5 996.5L980 1015L987.4 1029.7L994 1015L1000.7 1003.1L1009 1009.8L1015.7 1019.7L1022 1018L1028.9 1014.7L1037.3 999.8L1045.6 1028L1052.2 1003.1L1058.9 1039.7L1065.5 1019.7L1073.8 1029.7L1078.8 1001.5L1087.1 1016.4L1100.4 1092.8L1108.7 1101.2L1113.7 1149.3L1122 1185.9L1128.7 1205.8L1135.3 1187.6L1143.6 1242.4L1152 1214.1L1157 1200L1163.5 1190.9L1170.2 1204.2L1178.5 1212.5L1185.1 1185.9L1193.4 1175.9L1200.1 1187.6L1207 1205L1215.1 1222.5L1221 1212L1228.4 1205.8L1235 1210L1241.7 1212.5L1250 1170.9L1256.6 1174.3L1263.3 1205.8L1271.6 1189.2L1278.2 1195.9L1284.9 1235.7L1291.5 1219.1L1298 1215L1304.8 1210.8" fill="none" stroke="#FD9D38" stroke-width="1.4"/>
<path d="M881.1 1041L890.4 1051.3L881.1 1061.6L871.8 1051.3zM887.7 1009.4L897 1019.7L887.7 1030L878.4 1019.7zM896 1007.8L905.3 1018.1L896 1028.4L886.7 1018.1zM902.6 1009.7L911.9 1020L902.6 1030.3L893.3 1020zM909.3 1006.1L918.6 1016.4L909.3 1026.7L900 1016.4zM917.6 1019.4L926.9 1029.7L917.6 1040L908.3 1029.7zM925.9 1026L935.2 1036.3L925.9 1046.6L916.6 1036.3zM932.6 1007.8L941.9 1018.1L932.6 1028.4L923.3 1018.1zM940 1014.7L949.3 1025L940 1035.3L930.7 1025zM946 1021.7L955.3 1032L946 1042.3L936.7 1032zM952.5 1027.7L961.8 1038L952.5 1048.3L943.2 1038zM959 1014.7L968.3 1025L959 1035.3L949.7 1025zM965.8 1001.1L975.1 1011.4L965.8 1021.7L956.5 1011.4zM972.5 986.2L981.8 996.5L972.5 1006.8L963.2 996.5zM980 1004.7L989.3 1015L980 1025.3L970.7 1015zM987.4 1019.4L996.7 1029.7L987.4 1040L978.1 1029.7zM994 1004.7L1003.3 1015L994 1025.3L984.7 1015zM1000.7 992.8L1010 1003.1L1000.7 1013.4L991.4 1003.1zM1009 999.5L1018.3 1009.8L1009 1020.1L999.7 1009.8zM1015.7 1009.4L1025 1019.7L1015.7 1030L1006.4 1019.7zM1022 1007.7L1031.3 1018L1022 1028.3L1012.7 1018zM1028.9 1004.4L1038.2 1014.7L1028.9 1025L1019.6 1014.7zM1037.3 989.5L1046.6 999.8L1037.3 1010.1L1028 999.8zM1045.6 1017.7L1054.9 1028L1045.6 1038.3L1036.3 1028zM1052.2 992.8L1061.5 1003.1L1052.2 1013.4L1042.9 1003.1zM1058.9 1029.4L1068.2 1039.7L1058.9 1050L1049.6 1039.7zM1065.5 1009.4L1074.8 1019.7L1065.5 1030L1056.2 1019.7zM1073.8 1019.4L1083.1 1029.7L1073.8 1040L1064.5 1029.7zM1078.8 991.2L1088.1 1001.5L1078.8 1011.8L1069.5 1001.5zM1087.1 1006.1L1096.4 1016.4L1087.1 1026.7L1077.8 1016.4zM1100.4 1082.5L1109.7 1092.8L1100.4 1103.1L1091.1 1092.8zM1108.7 1090.9L1118 1101.2L1108.7 1111.5L1099.4 1101.2zM1113.7 1139L1123 1149.3L1113.7 1159.6L1104.4 1149.3zM1122 1175.6L1131.3 1185.9L1122 1196.2L1112.7 1185.9zM1128.7 1195.5L1138 1205.8L1128.7 1216.1L1119.4 1205.8zM1135.3 1177.3L1144.6 1187.6L1135.3 1197.9L1126 1187.6zM1143.6 1232.1L1152.9 1242.4L1143.6 1252.7L1134.3 1242.4zM1152 1203.8L1161.3 1214.1L1152 1224.4L1142.7 1214.1zM1157 1189.7L1166.3 1200L1157 1210.3L1147.7 1200zM1163.5 1180.6L1172.8 1190.9L1163.5 1201.2L1154.2 1190.9zM1170.2 1193.9L1179.5 1204.2L1170.2 1214.5L1160.9 1204.2zM1178.5 1202.2L1187.8 1212.5L1178.5 1222.8L1169.2 1212.5zM1185.1 1175.6L1194.4 1185.9L1185.1 1196.2L1175.8 1185.9zM1193.4 1165.6L1202.7 1175.9L1193.4 1186.2L1184.1 1175.9zM1200.1 1177.3L1209.4 1187.6L1200.1 1197.9L1190.8 1187.6zM1207 1194.7L1216.3 1205L1207 1215.3L1197.7 1205zM1215.1 1212.2L1224.4 1222.5L1215.1 1232.8L1205.8 1222.5zM1221 1201.7L1230.3 1212L1221 1222.3L1211.7 1212zM1228.4 1195.5L1237.7 1205.8L1228.4 1216.1L1219.1 1205.8zM1235 1199.7L1244.3 1210L1235 1220.3L1225.7 1210zM1241.7 1202.2L1251 1212.5L1241.7 1222.8L1232.4 1212.5zM1250 1160.6L1259.3 1170.9L1250 1181.2L1240.7 1170.9zM1256.6 1164L1265.9 1174.3L1256.6 1184.6L1247.3 1174.3zM1263.3 1195.5L1272.6 1205.8L1263.3 1216.1L1254 1205.8zM1271.6 1178.9L1280.9 1189.2L1271.6 1199.5L1262.3 1189.2zM1278.2 1185.6L1287.5 1195.9L1278.2 1206.2L1268.9 1195.9zM1284.9 1225.4L1294.2 1235.7L1284.9 1246L1275.6 1235.7zM1291.5 1208.8L1300.8 1219.1L1291.5 1229.4L1282.2 1219.1zM1298 1204.7L1307.3 1215L1298 1225.3L1288.7 1215zM1304.8 1200.5L1314.1 1210.8L1304.8 1221.1L1295.5 1210.8z" fill="#FD9D38"/>
<path d="M884.8 1413.1L891.8 1412.9L898.9 1412.7L905.9 1412.5L913 1412.4L920 1412.2L927 1412L934.1 1411.8L941.1 1411.6L948.2 1411.7L955.2 1412.4L962.3 1413.1L969.4 1413.8L976.4 1414.5L983.5 1415.2L990.5 1415.9L997.5 1416.6L1004.6 1417.3L1011.6 1418L1018.7 1419.1L1025.8 1420.1L1032.8 1421.2L1039.8 1422.2L1046.9 1423.3L1054 1424.4L1061 1425.4L1068 1426.5L1075.1 1427.5L1082.2 1428.6L1089.2 1429.7L1096.2 1430.7L1103.3 1431.8L1110.3 1432.9L1117.4 1434.4L1124.5 1436.2L1131.5 1438L1138.5 1439.7L1145.6 1441.5L1152.7 1444L1159.7 1446.4L1166.8 1448.9L1173.8 1451.4L1180.8 1453.9L1187.9 1456.8L1195 1459.6L1202 1462.4L1209 1465.2L1216.1 1468.5L1223.2 1472L1230.2 1475.5L1237.2 1479L1244.3 1482.6L1251.3 1486.1L1258.4 1489.6L1265.5 1493.1L1272.5 1496.9L1279.5 1502.2L1286.6 1507.9L1293.7 1515L1300.7 1522.5L1307.8 1530.7" fill="none" stroke="#04B7F5" stroke-width="1.4"/>
<path d="M877.5 1405.8h14.6v14.6h-14.6zM884.5 1405.6h14.6v14.6h-14.6zM891.6 1405.4h14.6v14.6h-14.6zM898.6 1405.2h14.6v14.6h-14.6zM905.7 1405.1h14.6v14.6h-14.6zM912.7 1404.9h14.6v14.6h-14.6zM919.8 1404.7h14.6v14.6h-14.6zM926.8 1404.5h14.6v14.6h-14.6zM933.9 1404.3h14.6v14.6h-14.6zM940.9 1404.4h14.6v14.6h-14.6zM948 1405.1h14.6v14.6h-14.6zM955 1405.8h14.6v14.6h-14.6zM962.1 1406.5h14.6v14.6h-14.6zM969.1 1407.2h14.6v14.6h-14.6zM976.2 1407.9h14.6v14.6h-14.6zM983.2 1408.6h14.6v14.6h-14.6zM990.2 1409.3h14.6v14.6h-14.6zM997.3 1410h14.6v14.6h-14.6zM1004.4 1410.7h14.6v14.6h-14.6zM1011.4 1411.8h14.6v14.6h-14.6zM1018.5 1412.8h14.6v14.6h-14.6zM1025.5 1413.9h14.6v14.6h-14.6zM1032.5 1414.9h14.6v14.6h-14.6zM1039.6 1416h14.6v14.6h-14.6zM1046.7 1417.1h14.6v14.6h-14.6zM1053.7 1418.1h14.6v14.6h-14.6zM1060.8 1419.2h14.6v14.6h-14.6zM1067.8 1420.2h14.6v14.6h-14.6zM1074.9 1421.3h14.6v14.6h-14.6zM1081.9 1422.4h14.6v14.6h-14.6zM1089 1423.4h14.6v14.6h-14.6zM1096 1424.5h14.6v14.6h-14.6zM1103 1425.6h14.6v14.6h-14.6zM1110.1 1427.1h14.6v14.6h-14.6zM1117.2 1428.9h14.6v14.6h-14.6zM1124.2 1430.7h14.6v14.6h-14.6zM1131.2 1432.4h14.6v14.6h-14.6zM1138.3 1434.2h14.6v14.6h-14.6zM1145.4 1436.7h14.6v14.6h-14.6zM1152.4 1439.1h14.6v14.6h-14.6zM1159.5 1441.6h14.6v14.6h-14.6zM1166.5 1444.1h14.6v14.6h-14.6zM1173.5 1446.6h14.6v14.6h-14.6zM1180.6 1449.5h14.6v14.6h-14.6zM1187.7 1452.3h14.6v14.6h-14.6zM1194.7 1455.1h14.6v14.6h-14.6zM1201.8 1457.9h14.6v14.6h-14.6zM1208.8 1461.2h14.6v14.6h-14.6zM1215.9 1464.7h14.6v14.6h-14.6zM1222.9 1468.2h14.6v14.6h-14.6zM1230 1471.7h14.6v14.6h-14.6zM1237 1475.3h14.6v14.6h-14.6zM1244 1478.8h14.6v14.6h-14.6zM1251.1 1482.3h14.6v14.6h-14.6zM1258.2 1485.8h14.6v14.6h-14.6zM1265.2 1489.6h14.6v14.6h-14.6zM1272.2 1494.9h14.6v14.6h-14.6zM1279.3 1500.6h14.6v14.6h-14.6zM1286.4 1507.7h14.6v14.6h-14.6zM1293.4 1515.2h14.6v14.6h-14.6zM1300.5 1523.4h14.6v14.6h-14.6z" fill="#04B7F5"/>
<path d="M884.8 1414.8L891.8 1416.5L898.9 1418.2L905.9 1419.9L913 1421.6L920 1422.7L927 1423.9L934.1 1425.1L941.1 1426.2L948.2 1427.4L955.2 1428.6L962.3 1429.8L969.4 1423.3L976.4 1416.9L983.5 1411.5L990.5 1417.6L997.5 1425.9L1004.6 1428.6L1011.6 1431.2L1018.7 1434.9L1025.8 1438.8L1032.8 1442.7L1039.8 1446.5L1046.9 1450.9L1054 1457.2L1061 1463.6L1068 1465.4L1075.1 1466.3L1082.2 1467.2L1089.2 1467.9L1096.2 1465.8L1103.3 1463.8L1110.3 1461.8L1117.4 1463.2L1124.5 1465.7L1131.5 1468.2L1138.5 1470.6L1145.6 1473.1L1152.7 1474.4L1159.7 1475.7L1166.8 1477L1173.8 1478.9L1180.8 1482.5L1187.9 1486L1195 1489.5L1202 1494.5L1209 1499.5L1216.1 1504.6L1223.2 1508.3L1230.2 1511.3L1237.2 1514.4L1244.3 1517.5L1251.3 1519.9L1258.4 1522.3L1265.5 1524.8L1272.5 1528.3L1279.5 1532.2L1286.6 1537.8L1293.7 1543.5L1300.7 1551.2L1307.8 1557.7" fill="none" stroke="#EC4F5F" stroke-width="1.4"/>
<path d="M877 1414.8a7.8 7.8 0 1 0 15.6 0a7.8 7.8 0 1 0 -15.6 0zM884 1416.5a7.8 7.8 0 1 0 15.6 0a7.8 7.8 0 1 0 -15.6 0zM891.1 1418.2a7.8 7.8 0 1 0 15.6 0a7.8 7.8 0 1 0 -15.6 0zM898.1 1419.9a7.8 7.8 0 1 0 15.6 0a7.8 7.8 0 1 0 -15.6 0zM905.2 1421.6a7.8 7.8 0 1 0 15.6 0a7.8 7.8 0 1 0 -15.6 0zM912.2 1422.7a7.8 7.8 0 1 0 15.6 0a7.8 7.8 0 1 0 -15.6 0zM919.2 1423.9a7.8 7.8 0 1 0 15.6 0a7.8 7.8 0 1 0 -15.6 0zM926.3 1425.1a7.8 7.8 0 1 0 15.6 0a7.8 7.8 0 1 0 -15.6 0zM933.4 1426.2a7.8 7.8 0 1 0 15.6 0a7.8 7.8 0 1 0 -15.6 0zM940.4 1427.4a7.8 7.8 0 1 0 15.6 0a7.8 7.8 0 1 0 -15.6 0zM947.5 1428.6a7.8 7.8 0 1 0 15.6 0a7.8 7.8 0 1 0 -15.6 0zM954.5 1429.8a7.8 7.8 0 1 0 15.6 0a7.8 7.8 0 1 0 -15.6 0zM961.6 1423.3a7.8 7.8 0 1 0 15.6 0a7.8 7.8 0 1 0 -15.6 0zM968.6 1416.9a7.8 7.8 0 1 0 15.6 0a7.8 7.8 0 1 0 -15.6 0zM975.7 1411.5a7.8 7.8 0 1 0 15.6 0a7.8 7.8 0 1 0 -15.6 0zM982.7 1417.6a7.8 7.8 0 1 0 15.6 0a7.8 7.8 0 1 0 -15.6 0zM989.8 1425.9a7.8 7.8 0 1 0 15.6 0a7.8 7.8 0 1 0 -15.6 0zM996.8 1428.6a7.8 7.8 0 1 0 15.6 0a7.8 7.8 0 1 0 -15.6 0zM1003.9 1431.2a7.8 7.8 0 1 0 15.6 0a7.8 7.8 0 1 0 -15.6 0zM1010.9 1434.9a7.8 7.8 0 1 0 15.6 0a7.8 7.8 0 1 0 -15.6 0zM1018 1438.8a7.8 7.8 0 1 0 15.6 0a7.8 7.8 0 1 0 -15.6 0zM1025 1442.7a7.8 7.8 0 1 0 15.6 0a7.8 7.8 0 1 0 -15.6 0zM1032 1446.5a7.8 7.8 0 1 0 15.6 0a7.8 7.8 0 1 0 -15.6 0zM1039.1 1450.9a7.8 7.8 0 1 0 15.6 0a7.8 7.8 0 1 0 -15.6 0zM1046.2 1457.2a7.8 7.8 0 1 0 15.6 0a7.8 7.8 0 1 0 -15.6 0zM1053.2 1463.6a7.8 7.8 0 1 0 15.6 0a7.8 7.8 0 1 0 -15.6 0zM1060.2 1465.4a7.8 7.8 0 1 0 15.6 0a7.8 7.8 0 1 0 -15.6 0zM1067.3 1466.3a7.8 7.8 0 1 0 15.6 0a7.8 7.8 0 1 0 -15.6 0zM1074.4 1467.2a7.8 7.8 0 1 0 15.6 0a7.8 7.8 0 1 0 -15.6 0zM1081.4 1467.9a7.8 7.8 0 1 0 15.6 0a7.8 7.8 0 1 0 -15.6 0zM1088.5 1465.8a7.8 7.8 0 1 0 15.6 0a7.8 7.8 0 1 0 -15.6 0zM1095.5 1463.8a7.8 7.8 0 1 0 15.6 0a7.8 7.8 0 1 0 -15.6 0zM1102.5 1461.8a7.8 7.8 0 1 0 15.6 0a7.8 7.8 0 1 0 -15.6 0zM1109.6 1463.2a7.8 7.8 0 1 0 15.6 0a7.8 7.8 0 1 0 -15.6 0zM1116.7 1465.7a7.8 7.8 0 1 0 15.6 0a7.8 7.8 0 1 0 -15.6 0zM1123.7 1468.2a7.8 7.8 0 1 0 15.6 0a7.8 7.8 0 1 0 -15.6 0zM1130.8 1470.6a7.8 7.8 0 1 0 15.6 0a7.8 7.8 0 1 0 -15.6 0zM1137.8 1473.1a7.8 7.8 0 1 0 15.6 0a7.8 7.8 0 1 0 -15.6 0zM1144.9 1474.4a7.8 7.8 0 1 0 15.6 0a7.8 7.8 0 1 0 -15.6 0zM1151.9 1475.7a7.8 7.8 0 1 0 15.6 0a7.8 7.8 0 1 0 -15.6 0zM1159 1477a7.8 7.8 0 1 0 15.6 0a7.8 7.8 0 1 0 -15.6 0zM1166 1478.9a7.8 7.8 0 1 0 15.6 0a7.8 7.8 0 1 0 -15.6 0zM1173 1482.5a7.8 7.8 0 1 0 15.6 0a7.8 7.8 0 1 0 -15.6 0zM1180.1 1486a7.8 7.8 0 1 0 15.6 0a7.8 7.8 0 1 0 -15.6 0zM1187.2 1489.5a7.8 7.8 0 1 0 15.6 0a7.8 7.8 0 1 0 -15.6 0zM1194.2 1494.5a7.8 7.8 0 1 0 15.6 0a7.8 7.8 0 1 0 -15.6 0zM1201.2 1499.5a7.8 7.8 0 1 0 15.6 0a7.8 7.8 0 1 0 -15.6 0zM1208.3 1504.6a7.8 7.8 0 1 0 15.6 0a7.8 7.8 0 1 0 -15.6 0zM1215.4 1508.3a7.8 7.8 0 1 0 15.6 0a7.8 7.8 0 1 0 -15.6 0zM1222.4 1511.3a7.8 7.8 0 1 0 15.6 0a7.8 7.8 0 1 0 -15.6 0zM1229.5 1514.4a7.8 7.8 0 1 0 15.6 0a7.8 7.8 0 1 0 -15.6 0zM1236.5 1517.5a7.8 7.8 0 1 0 15.6 0a7.8 7.8 0 1 0 -15.6 0zM1243.5 1519.9a7.8 7.8 0 1 0 15.6 0a7.8 7.8 0 1 0 -15.6 0zM1250.6 1522.3a7.8 7.8 0 1 0 15.6 0a7.8 7.8 0 1 0 -15.6 0zM1257.7 1524.8a7.8 7.8 0 1 0 15.6 0a7.8 7.8 0 1 0 -15.6 0zM1264.7 1528.3a7.8 7.8 0 1 0 15.6 0a7.8 7.8 0 1 0 -15.6 0zM1271.8 1532.2a7.8 7.8 0 1 0 15.6 0a7.8 7.8 0 1 0 -15.6 0zM1278.8 1537.8a7.8 7.8 0 1 0 15.6 0a7.8 7.8 0 1 0 -15.6 0zM1285.9 1543.5a7.8 7.8 0 1 0 15.6 0a7.8 7.8 0 1 0 -15.6 0zM1292.9 1551.2a7.8 7.8 0 1 0 15.6 0a7.8 7.8 0 1 0 -15.6 0zM1300 1557.7a7.8 7.8 0 1 0 15.6 0a7.8 7.8 0 1 0 -15.6 0z" fill="#EC4F5F"/>
<path d="M884.8 1413L891.8 1414.8L898.9 1416.5L905.9 1418.3L913 1420.1L920 1422.5L927 1424.9L934.1 1427.4L941.1 1429.8L948.2 1431.6L955.2 1432.3L962.3 1433L969.4 1433.7L976.4 1434.4L983.5 1435.4L990.5 1436.4L997.5 1437.5L1004.6 1438.5L1011.6 1439.6L1018.7 1441.6L1025.8 1443.7L1032.8 1445.9L1039.8 1448L1046.9 1450.1L1054 1452.2L1061 1454.3L1068 1456.5L1075.1 1458.6L1082.2 1461.4L1089.2 1464.9L1096.2 1468.9L1103.3 1476.7L1110.3 1484.5L1117.4 1490.6L1124.5 1496.1L1131.5 1501.7L1138.5 1507.4L1145.6 1513L1152.7 1517.2L1159.7 1521.5L1166.8 1526.7L1173.8 1532.3L1180.8 1538L1187.9 1543.6L1195 1549.3L1202 1556.3L1209 1563.3L1216.1 1570.4L1223.2 1577.4L1230.2 1584.4L1237.2 1591.5L1244.3 1598.6L1251.3 1605.6L1258.4 1612.7L1265.5 1621.3L1272.5 1631.1L1279.5 1641.3L1286.6 1653L1293.7 1668.5L1300.7 1684.2L1307.8 1698.2" fill="none" stroke="#37C05A" stroke-width="1.4"/>
<path d="M884.8 1402.8L894 1418.4L875.5 1418.4zM891.8 1404.6L901.1 1420.2L882.5 1420.2zM898.9 1406.3L908.1 1421.9L889.6 1421.9zM905.9 1408.1L915.2 1423.7L896.6 1423.7zM913 1409.9L922.2 1425.5L903.7 1425.5zM920 1412.3L929.3 1427.9L910.7 1427.9zM927 1414.7L936.3 1430.3L917.8 1430.3zM934.1 1417.2L943.4 1432.8L924.8 1432.8zM941.1 1419.6L950.4 1435.2L931.9 1435.2zM948.2 1421.4L957.5 1437L938.9 1437zM955.2 1422.1L964.5 1437.7L946 1437.7zM962.3 1422.8L971.6 1438.4L953 1438.4zM969.4 1423.5L978.6 1439.1L960.1 1439.1zM976.4 1424.2L985.7 1439.8L967.1 1439.8zM983.5 1425.2L992.8 1440.8L974.2 1440.8zM990.5 1426.2L999.8 1441.8L981.2 1441.8zM997.5 1427.3L1006.8 1442.9L988.2 1442.9zM1004.6 1428.3L1013.9 1443.9L995.3 1443.9zM1011.6 1429.4L1020.9 1445L1002.4 1445zM1018.7 1431.4L1028 1447L1009.4 1447zM1025.8 1433.5L1035 1449.1L1016.5 1449.1zM1032.8 1435.7L1042.1 1451.3L1023.5 1451.3zM1039.8 1437.8L1049.1 1453.4L1030.5 1453.4zM1046.9 1439.9L1056.2 1455.5L1037.6 1455.5zM1054 1442L1063.2 1457.6L1044.7 1457.6zM1061 1444.1L1070.3 1459.7L1051.7 1459.7zM1068 1446.3L1077.3 1461.9L1058.8 1461.9zM1075.1 1448.4L1084.4 1464L1065.8 1464zM1082.2 1451.2L1091.5 1466.8L1072.9 1466.8zM1089.2 1454.7L1098.5 1470.3L1079.9 1470.3zM1096.2 1458.7L1105.5 1474.3L1087 1474.3zM1103.3 1466.5L1112.6 1482.1L1094 1482.1zM1110.3 1474.3L1119.6 1489.9L1101 1489.9zM1117.4 1480.4L1126.7 1496L1108.1 1496zM1124.5 1485.9L1133.8 1501.5L1115.2 1501.5zM1131.5 1491.5L1140.8 1507.1L1122.2 1507.1zM1138.5 1497.2L1147.8 1512.8L1129.2 1512.8zM1145.6 1502.8L1154.9 1518.4L1136.3 1518.4zM1152.7 1507L1162 1522.6L1143.4 1522.6zM1159.7 1511.3L1169 1526.9L1150.4 1526.9zM1166.8 1516.5L1176 1532.1L1157.5 1532.1zM1173.8 1522.1L1183.1 1537.7L1164.5 1537.7zM1180.8 1527.8L1190.1 1543.4L1171.5 1543.4zM1187.9 1533.4L1197.2 1549L1178.6 1549zM1195 1539.1L1204.2 1554.7L1185.7 1554.7zM1202 1546.1L1211.3 1561.7L1192.7 1561.7zM1209 1553.1L1218.3 1568.8L1199.8 1568.8zM1216.1 1560.2L1225.4 1575.8L1206.8 1575.8zM1223.2 1567.2L1232.5 1582.8L1213.9 1582.8zM1230.2 1574.2L1239.5 1589.8L1220.9 1589.8zM1237.2 1581.3L1246.5 1596.9L1228 1596.9zM1244.3 1588.4L1253.6 1604L1235 1604zM1251.3 1595.4L1260.6 1611L1242 1611zM1258.4 1602.5L1267.7 1618.1L1249.1 1618.1zM1265.5 1611.1L1274.8 1626.7L1256.2 1626.7zM1272.5 1620.9L1281.8 1636.5L1263.2 1636.5zM1279.5 1631.1L1288.8 1646.7L1270.2 1646.7zM1286.6 1642.8L1295.9 1658.4L1277.3 1658.4zM1293.7 1658.3L1303 1673.9L1284.4 1673.9zM1300.7 1674L1310 1689.6L1291.4 1689.6zM1307.8 1688L1317 1703.6L1298.5 1703.6z" fill="#37C05A"/>
<path d="M884.8 1414L891.8 1419.7L898.9 1421.7L905.9 1418.1L913 1414.6L920 1411.9L927 1409.1L934.1 1411.2L941.1 1415.6L948.2 1419.5L955.2 1422.9L962.3 1426.3L969.4 1427.1L976.4 1427.8L983.5 1428.5L990.5 1429.3L997.5 1430.1L1004.6 1431.1L1011.6 1432.1L1018.7 1433.2L1025.8 1434.2L1032.8 1435.8L1039.8 1438L1046.9 1439.6L1054 1438.9L1061 1438.2L1068 1439.3L1075.1 1440.7L1082.2 1442.7L1089.2 1445.5L1096.2 1448.9L1103.3 1456.7L1110.3 1464.5L1117.4 1472.8L1124.5 1481.2L1131.5 1488L1138.5 1492.2L1145.6 1496.4L1152.7 1502.1L1159.7 1507.7L1166.8 1512.9L1173.8 1517.9L1180.8 1521.9L1187.9 1524L1195 1526.1L1202 1536.5L1209 1546.5L1216.1 1556.2L1223.2 1565.3L1230.2 1574.1L1237.2 1582.9L1244.3 1591.7L1251.3 1601.5L1258.4 1611.4L1265.5 1620.5L1272.5 1629L1279.5 1641.5L1286.6 1667.7L1293.7 1683.2L1300.7 1710.5L1307.8 1728.1" fill="none" stroke="#6A6FC4" stroke-width="1.4"/>
<path d="M875.5 1408.6L894 1408.6L884.8 1425.3zM882.5 1414.3L901.1 1414.3L891.8 1431zM889.6 1416.3L908.1 1416.3L898.9 1433zM896.6 1412.7L915.2 1412.7L905.9 1429.4zM903.7 1409.2L922.2 1409.2L913 1425.9zM910.7 1406.5L929.3 1406.5L920 1423.2zM917.8 1403.7L936.3 1403.7L927 1420.4zM924.8 1405.8L943.4 1405.8L934.1 1422.5zM931.9 1410.2L950.4 1410.2L941.1 1426.9zM938.9 1414.1L957.5 1414.1L948.2 1430.8zM946 1417.5L964.5 1417.5L955.2 1434.2zM953 1420.9L971.6 1420.9L962.3 1437.6zM960.1 1421.7L978.6 1421.7L969.4 1438.4zM967.1 1422.4L985.7 1422.4L976.4 1439.1zM974.2 1423.1L992.8 1423.1L983.5 1439.8zM981.2 1423.9L999.8 1423.9L990.5 1440.6zM988.2 1424.7L1006.8 1424.7L997.5 1441.4zM995.3 1425.7L1013.9 1425.7L1004.6 1442.4zM1002.4 1426.7L1020.9 1426.7L1011.6 1443.4zM1009.4 1427.8L1028 1427.8L1018.7 1444.5zM1016.5 1428.8L1035 1428.8L1025.8 1445.5zM1023.5 1430.4L1042.1 1430.4L1032.8 1447.1zM1030.5 1432.6L1049.1 1432.6L1039.8 1449.3zM1037.6 1434.2L1056.2 1434.2L1046.9 1450.9zM1044.7 1433.5L1063.2 1433.5L1054 1450.2zM1051.7 1432.8L1070.3 1432.8L1061 1449.5zM1058.8 1433.9L1077.3 1433.9L1068 1450.6zM1065.8 1435.3L1084.4 1435.3L1075.1 1452zM1072.9 1437.3L1091.5 1437.3L1082.2 1454zM1079.9 1440.1L1098.5 1440.1L1089.2 1456.8zM1087 1443.5L1105.5 1443.5L1096.2 1460.2zM1094 1451.3L1112.6 1451.3L1103.3 1468zM1101 1459.1L1119.6 1459.1L1110.3 1475.8zM1108.1 1467.4L1126.7 1467.4L1117.4 1484.1zM1115.2 1475.8L1133.8 1475.8L1124.5 1492.5zM1122.2 1482.6L1140.8 1482.6L1131.5 1499.3zM1129.2 1486.8L1147.8 1486.8L1138.5 1503.5zM1136.3 1491L1154.9 1491L1145.6 1507.7zM1143.4 1496.7L1162 1496.7L1152.7 1513.4zM1150.4 1502.3L1169 1502.3L1159.7 1519zM1157.5 1507.5L1176 1507.5L1166.8 1524.2zM1164.5 1512.5L1183.1 1512.5L1173.8 1529.2zM1171.5 1516.5L1190.1 1516.5L1180.8 1533.2zM1178.6 1518.6L1197.2 1518.6L1187.9 1535.3zM1185.7 1520.7L1204.2 1520.7L1195 1537.4zM1192.7 1531L1211.3 1531L1202 1547.8zM1199.8 1541.1L1218.3 1541.1L1209 1557.8zM1206.8 1550.8L1225.4 1550.8L1216.1 1567.5zM1213.9 1559.9L1232.5 1559.9L1223.2 1576.6zM1220.9 1568.7L1239.5 1568.7L1230.2 1585.4zM1228 1577.5L1246.5 1577.5L1237.2 1594.2zM1235 1586.3L1253.6 1586.3L1244.3 1603zM1242 1596.1L1260.6 1596.1L1251.3 1612.8zM1249.1 1606L1267.7 1606L1258.4 1622.7zM1256.2 1615.1L1274.8 1615.1L1265.5 1631.8zM1263.2 1623.6L1281.8 1623.6L1272.5 1640.3zM1270.2 1636.1L1288.8 1636.1L1279.5 1652.8zM1277.3 1662.3L1295.9 1662.3L1286.6 1679zM1284.4 1677.8L1303 1677.8L1293.7 1694.5zM1291.4 1705.1L1310 1705.1L1300.7 1721.8zM1298.5 1722.7L1317 1722.7L1307.8 1739.4z" fill="#6A6FC4"/>
<path d="M882.7 1414.8L891 1420L898 1416L906 1421.5L913 1416L920 1418L926 1415L932.6 1418.1L939 1424L945.9 1431.4L955.8 1413.1L962 1418L968 1420L979.1 1421.5L985 1418L995 1415L1002.4 1416.5L1010 1420L1019 1419.8L1025 1425L1032.3 1431.4L1040 1430L1048.9 1424.8L1055 1430L1065.5 1433.1L1072 1432L1082.1 1428.1L1090 1433L1098.8 1436.4L1105 1438L1112 1438.1L1120 1444L1128.7 1449.7L1136 1456L1145.3 1463L1150 1455L1158.6 1449.7L1165 1456L1171.9 1461.3L1178 1469L1185.1 1476.3L1191 1481L1198.4 1484.6L1205 1488L1212 1490L1218.4 1492.9L1225 1500L1231.7 1509.5L1238 1515L1245 1522.8L1250 1535L1254.9 1546.1L1261 1550L1268.2 1552.7L1273 1557L1278.2 1562.7L1286.5 1584.3L1293.2 1602.6L1301.5 1622.5L1308.1 1620.9" fill="none" stroke="#FD9D38" stroke-width="1.4"/>
<path d="M882.7 1404.5L892 1414.8L882.7 1425.1L873.4 1414.8zM891 1409.7L900.3 1420L891 1430.3L881.7 1420zM898 1405.7L907.3 1416L898 1426.3L888.7 1416zM906 1411.2L915.3 1421.5L906 1431.8L896.7 1421.5zM913 1405.7L922.3 1416L913 1426.3L903.7 1416zM920 1407.7L929.3 1418L920 1428.3L910.7 1418zM926 1404.7L935.3 1415L926 1425.3L916.7 1415zM932.6 1407.8L941.9 1418.1L932.6 1428.4L923.3 1418.1zM939 1413.7L948.3 1424L939 1434.3L929.7 1424zM945.9 1421.1L955.2 1431.4L945.9 1441.7L936.6 1431.4zM955.8 1402.8L965.1 1413.1L955.8 1423.4L946.5 1413.1zM962 1407.7L971.3 1418L962 1428.3L952.7 1418zM968 1409.7L977.3 1420L968 1430.3L958.7 1420zM979.1 1411.2L988.4 1421.5L979.1 1431.8L969.8 1421.5zM985 1407.7L994.3 1418L985 1428.3L975.7 1418zM995 1404.7L1004.3 1415L995 1425.3L985.7 1415zM1002.4 1406.2L1011.7 1416.5L1002.4 1426.8L993.1 1416.5zM1010 1409.7L1019.3 1420L1010 1430.3L1000.7 1420zM1019 1409.5L1028.3 1419.8L1019 1430.1L1009.7 1419.8zM1025 1414.7L1034.3 1425L1025 1435.3L1015.7 1425zM1032.3 1421.1L1041.6 1431.4L1032.3 1441.7L1023 1431.4zM1040 1419.7L1049.3 1430L1040 1440.3L1030.7 1430zM1048.9 1414.5L1058.2 1424.8L1048.9 1435.1L1039.6 1424.8zM1055 1419.7L1064.3 1430L1055 1440.3L1045.7 1430zM1065.5 1422.8L1074.8 1433.1L1065.5 1443.4L1056.2 1433.1zM1072 1421.7L1081.3 1432L1072 1442.3L1062.7 1432zM1082.1 1417.8L1091.4 1428.1L1082.1 1438.4L1072.8 1428.1zM1090 1422.7L1099.3 1433L1090 1443.3L1080.7 1433zM1098.8 1426.1L1108.1 1436.4L1098.8 1446.7L1089.5 1436.4zM1105 1427.7L1114.3 1438L1105 1448.3L1095.7 1438zM1112 1427.8L1121.3 1438.1L1112 1448.4L1102.7 1438.1zM1120 1433.7L1129.3 1444L1120 1454.3L1110.7 1444zM1128.7 1439.4L1138 1449.7L1128.7 1460L1119.4 1449.7zM1136 1445.7L1145.3 1456L1136 1466.3L1126.7 1456zM1145.3 1452.7L1154.6 1463L1145.3 1473.3L1136 1463zM1150 1444.7L1159.3 1455L1150 1465.3L1140.7 1455zM1158.6 1439.4L1167.9 1449.7L1158.6 1460L1149.3 1449.7zM1165 1445.7L1174.3 1456L1165 1466.3L1155.7 1456zM1171.9 1451L1181.2 1461.3L1171.9 1471.6L1162.6 1461.3zM1178 1458.7L1187.3 1469L1178 1479.3L1168.7 1469zM1185.1 1466L1194.4 1476.3L1185.1 1486.6L1175.8 1476.3zM1191 1470.7L1200.3 1481L1191 1491.3L1181.7 1481zM1198.4 1474.3L1207.7 1484.6L1198.4 1494.9L1189.1 1484.6zM1205 1477.7L1214.3 1488L1205 1498.3L1195.7 1488zM1212 1479.7L1221.3 1490L1212 1500.3L1202.7 1490zM1218.4 1482.6L1227.7 1492.9L1218.4 1503.2L1209.1 1492.9zM1225 1489.7L1234.3 1500L1225 1510.3L1215.7 1500zM1231.7 1499.2L1241 1509.5L1231.7 1519.8L1222.4 1509.5zM1238 1504.7L1247.3 1515L1238 1525.3L1228.7 1515zM1245 1512.5L1254.3 1522.8L1245 1533.1L1235.7 1522.8zM1250 1524.7L1259.3 1535L1250 1545.3L1240.7 1535zM1254.9 1535.8L1264.2 1546.1L1254.9 1556.4L1245.6 1546.1zM1261 1539.7L1270.3 1550L1261 1560.3L1251.7 1550zM1268.2 1542.4L1277.5 1552.7L1268.2 1563L1258.9 1552.7zM1273 1546.7L1282.3 1557L1273 1567.3L1263.7 1557zM1278.2 1552.4L1287.5 1562.7L1278.2 1573L1268.9 1562.7zM1286.5 1574L1295.8 1584.3L1286.5 1594.6L1277.2 1584.3zM1293.2 1592.3L1302.5 1602.6L1293.2 1612.9L1283.9 1602.6zM1301.5 1612.2L1310.8 1622.5L1301.5 1632.8L1292.2 1622.5zM1308.1 1610.6L1317.4 1620.9L1308.1 1631.2L1298.8 1620.9z" fill="#FD9D38"/>
<path d="M1583.2 1000.7L1590.3 990.6L1597.4 995.1L1604.5 1003.9L1611.6 994.8L1618.7 996.2L1625.8 1012L1632.9 1010L1640 1013.7L1647 1014.3L1654.1 1006.7L1661.2 1013.9L1668.3 1034.2L1675.4 1016.4L1682.5 1022.4L1689.6 1029L1696.7 1036.5L1703.7 1034.6L1710.8 1031.8L1717.9 1026.2L1725 1037.5L1732.1 1044.7L1739.2 1040.9L1746.3 1058.4L1753.4 1045.6L1760.5 1054.2L1767.5 1069.4L1774.6 1068.1L1781.7 1067.5L1788.8 1051L1795.9 1075.5L1803 1064.8L1810.1 1077.4L1817.2 1090.2L1824.3 1087.9L1831.3 1087L1838.4 1101.5L1845.5 1110.8L1852.6 1116.8L1859.7 1112.2L1866.8 1115.8L1873.9 1128.6L1881 1137.7L1888.1 1127.9L1895.1 1140.1L1902.2 1145.1L1909.3 1150L1916.4 1159.3L1923.5 1173.1L1930.6 1187.6L1937.7 1195.7L1944.8 1200.6L1951.8 1200.2L1958.9 1220.8L1966 1214.1L1973.1 1237.3L1980.2 1256.7L1987.3 1275.1L1994.4 1304.4" fill="none" stroke="#04B7F5" stroke-width="1.4"/>
<path d="M1575.9 993.4h14.6v14.6h-14.6zM1583 983.3h14.6v14.6h-14.6zM1590.1 987.8h14.6v14.6h-14.6zM1597.2 996.6h14.6v14.6h-14.6zM1604.3 987.5h14.6v14.6h-14.6zM1611.4 988.9h14.6v14.6h-14.6zM1618.5 1004.7h14.6v14.6h-14.6zM1625.6 1002.7h14.6v14.6h-14.6zM1632.7 1006.4h14.6v14.6h-14.6zM1639.7 1007h14.6v14.6h-14.6zM1646.8 999.4h14.6v14.6h-14.6zM1653.9 1006.6h14.6v14.6h-14.6zM1661 1026.9h14.6v14.6h-14.6zM1668.1 1009.1h14.6v14.6h-14.6zM1675.2 1015.1h14.6v14.6h-14.6zM1682.3 1021.7h14.6v14.6h-14.6zM1689.4 1029.2h14.6v14.6h-14.6zM1696.4 1027.3h14.6v14.6h-14.6zM1703.5 1024.5h14.6v14.6h-14.6zM1710.6 1018.9h14.6v14.6h-14.6zM1717.7 1030.2h14.6v14.6h-14.6zM1724.8 1037.4h14.6v14.6h-14.6zM1731.9 1033.6h14.6v14.6h-14.6zM1739 1051.1h14.6v14.6h-14.6zM1746.1 1038.3h14.6v14.6h-14.6zM1753.2 1046.9h14.6v14.6h-14.6zM1760.2 1062.1h14.6v14.6h-14.6zM1767.3 1060.8h14.6v14.6h-14.6zM1774.4 1060.2h14.6v14.6h-14.6zM1781.5 1043.7h14.6v14.6h-14.6zM1788.6 1068.2h14.6v14.6h-14.6zM1795.7 1057.5h14.6v14.6h-14.6zM1802.8 1070.1h14.6v14.6h-14.6zM1809.9 1082.9h14.6v14.6h-14.6zM1817 1080.6h14.6v14.6h-14.6zM1824 1079.7h14.6v14.6h-14.6zM1831.1 1094.2h14.6v14.6h-14.6zM1838.2 1103.5h14.6v14.6h-14.6zM1845.3 1109.5h14.6v14.6h-14.6zM1852.4 1104.9h14.6v14.6h-14.6zM1859.5 1108.5h14.6v14.6h-14.6zM1866.6 1121.3h14.6v14.6h-14.6zM1873.7 1130.4h14.6v14.6h-14.6zM1880.8 1120.6h14.6v14.6h-14.6zM1887.8 1132.8h14.6v14.6h-14.6zM1894.9 1137.8h14.6v14.6h-14.6zM1902 1142.7h14.6v14.6h-14.6zM1909.1 1152h14.6v14.6h-14.6zM1916.2 1165.8h14.6v14.6h-14.6zM1923.3 1180.3h14.6v14.6h-14.6zM1930.4 1188.4h14.6v14.6h-14.6zM1937.5 1193.3h14.6v14.6h-14.6zM1944.5 1192.9h14.6v14.6h-14.6zM1951.6 1213.5h14.6v14.6h-14.6zM1958.7 1206.8h14.6v14.6h-14.6zM1965.8 1230h14.6v14.6h-14.6zM1972.9 1249.4h14.6v14.6h-14.6zM1980 1267.8h14.6v14.6h-14.6zM1987.1 1297.1h14.6v14.6h-14.6z" fill="#04B7F5"/>
<path d="M1583.2 993.2L1590.3 984.2L1597.4 986.3L1604.5 992.2L1611.6 987.6L1618.7 990.8L1625.8 998.4L1632.9 999.8L1640 999.5L1647 1001.8L1654.1 1002.5L1661.2 1004.2L1668.3 1017.9L1675.4 1010.5L1682.5 1010.8L1689.6 1015.7L1696.7 1026.9L1703.7 1020.9L1710.8 1019.9L1717.9 1019.9L1725 1025.6L1732.1 1032.8L1739.2 1035.4L1746.3 1040.6L1753.4 1033.5L1760.5 1038.9L1767.5 1055.1L1774.6 1049.3L1781.7 1047.2L1788.8 1037.3L1795.9 1051.2L1803 1048.9L1810.1 1060.6L1817.2 1068.8L1824.3 1069.3L1831.3 1074L1838.4 1083.8L1845.5 1094.2L1852.6 1098.6L1859.7 1097.5L1866.8 1101.9L1873.9 1110.8L1881 1116.6L1888.1 1112.9L1895.1 1121.5L1902.2 1128.1L1909.3 1135.3L1916.4 1145.7L1923.5 1155.7L1930.6 1168.4L1937.7 1177.2L1944.8 1182L1951.8 1181L1958.9 1194.4L1966 1190L1973.1 1209L1980.2 1231.1L1987.3 1250.4L1994.4 1279.2" fill="none" stroke="#EC4F5F" stroke-width="1.4"/>
<path d="M1575.4 993.2a7.8 7.8 0 1 0 15.6 0a7.8 7.8 0 1 0 -15.6 0zM1582.5 984.2a7.8 7.8 0 1 0 15.6 0a7.8 7.8 0 1 0 -15.6 0zM1589.6 986.3a7.8 7.8 0 1 0 15.6 0a7.8 7.8 0 1 0 -15.6 0zM1596.7 992.2a7.8 7.8 0 1 0 15.6 0a7.8 7.8 0 1 0 -15.6 0zM1603.8 987.6a7.8 7.8 0 1 0 15.6 0a7.8 7.8 0 1 0 -15.6 0zM1610.9 990.8a7.8 7.8 0 1 0 15.6 0a7.8 7.8 0 1 0 -15.6 0zM1618 998.4a7.8 7.8 0 1 0 15.6 0a7.8 7.8 0 1 0 -15.6 0zM1625.1 999.8a7.8 7.8 0 1 0 15.6 0a7.8 7.8 0 1 0 -15.6 0zM1632.2 999.5a7.8 7.8 0 1 0 15.6 0a7.8 7.8 0 1 0 -15.6 0zM1639.2 1001.8a7.8 7.8 0 1 0 15.6 0a7.8 7.8 0 1 0 -15.6 0zM1646.3 1002.5a7.8 7.8 0 1 0 15.6 0a7.8 7.8 0 1 0 -15.6 0zM1653.4 1004.2a7.8 7.8 0 1 0 15.6 0a7.8 7.8 0 1 0 -15.6 0zM1660.5 1017.9a7.8 7.8 0 1 0 15.6 0a7.8 7.8 0 1 0 -15.6 0zM1667.6 1010.5a7.8 7.8 0 1 0 15.6 0a7.8 7.8 0 1 0 -15.6 0zM1674.7 1010.8a7.8 7.8 0 1 0 15.6 0a7.8 7.8 0 1 0 -15.6 0zM1681.8 1015.7a7.8 7.8 0 1 0 15.6 0a7.8 7.8 0 1 0 -15.6 0zM1688.9 1026.9a7.8 7.8 0 1 0 15.6 0a7.8 7.8 0 1 0 -15.6 0zM1695.9 1020.9a7.8 7.8 0 1 0 15.6 0a7.8 7.8 0 1 0 -15.6 0zM1703 1019.9a7.8 7.8 0 1 0 15.6 0a7.8 7.8 0 1 0 -15.6 0zM1710.1 1019.9a7.8 7.8 0 1 0 15.6 0a7.8 7.8 0 1 0 -15.6 0zM1717.2 1025.6a7.8 7.8 0 1 0 15.6 0a7.8 7.8 0 1 0 -15.6 0zM1724.3 1032.8a7.8 7.8 0 1 0 15.6 0a7.8 7.8 0 1 0 -15.6 0zM1731.4 1035.4a7.8 7.8 0 1 0 15.6 0a7.8 7.8 0 1 0 -15.6 0zM1738.5 1040.6a7.8 7.8 0 1 0 15.6 0a7.8 7.8 0 1 0 -15.6 0zM1745.6 1033.5a7.8 7.8 0 1 0 15.6 0a7.8 7.8 0 1 0 -15.6 0zM1752.7 1038.9a7.8 7.8 0 1 0 15.6 0a7.8 7.8 0 1 0 -15.6 0zM1759.7 1055.1a7.8 7.8 0 1 0 15.6 0a7.8 7.8 0 1 0 -15.6 0zM1766.8 1049.3a7.8 7.8 0 1 0 15.6 0a7.8 7.8 0 1 0 -15.6 0zM1773.9 1047.2a7.8 7.8 0 1 0 15.6 0a7.8 7.8 0 1 0 -15.6 0zM1781 1037.3a7.8 7.8 0 1 0 15.6 0a7.8 7.8 0 1 0 -15.6 0zM1788.1 1051.2a7.8 7.8 0 1 0 15.6 0a7.8 7.8 0 1 0 -15.6 0zM1795.2 1048.9a7.8 7.8 0 1 0 15.6 0a7.8 7.8 0 1 0 -15.6 0zM1802.3 1060.6a7.8 7.8 0 1 0 15.6 0a7.8 7.8 0 1 0 -15.6 0zM1809.4 1068.8a7.8 7.8 0 1 0 15.6 0a7.8 7.8 0 1 0 -15.6 0zM1816.5 1069.3a7.8 7.8 0 1 0 15.6 0a7.8 7.8 0 1 0 -15.6 0zM1823.5 1074a7.8 7.8 0 1 0 15.6 0a7.8 7.8 0 1 0 -15.6 0zM1830.6 1083.8a7.8 7.8 0 1 0 15.6 0a7.8 7.8 0 1 0 -15.6 0zM1837.7 1094.2a7.8 7.8 0 1 0 15.6 0a7.8 7.8 0 1 0 -15.6 0zM1844.8 1098.6a7.8 7.8 0 1 0 15.6 0a7.8 7.8 0 1 0 -15.6 0zM1851.9 1097.5a7.8 7.8 0 1 0 15.6 0a7.8 7.8 0 1 0 -15.6 0zM1859 1101.9a7.8 7.8 0 1 0 15.6 0a7.8 7.8 0 1 0 -15.6 0zM1866.1 1110.8a7.8 7.8 0 1 0 15.6 0a7.8 7.8 0 1 0 -15.6 0zM1873.2 1116.6a7.8 7.8 0 1 0 15.6 0a7.8 7.8 0 1 0 -15.6 0zM1880.3 1112.9a7.8 7.8 0 1 0 15.6 0a7.8 7.8 0 1 0 -15.6 0zM1887.3 1121.5a7.8 7.8 0 1 0 15.6 0a7.8 7.8 0 1 0 -15.6 0zM1894.4 1128.1a7.8 7.8 0 1 0 15.6 0a7.8 7.8 0 1 0 -15.6 0zM1901.5 1135.3a7.8 7.8 0 1 0 15.6 0a7.8 7.8 0 1 0 -15.6 0zM1908.6 1145.7a7.8 7.8 0 1 0 15.6 0a7.8 7.8 0 1 0 -15.6 0zM1915.7 1155.7a7.8 7.8 0 1 0 15.6 0a7.8 7.8 0 1 0 -15.6 0zM1922.8 1168.4a7.8 7.8 0 1 0 15.6 0a7.8 7.8 0 1 0 -15.6 0zM1929.9 1177.2a7.8 7.8 0 1 0 15.6 0a7.8 7.8 0 1 0 -15.6 0zM1937 1182a7.8 7.8 0 1 0 15.6 0a7.8 7.8 0 1 0 -15.6 0zM1944 1181a7.8 7.8 0 1 0 15.6 0a7.8 7.8 0 1 0 -15.6 0zM1951.1 1194.4a7.8 7.8 0 1 0 15.6 0a7.8 7.8 0 1 0 -15.6 0zM1958.2 1190a7.8 7.8 0 1 0 15.6 0a7.8 7.8 0 1 0 -15.6 0zM1965.3 1209a7.8 7.8 0 1 0 15.6 0a7.8 7.8 0 1 0 -15.6 0zM1972.4 1231.1a7.8 7.8 0 1 0 15.6 0a7.8 7.8 0 1 0 -15.6 0zM1979.5 1250.4a7.8 7.8 0 1 0 15.6 0a7.8 7.8 0 1 0 -15.6 0zM1986.6 1279.2a7.8 7.8 0 1 0 15.6 0a7.8 7.8 0 1 0 -15.6 0z" fill="#EC4F5F"/>
<path d="M1583.2 995.9L1590.3 992.7L1597.4 989.8L1604.5 986.9L1611.6 984.7L1618.7 982.7L1625.8 991.2L1632.9 999.5L1640 998.6L1647 993.4L1654.1 994.1L1661.2 997.2L1668.3 998.8L1675.4 1003.1L1682.5 1004.5L1689.6 1008L1696.7 1014.3L1703.7 1016.6L1710.8 1012.2L1717.9 1009L1725 1014.5L1732.1 1017.5L1739.2 1025.5L1746.3 1026L1753.4 1023.5L1760.5 1032.6L1767.5 1040.3L1774.6 1045.7L1781.7 1039L1788.8 1027.3L1795.9 1031.7L1803 1042.3L1810.1 1043.7L1817.2 1048.2L1824.3 1056.5L1831.3 1060.6L1838.4 1065.8L1845.5 1075.5L1852.6 1079L1859.7 1082.7L1866.8 1085.4L1873.9 1092.1L1881 1095.1L1888.1 1099.6L1895.1 1106.2L1902.2 1114.1L1909.3 1119.9L1916.4 1130.2L1923.5 1141.1L1930.6 1156.2L1937.7 1159.1L1944.8 1163.8L1951.8 1169.2L1958.9 1178.4L1966 1185.2L1973.1 1198.7L1980.2 1216L1987.3 1240.9L1994.4 1270.5" fill="none" stroke="#37C05A" stroke-width="1.4"/>
<path d="M1583.2 985.7L1592.5 1001.3L1573.9 1001.3zM1590.3 982.5L1599.6 998.1L1581 998.1zM1597.4 979.6L1606.7 995.2L1588.1 995.2zM1604.5 976.7L1613.8 992.3L1595.2 992.3zM1611.6 974.5L1620.9 990.1L1602.3 990.1zM1618.7 972.5L1628 988.1L1609.4 988.1zM1625.8 981L1635.1 996.6L1616.5 996.6zM1632.9 989.3L1642.2 1004.9L1623.6 1004.9zM1640 988.4L1649.3 1004L1630.7 1004zM1647 983.2L1656.3 998.8L1637.7 998.8zM1654.1 983.9L1663.4 999.5L1644.8 999.5zM1661.2 987L1670.5 1002.6L1651.9 1002.6zM1668.3 988.6L1677.6 1004.2L1659 1004.2zM1675.4 992.9L1684.7 1008.5L1666.1 1008.5zM1682.5 994.3L1691.8 1009.9L1673.2 1009.9zM1689.6 997.8L1698.9 1013.4L1680.3 1013.4zM1696.7 1004.1L1706 1019.7L1687.4 1019.7zM1703.7 1006.4L1713 1022L1694.4 1022zM1710.8 1002L1720.1 1017.6L1701.5 1017.6zM1717.9 998.8L1727.2 1014.4L1708.6 1014.4zM1725 1004.3L1734.3 1019.9L1715.7 1019.9zM1732.1 1007.3L1741.4 1022.9L1722.8 1022.9zM1739.2 1015.3L1748.5 1030.9L1729.9 1030.9zM1746.3 1015.8L1755.6 1031.4L1737 1031.4zM1753.4 1013.3L1762.7 1028.9L1744.1 1028.9zM1760.5 1022.4L1769.8 1038L1751.2 1038zM1767.5 1030.1L1776.8 1045.7L1758.2 1045.7zM1774.6 1035.5L1783.9 1051.1L1765.3 1051.1zM1781.7 1028.8L1791 1044.4L1772.4 1044.4zM1788.8 1017.1L1798.1 1032.7L1779.5 1032.7zM1795.9 1021.5L1805.2 1037.1L1786.6 1037.1zM1803 1032.1L1812.3 1047.7L1793.7 1047.7zM1810.1 1033.5L1819.4 1049.1L1800.8 1049.1zM1817.2 1038L1826.5 1053.6L1807.9 1053.6zM1824.3 1046.3L1833.6 1061.9L1815 1061.9zM1831.3 1050.4L1840.6 1066L1822 1066zM1838.4 1055.6L1847.7 1071.2L1829.1 1071.2zM1845.5 1065.3L1854.8 1080.9L1836.2 1080.9zM1852.6 1068.8L1861.9 1084.4L1843.3 1084.4zM1859.7 1072.5L1869 1088.1L1850.4 1088.1zM1866.8 1075.2L1876.1 1090.8L1857.5 1090.8zM1873.9 1081.9L1883.2 1097.5L1864.6 1097.5zM1881 1084.9L1890.3 1100.5L1871.7 1100.5zM1888.1 1089.4L1897.4 1105L1878.8 1105zM1895.1 1096L1904.4 1111.6L1885.8 1111.6zM1902.2 1103.9L1911.5 1119.5L1892.9 1119.5zM1909.3 1109.7L1918.6 1125.3L1900 1125.3zM1916.4 1120L1925.7 1135.6L1907.1 1135.6zM1923.5 1130.9L1932.8 1146.5L1914.2 1146.5zM1930.6 1146L1939.9 1161.6L1921.3 1161.6zM1937.7 1148.9L1947 1164.5L1928.4 1164.5zM1944.8 1153.6L1954.1 1169.2L1935.5 1169.2zM1951.8 1159L1961.1 1174.6L1942.5 1174.6zM1958.9 1168.2L1968.2 1183.8L1949.6 1183.8zM1966 1175L1975.3 1190.6L1956.7 1190.6zM1973.1 1188.5L1982.4 1204.1L1963.8 1204.1zM1980.2 1205.8L1989.5 1221.4L1970.9 1221.4zM1987.3 1230.7L1996.6 1246.3L1978 1246.3zM1994.4 1260.3L2003.7 1275.9L1985.1 1275.9z" fill="#37C05A"/>
<path d="M1583.2 991.7L1590.3 983L1597.4 985.4L1604.5 988L1611.6 989.6L1618.7 990.3L1625.8 990.8L1632.9 990.7L1640 996.2L1647 996.2L1654.1 998.1L1661.2 999.5L1668.3 1004.1L1675.4 1003.3L1682.5 1005.5L1689.6 1013.7L1696.7 1021.6L1703.7 1020.7L1710.8 1014.8L1717.9 1012.3L1725 1017.1L1732.1 1023.2L1739.2 1031.7L1746.3 1032.4L1753.4 1033.1L1760.5 1035.9L1767.5 1041.9L1774.6 1038L1781.7 1035.9L1788.8 1033.1L1795.9 1039.8L1803 1045.8L1810.1 1050.8L1817.2 1054.8L1824.3 1059.9L1831.3 1063.9L1838.4 1074.5L1845.5 1082.1L1852.6 1087.1L1859.7 1090.4L1866.8 1090.7L1873.9 1095.8L1881 1100.8L1888.1 1107.1L1895.1 1112.6L1902.2 1117.8L1909.3 1126.7L1916.4 1131.6L1923.5 1145.8L1930.6 1156.8L1937.7 1166.9L1944.8 1170.4L1951.8 1170L1958.9 1174.2L1966 1176.6L1973.1 1191.4L1980.2 1207.7L1987.3 1233.3L1994.4 1260.4" fill="none" stroke="#6A6FC4" stroke-width="1.4"/>
<path d="M1573.9 986.3L1592.5 986.3L1583.2 1003zM1581 977.6L1599.6 977.6L1590.3 994.3zM1588.1 980L1606.7 980L1597.4 996.7zM1595.2 982.6L1613.8 982.6L1604.5 999.3zM1602.3 984.2L1620.9 984.2L1611.6 1000.9zM1609.4 984.9L1628 984.9L1618.7 1001.6zM1616.5 985.4L1635.1 985.4L1625.8 1002.1zM1623.6 985.3L1642.2 985.3L1632.9 1002zM1630.7 990.8L1649.3 990.8L1640 1007.5zM1637.7 990.8L1656.3 990.8L1647 1007.5zM1644.8 992.7L1663.4 992.7L1654.1 1009.4zM1651.9 994.1L1670.5 994.1L1661.2 1010.8zM1659 998.7L1677.6 998.7L1668.3 1015.4zM1666.1 997.9L1684.7 997.9L1675.4 1014.6zM1673.2 1000.1L1691.8 1000.1L1682.5 1016.8zM1680.3 1008.3L1698.9 1008.3L1689.6 1025zM1687.4 1016.2L1706 1016.2L1696.7 1032.9zM1694.4 1015.3L1713 1015.3L1703.7 1032zM1701.5 1009.4L1720.1 1009.4L1710.8 1026.1zM1708.6 1006.9L1727.2 1006.9L1717.9 1023.6zM1715.7 1011.7L1734.3 1011.7L1725 1028.4zM1722.8 1017.8L1741.4 1017.8L1732.1 1034.5zM1729.9 1026.3L1748.5 1026.3L1739.2 1043zM1737 1027L1755.6 1027L1746.3 1043.7zM1744.1 1027.7L1762.7 1027.7L1753.4 1044.4zM1751.2 1030.5L1769.8 1030.5L1760.5 1047.2zM1758.2 1036.5L1776.8 1036.5L1767.5 1053.2zM1765.3 1032.6L1783.9 1032.6L1774.6 1049.3zM1772.4 1030.5L1791 1030.5L1781.7 1047.2zM1779.5 1027.7L1798.1 1027.7L1788.8 1044.4zM1786.6 1034.4L1805.2 1034.4L1795.9 1051.1zM1793.7 1040.4L1812.3 1040.4L1803 1057.1zM1800.8 1045.4L1819.4 1045.4L1810.1 1062.1zM1807.9 1049.4L1826.5 1049.4L1817.2 1066.1zM1815 1054.5L1833.6 1054.5L1824.3 1071.2zM1822 1058.5L1840.6 1058.5L1831.3 1075.2zM1829.1 1069.1L1847.7 1069.1L1838.4 1085.8zM1836.2 1076.7L1854.8 1076.7L1845.5 1093.4zM1843.3 1081.7L1861.9 1081.7L1852.6 1098.4zM1850.4 1085L1869 1085L1859.7 1101.7zM1857.5 1085.3L1876.1 1085.3L1866.8 1102zM1864.6 1090.4L1883.2 1090.4L1873.9 1107.1zM1871.7 1095.4L1890.3 1095.4L1881 1112.1zM1878.8 1101.7L1897.4 1101.7L1888.1 1118.4zM1885.8 1107.2L1904.4 1107.2L1895.1 1123.9zM1892.9 1112.4L1911.5 1112.4L1902.2 1129.1zM1900 1121.3L1918.6 1121.3L1909.3 1138zM1907.1 1126.2L1925.7 1126.2L1916.4 1142.9zM1914.2 1140.4L1932.8 1140.4L1923.5 1157.1zM1921.3 1151.4L1939.9 1151.4L1930.6 1168.1zM1928.4 1161.5L1947 1161.5L1937.7 1178.2zM1935.5 1165L1954.1 1165L1944.8 1181.7zM1942.5 1164.6L1961.1 1164.6L1951.8 1181.3zM1949.6 1168.8L1968.2 1168.8L1958.9 1185.5zM1956.7 1171.2L1975.3 1171.2L1966 1187.9zM1963.8 1186L1982.4 1186L1973.1 1202.7zM1970.9 1202.3L1989.5 1202.3L1980.2 1219zM1978 1227.9L1996.6 1227.9L1987.3 1244.6zM1985.1 1255L2003.7 1255L1994.4 1271.7z" fill="#6A6FC4"/>
<path d="M1582.9 995.2L1591.1 983.5L1597.8 992L1604.6 999.9L1611.6 989.3L1619.3 989.3L1626.3 1009.3L1633.3 1005.7L1640.4 1009.3L1647.4 1006.9L1654.5 1002.2L1661.5 1006.9L1668.5 1028L1676.2 1010.4L1682.6 1016.3L1689.6 1023.3L1697.3 1031.6L1704.3 1025.7L1711.3 1028L1718.4 1022.2L1726 1030.4L1732.5 1039.8L1739.5 1036.2L1746.5 1053.8L1754.2 1038.6L1761.2 1046.8L1768.2 1066.7L1775.3 1063.2L1782.3 1060.9L1789.4 1043.3L1796.4 1069.1L1802.9 1056.9L1810 1072L1816.9 1085.9L1824.5 1080L1831.9 1078.4L1839.5 1101L1846.5 1104L1853.4 1109.6L1859.9 1105.3L1867.4 1111.7L1874.5 1122L1881.4 1131.1L1888.9 1122.5L1897.5 1137.5L1906.1 1142.9L1911 1148L1916.9 1154.7L1924.4 1169.8L1933 1187L1940 1190L1946.5 1194L1953.5 1191.3L1960.5 1218.5L1967.4 1202.4L1974 1234.1L1981.1 1254.2L1988.1 1272.9L1995.2 1301" fill="none" stroke="#FD9D38" stroke-width="1.4"/>
<path d="M1582.9 984.9L1592.2 995.2L1582.9 1005.5L1573.6 995.2zM1591.1 973.2L1600.4 983.5L1591.1 993.8L1581.8 983.5zM1597.8 981.7L1607.1 992L1597.8 1002.3L1588.5 992zM1604.6 989.6L1613.9 999.9L1604.6 1010.2L1595.3 999.9zM1611.6 979L1620.9 989.3L1611.6 999.6L1602.3 989.3zM1619.3 979L1628.6 989.3L1619.3 999.6L1610 989.3zM1626.3 999L1635.6 1009.3L1626.3 1019.6L1617 1009.3zM1633.3 995.4L1642.6 1005.7L1633.3 1016L1624 1005.7zM1640.4 999L1649.7 1009.3L1640.4 1019.6L1631.1 1009.3zM1647.4 996.6L1656.7 1006.9L1647.4 1017.2L1638.1 1006.9zM1654.5 991.9L1663.8 1002.2L1654.5 1012.5L1645.2 1002.2zM1661.5 996.6L1670.8 1006.9L1661.5 1017.2L1652.2 1006.9zM1668.5 1017.7L1677.8 1028L1668.5 1038.3L1659.2 1028zM1676.2 1000.1L1685.5 1010.4L1676.2 1020.7L1666.9 1010.4zM1682.6 1006L1691.9 1016.3L1682.6 1026.6L1673.3 1016.3zM1689.6 1013L1698.9 1023.3L1689.6 1033.6L1680.3 1023.3zM1697.3 1021.3L1706.6 1031.6L1697.3 1041.9L1688 1031.6zM1704.3 1015.4L1713.6 1025.7L1704.3 1036L1695 1025.7zM1711.3 1017.7L1720.6 1028L1711.3 1038.3L1702 1028zM1718.4 1011.9L1727.7 1022.2L1718.4 1032.5L1709.1 1022.2zM1726 1020.1L1735.3 1030.4L1726 1040.7L1716.7 1030.4zM1732.5 1029.5L1741.8 1039.8L1732.5 1050.1L1723.2 1039.8zM1739.5 1025.9L1748.8 1036.2L1739.5 1046.5L1730.2 1036.2zM1746.5 1043.5L1755.8 1053.8L1746.5 1064.1L1737.2 1053.8zM1754.2 1028.3L1763.5 1038.6L1754.2 1048.9L1744.9 1038.6zM1761.2 1036.5L1770.5 1046.8L1761.2 1057.1L1751.9 1046.8zM1768.2 1056.4L1777.5 1066.7L1768.2 1077L1758.9 1066.7zM1775.3 1052.9L1784.6 1063.2L1775.3 1073.5L1766 1063.2zM1782.3 1050.6L1791.6 1060.9L1782.3 1071.2L1773 1060.9zM1789.4 1033L1798.7 1043.3L1789.4 1053.6L1780.1 1043.3zM1796.4 1058.8L1805.7 1069.1L1796.4 1079.4L1787.1 1069.1zM1802.9 1046.6L1812.2 1056.9L1802.9 1067.2L1793.6 1056.9zM1810 1061.7L1819.3 1072L1810 1082.3L1800.7 1072zM1816.9 1075.6L1826.2 1085.9L1816.9 1096.2L1807.6 1085.9zM1824.5 1069.7L1833.8 1080L1824.5 1090.3L1815.2 1080zM1831.9 1068.1L1841.2 1078.4L1831.9 1088.7L1822.6 1078.4zM1839.5 1090.7L1848.8 1101L1839.5 1111.3L1830.2 1101zM1846.5 1093.7L1855.8 1104L1846.5 1114.3L1837.2 1104zM1853.4 1099.3L1862.7 1109.6L1853.4 1119.9L1844.1 1109.6zM1859.9 1095L1869.2 1105.3L1859.9 1115.6L1850.6 1105.3zM1867.4 1101.4L1876.7 1111.7L1867.4 1122L1858.1 1111.7zM1874.5 1111.7L1883.8 1122L1874.5 1132.3L1865.2 1122zM1881.4 1120.8L1890.7 1131.1L1881.4 1141.4L1872.1 1131.1zM1888.9 1112.2L1898.2 1122.5L1888.9 1132.8L1879.6 1122.5zM1897.5 1127.2L1906.8 1137.5L1897.5 1147.8L1888.2 1137.5zM1906.1 1132.6L1915.4 1142.9L1906.1 1153.2L1896.8 1142.9zM1911 1137.7L1920.3 1148L1911 1158.3L1901.7 1148zM1916.9 1144.4L1926.2 1154.7L1916.9 1165L1907.6 1154.7zM1924.4 1159.5L1933.7 1169.8L1924.4 1180.1L1915.1 1169.8zM1933 1176.7L1942.3 1187L1933 1197.3L1923.7 1187zM1940 1179.7L1949.3 1190L1940 1200.3L1930.7 1190zM1946.5 1183.7L1955.8 1194L1946.5 1204.3L1937.2 1194zM1953.5 1181L1962.8 1191.3L1953.5 1201.6L1944.2 1191.3zM1960.5 1208.2L1969.8 1218.5L1960.5 1228.8L1951.2 1218.5zM1967.4 1192.1L1976.7 1202.4L1967.4 1212.7L1958.1 1202.4zM1974 1223.8L1983.3 1234.1L1974 1244.4L1964.7 1234.1zM1981.1 1243.9L1990.4 1254.2L1981.1 1264.5L1971.8 1254.2zM1988.1 1262.6L1997.4 1272.9L1988.1 1283.2L1978.8 1272.9zM1995.2 1290.7L2004.5 1301L1995.2 1311.3L1985.9 1301z" fill="#FD9D38"/>
<path d="M1583.2 1680.7L1590.3 1684.5L1597.4 1688.4L1604.5 1690.2L1611.6 1691.6L1618.7 1693L1625.8 1694.4L1632.9 1695.8L1640 1697.2L1647 1698.7L1654.1 1700.1L1661.2 1701.5L1668.3 1703.1L1675.4 1704.9L1682.5 1706.6L1689.6 1708.4L1696.7 1710.2L1703.7 1711.7L1710.8 1713.1L1717.9 1714.5L1725 1715.9L1732.1 1717.3L1739.2 1718.7L1746.3 1720.2L1753.4 1721.6L1760.5 1723L1767.5 1724.4L1774.6 1725.9L1781.7 1727.3L1788.8 1728.7L1795.9 1730.1L1803 1731.2L1810.1 1732.3L1817.2 1733.4L1824.3 1734.4L1831.3 1735.5L1838.4 1735.9L1845.5 1736.2L1852.6 1736.6L1859.7 1737L1866.8 1737.3L1873.9 1737.8L1881 1738.2L1888.1 1738.6L1895.1 1737.9L1902.2 1736.4L1909.3 1735L1916.4 1733L1923.5 1730L1930.6 1726.9L1937.7 1723.9L1944.8 1721.7L1951.8 1719.5L1958.9 1717.2L1966 1715L1973.1 1712.6L1980.2 1710.2L1987.3 1706.3L1994.4 1700.3L2001.5 1691.4L2008.6 1681.5" fill="none" stroke="#04B7F5" stroke-width="1.4"/>
<path d="M1575.9 1673.4h14.6v14.6h-14.6zM1583 1677.2h14.6v14.6h-14.6zM1590.1 1681.1h14.6v14.6h-14.6zM1597.2 1682.9h14.6v14.6h-14.6zM1604.3 1684.3h14.6v14.6h-14.6zM1611.4 1685.7h14.6v14.6h-14.6zM1618.5 1687.1h14.6v14.6h-14.6zM1625.6 1688.5h14.6v14.6h-14.6zM1632.7 1689.9h14.6v14.6h-14.6zM1639.7 1691.4h14.6v14.6h-14.6zM1646.8 1692.8h14.6v14.6h-14.6zM1653.9 1694.2h14.6v14.6h-14.6zM1661 1695.8h14.6v14.6h-14.6zM1668.1 1697.6h14.6v14.6h-14.6zM1675.2 1699.3h14.6v14.6h-14.6zM1682.3 1701.1h14.6v14.6h-14.6zM1689.4 1702.9h14.6v14.6h-14.6zM1696.4 1704.4h14.6v14.6h-14.6zM1703.5 1705.8h14.6v14.6h-14.6zM1710.6 1707.2h14.6v14.6h-14.6zM1717.7 1708.6h14.6v14.6h-14.6zM1724.8 1710h14.6v14.6h-14.6zM1731.9 1711.4h14.6v14.6h-14.6zM1739 1712.9h14.6v14.6h-14.6zM1746.1 1714.3h14.6v14.6h-14.6zM1753.2 1715.7h14.6v14.6h-14.6zM1760.2 1717.1h14.6v14.6h-14.6zM1767.3 1718.6h14.6v14.6h-14.6zM1774.4 1720h14.6v14.6h-14.6zM1781.5 1721.4h14.6v14.6h-14.6zM1788.6 1722.8h14.6v14.6h-14.6zM1795.7 1723.9h14.6v14.6h-14.6zM1802.8 1725h14.6v14.6h-14.6zM1809.9 1726.1h14.6v14.6h-14.6zM1817 1727.1h14.6v14.6h-14.6zM1824 1728.2h14.6v14.6h-14.6zM1831.1 1728.6h14.6v14.6h-14.6zM1838.2 1728.9h14.6v14.6h-14.6zM1845.3 1729.3h14.6v14.6h-14.6zM1852.4 1729.7h14.6v14.6h-14.6zM1859.5 1730h14.6v14.6h-14.6zM1866.6 1730.5h14.6v14.6h-14.6zM1873.7 1730.9h14.6v14.6h-14.6zM1880.8 1731.3h14.6v14.6h-14.6zM1887.8 1730.6h14.6v14.6h-14.6zM1894.9 1729.1h14.6v14.6h-14.6zM1902 1727.7h14.6v14.6h-14.6zM1909.1 1725.7h14.6v14.6h-14.6zM1916.2 1722.7h14.6v14.6h-14.6zM1923.3 1719.6h14.6v14.6h-14.6zM1930.4 1716.6h14.6v14.6h-14.6zM1937.5 1714.4h14.6v14.6h-14.6zM1944.5 1712.2h14.6v14.6h-14.6zM1951.6 1709.9h14.6v14.6h-14.6zM1958.7 1707.7h14.6v14.6h-14.6zM1965.8 1705.3h14.6v14.6h-14.6zM1972.9 1702.9h14.6v14.6h-14.6zM1980 1699h14.6v14.6h-14.6zM1987.1 1693h14.6v14.6h-14.6zM1994.2 1684.1h14.6v14.6h-14.6zM2001.3 1674.2h14.6v14.6h-14.6z" fill="#04B7F5"/>
<path d="M1583.2 1680.7L1590.3 1678.7L1597.4 1677.6L1604.5 1672.2L1611.6 1672.1L1618.7 1670.2L1625.8 1671.8L1632.9 1669.8L1640 1669.3L1647 1662.7L1654.1 1663L1661.2 1658.8L1668.3 1658.5L1675.4 1659.2L1682.5 1655.2L1689.6 1655.2L1696.7 1656.8L1703.7 1654.9L1710.8 1651.5L1717.9 1652.3L1725 1652.3L1732.1 1646L1739.2 1649.4L1746.3 1647.4L1753.4 1643.8L1760.5 1641.3L1767.5 1645.2L1774.6 1641.5L1781.7 1640.1L1788.8 1640.1L1795.9 1644.6L1803 1641.9L1810.1 1641.3L1817.2 1639L1824.3 1636.1L1831.3 1636.9L1838.4 1632L1845.5 1631.6L1852.6 1631.8L1859.7 1629.2L1866.8 1629.2L1873.9 1626.1L1881 1625.5L1888.1 1620.1L1895.1 1619.8L1902.2 1618.5L1909.3 1615.4L1916.4 1614.6L1923.5 1612L1930.6 1611.3L1937.7 1609.7L1944.8 1604.1L1951.8 1600.3L1958.9 1595.4L1966 1591.6L1973.1 1590.6L1980.2 1583.9L1987.3 1574.6L1994.4 1557.8L2001.5 1542L2008.6 1515.9" fill="none" stroke="#EC4F5F" stroke-width="1.4"/>
<path d="M1575.4 1680.7a7.8 7.8 0 1 0 15.6 0a7.8 7.8 0 1 0 -15.6 0zM1582.5 1678.7a7.8 7.8 0 1 0 15.6 0a7.8 7.8 0 1 0 -15.6 0zM1589.6 1677.6a7.8 7.8 0 1 0 15.6 0a7.8 7.8 0 1 0 -15.6 0zM1596.7 1672.2a7.8 7.8 0 1 0 15.6 0a7.8 7.8 0 1 0 -15.6 0zM1603.8 1672.1a7.8 7.8 0 1 0 15.6 0a7.8 7.8 0 1 0 -15.6 0zM1610.9 1670.2a7.8 7.8 0 1 0 15.6 0a7.8 7.8 0 1 0 -15.6 0zM1618 1671.8a7.8 7.8 0 1 0 15.6 0a7.8 7.8 0 1 0 -15.6 0zM1625.1 1669.8a7.8 7.8 0 1 0 15.6 0a7.8 7.8 0 1 0 -15.6 0zM1632.2 1669.3a7.8 7.8 0 1 0 15.6 0a7.8 7.8 0 1 0 -15.6 0zM1639.2 1662.7a7.8 7.8 0 1 0 15.6 0a7.8 7.8 0 1 0 -15.6 0zM1646.3 1663a7.8 7.8 0 1 0 15.6 0a7.8 7.8 0 1 0 -15.6 0zM1653.4 1658.8a7.8 7.8 0 1 0 15.6 0a7.8 7.8 0 1 0 -15.6 0zM1660.5 1658.5a7.8 7.8 0 1 0 15.6 0a7.8 7.8 0 1 0 -15.6 0zM1667.6 1659.2a7.8 7.8 0 1 0 15.6 0a7.8 7.8 0 1 0 -15.6 0zM1674.7 1655.2a7.8 7.8 0 1 0 15.6 0a7.8 7.8 0 1 0 -15.6 0zM1681.8 1655.2a7.8 7.8 0 1 0 15.6 0a7.8 7.8 0 1 0 -15.6 0zM1688.9 1656.8a7.8 7.8 0 1 0 15.6 0a7.8 7.8 0 1 0 -15.6 0zM1695.9 1654.9a7.8 7.8 0 1 0 15.6 0a7.8 7.8 0 1 0 -15.6 0zM1703 1651.5a7.8 7.8 0 1 0 15.6 0a7.8 7.8 0 1 0 -15.6 0zM1710.1 1652.3a7.8 7.8 0 1 0 15.6 0a7.8 7.8 0 1 0 -15.6 0zM1717.2 1652.3a7.8 7.8 0 1 0 15.6 0a7.8 7.8 0 1 0 -15.6 0zM1724.3 1646a7.8 7.8 0 1 0 15.6 0a7.8 7.8 0 1 0 -15.6 0zM1731.4 1649.4a7.8 7.8 0 1 0 15.6 0a7.8 7.8 0 1 0 -15.6 0zM1738.5 1647.4a7.8 7.8 0 1 0 15.6 0a7.8 7.8 0 1 0 -15.6 0zM1745.6 1643.8a7.8 7.8 0 1 0 15.6 0a7.8 7.8 0 1 0 -15.6 0zM1752.7 1641.3a7.8 7.8 0 1 0 15.6 0a7.8 7.8 0 1 0 -15.6 0zM1759.7 1645.2a7.8 7.8 0 1 0 15.6 0a7.8 7.8 0 1 0 -15.6 0zM1766.8 1641.5a7.8 7.8 0 1 0 15.6 0a7.8 7.8 0 1 0 -15.6 0zM1773.9 1640.1a7.8 7.8 0 1 0 15.6 0a7.8 7.8 0 1 0 -15.6 0zM1781 1640.1a7.8 7.8 0 1 0 15.6 0a7.8 7.8 0 1 0 -15.6 0zM1788.1 1644.6a7.8 7.8 0 1 0 15.6 0a7.8 7.8 0 1 0 -15.6 0zM1795.2 1641.9a7.8 7.8 0 1 0 15.6 0a7.8 7.8 0 1 0 -15.6 0zM1802.3 1641.3a7.8 7.8 0 1 0 15.6 0a7.8 7.8 0 1 0 -15.6 0zM1809.4 1639a7.8 7.8 0 1 0 15.6 0a7.8 7.8 0 1 0 -15.6 0zM1816.5 1636.1a7.8 7.8 0 1 0 15.6 0a7.8 7.8 0 1 0 -15.6 0zM1823.5 1636.9a7.8 7.8 0 1 0 15.6 0a7.8 7.8 0 1 0 -15.6 0zM1830.6 1632a7.8 7.8 0 1 0 15.6 0a7.8 7.8 0 1 0 -15.6 0zM1837.7 1631.6a7.8 7.8 0 1 0 15.6 0a7.8 7.8 0 1 0 -15.6 0zM1844.8 1631.8a7.8 7.8 0 1 0 15.6 0a7.8 7.8 0 1 0 -15.6 0zM1851.9 1629.2a7.8 7.8 0 1 0 15.6 0a7.8 7.8 0 1 0 -15.6 0zM1859 1629.2a7.8 7.8 0 1 0 15.6 0a7.8 7.8 0 1 0 -15.6 0zM1866.1 1626.1a7.8 7.8 0 1 0 15.6 0a7.8 7.8 0 1 0 -15.6 0zM1873.2 1625.5a7.8 7.8 0 1 0 15.6 0a7.8 7.8 0 1 0 -15.6 0zM1880.3 1620.1a7.8 7.8 0 1 0 15.6 0a7.8 7.8 0 1 0 -15.6 0zM1887.3 1619.8a7.8 7.8 0 1 0 15.6 0a7.8 7.8 0 1 0 -15.6 0zM1894.4 1618.5a7.8 7.8 0 1 0 15.6 0a7.8 7.8 0 1 0 -15.6 0zM1901.5 1615.4a7.8 7.8 0 1 0 15.6 0a7.8 7.8 0 1 0 -15.6 0zM1908.6 1614.6a7.8 7.8 0 1 0 15.6 0a7.8 7.8 0 1 0 -15.6 0zM1915.7 1612a7.8 7.8 0 1 0 15.6 0a7.8 7.8 0 1 0 -15.6 0zM1922.8 1611.3a7.8 7.8 0 1 0 15.6 0a7.8 7.8 0 1 0 -15.6 0zM1929.9 1609.7a7.8 7.8 0 1 0 15.6 0a7.8 7.8 0 1 0 -15.6 0zM1937 1604.1a7.8 7.8 0 1 0 15.6 0a7.8 7.8 0 1 0 -15.6 0zM1944 1600.3a7.8 7.8 0 1 0 15.6 0a7.8 7.8 0 1 0 -15.6 0zM1951.1 1595.4a7.8 7.8 0 1 0 15.6 0a7.8 7.8 0 1 0 -15.6 0zM1958.2 1591.6a7.8 7.8 0 1 0 15.6 0a7.8 7.8 0 1 0 -15.6 0zM1965.3 1590.6a7.8 7.8 0 1 0 15.6 0a7.8 7.8 0 1 0 -15.6 0zM1972.4 1583.9a7.8 7.8 0 1 0 15.6 0a7.8 7.8 0 1 0 -15.6 0zM1979.5 1574.6a7.8 7.8 0 1 0 15.6 0a7.8 7.8 0 1 0 -15.6 0zM1986.6 1557.8a7.8 7.8 0 1 0 15.6 0a7.8 7.8 0 1 0 -15.6 0zM1993.7 1542a7.8 7.8 0 1 0 15.6 0a7.8 7.8 0 1 0 -15.6 0zM2000.8 1515.9a7.8 7.8 0 1 0 15.6 0a7.8 7.8 0 1 0 -15.6 0z" fill="#EC4F5F"/>
<path d="M1583.2 1680.7L1590.3 1679.9L1597.4 1679.1L1604.5 1678.1L1611.6 1677L1618.7 1676L1625.8 1674.9L1632.9 1673.9L1640 1672.8L1647 1671.7L1654.1 1670.7L1661.2 1669.6L1668.3 1668.5L1675.4 1667.4L1682.5 1666.4L1689.6 1665.3L1696.7 1664.2L1703.7 1663.5L1710.8 1662.8L1717.9 1662.1L1725 1661.4L1732.1 1660.6L1739.2 1659.6L1746.3 1658.5L1753.4 1657.4L1760.5 1656.4L1767.5 1655.4L1774.6 1654.7L1781.7 1654L1788.8 1653.3L1795.9 1652.6L1803 1651.7L1810.1 1650.6L1817.2 1649.5L1824.3 1648.5L1831.3 1647.4L1838.4 1646L1845.5 1644.6L1852.6 1643.2L1859.7 1641.8L1866.8 1640.3L1873.9 1638.9L1881 1637.5L1888.1 1636L1895.1 1634.6L1902.2 1632.5L1909.3 1630.1L1916.4 1627.6L1923.5 1625.1L1930.6 1622.6L1937.7 1618.5L1944.8 1614.2L1951.8 1610L1958.9 1605.7L1966 1601.1L1973.1 1595.5L1980.2 1589.8L1987.3 1580.7L1994.4 1566L2001.5 1544.2L2008.6 1522.8" fill="none" stroke="#37C05A" stroke-width="1.4"/>
<path d="M1583.2 1670.5L1592.5 1686.1L1573.9 1686.1zM1590.3 1669.7L1599.6 1685.3L1581 1685.3zM1597.4 1668.9L1606.7 1684.5L1588.1 1684.5zM1604.5 1667.9L1613.8 1683.5L1595.2 1683.5zM1611.6 1666.8L1620.9 1682.4L1602.3 1682.4zM1618.7 1665.8L1628 1681.4L1609.4 1681.4zM1625.8 1664.7L1635.1 1680.3L1616.5 1680.3zM1632.9 1663.7L1642.2 1679.3L1623.6 1679.3zM1640 1662.6L1649.3 1678.2L1630.7 1678.2zM1647 1661.5L1656.3 1677.1L1637.7 1677.1zM1654.1 1660.5L1663.4 1676.1L1644.8 1676.1zM1661.2 1659.4L1670.5 1675L1651.9 1675zM1668.3 1658.3L1677.6 1673.9L1659 1673.9zM1675.4 1657.2L1684.7 1672.8L1666.1 1672.8zM1682.5 1656.2L1691.8 1671.8L1673.2 1671.8zM1689.6 1655.1L1698.9 1670.7L1680.3 1670.7zM1696.7 1654L1706 1669.6L1687.4 1669.6zM1703.7 1653.3L1713 1668.9L1694.4 1668.9zM1710.8 1652.6L1720.1 1668.2L1701.5 1668.2zM1717.9 1651.9L1727.2 1667.5L1708.6 1667.5zM1725 1651.2L1734.3 1666.8L1715.7 1666.8zM1732.1 1650.4L1741.4 1666L1722.8 1666zM1739.2 1649.4L1748.5 1665L1729.9 1665zM1746.3 1648.3L1755.6 1663.9L1737 1663.9zM1753.4 1647.2L1762.7 1662.8L1744.1 1662.8zM1760.5 1646.2L1769.8 1661.8L1751.2 1661.8zM1767.5 1645.2L1776.8 1660.8L1758.2 1660.8zM1774.6 1644.5L1783.9 1660.1L1765.3 1660.1zM1781.7 1643.8L1791 1659.4L1772.4 1659.4zM1788.8 1643.1L1798.1 1658.7L1779.5 1658.7zM1795.9 1642.4L1805.2 1658L1786.6 1658zM1803 1641.5L1812.3 1657.1L1793.7 1657.1zM1810.1 1640.4L1819.4 1656L1800.8 1656zM1817.2 1639.3L1826.5 1654.9L1807.9 1654.9zM1824.3 1638.3L1833.6 1653.9L1815 1653.9zM1831.3 1637.2L1840.6 1652.8L1822 1652.8zM1838.4 1635.8L1847.7 1651.4L1829.1 1651.4zM1845.5 1634.4L1854.8 1650L1836.2 1650zM1852.6 1633L1861.9 1648.6L1843.3 1648.6zM1859.7 1631.6L1869 1647.2L1850.4 1647.2zM1866.8 1630.1L1876.1 1645.7L1857.5 1645.7zM1873.9 1628.7L1883.2 1644.3L1864.6 1644.3zM1881 1627.3L1890.3 1642.9L1871.7 1642.9zM1888.1 1625.8L1897.4 1641.4L1878.8 1641.4zM1895.1 1624.4L1904.4 1640L1885.8 1640zM1902.2 1622.3L1911.5 1637.9L1892.9 1637.9zM1909.3 1619.9L1918.6 1635.5L1900 1635.5zM1916.4 1617.4L1925.7 1633L1907.1 1633zM1923.5 1614.9L1932.8 1630.5L1914.2 1630.5zM1930.6 1612.4L1939.9 1628L1921.3 1628zM1937.7 1608.3L1947 1623.9L1928.4 1623.9zM1944.8 1604L1954.1 1619.6L1935.5 1619.6zM1951.8 1599.8L1961.1 1615.4L1942.5 1615.4zM1958.9 1595.5L1968.2 1611.1L1949.6 1611.1zM1966 1590.9L1975.3 1606.5L1956.7 1606.5zM1973.1 1585.3L1982.4 1600.9L1963.8 1600.9zM1980.2 1579.6L1989.5 1595.2L1970.9 1595.2zM1987.3 1570.5L1996.6 1586.1L1978 1586.1zM1994.4 1555.8L2003.7 1571.4L1985.1 1571.4zM2001.5 1534L2010.8 1549.6L1992.2 1549.6zM2008.6 1512.6L2017.9 1528.2L1999.3 1528.2z" fill="#37C05A"/>
<path d="M1583.2 1680.7L1590.3 1684.5L1597.4 1687.8L1604.5 1685.3L1611.6 1682.5L1618.7 1674.5L1625.8 1671.7L1632.9 1667.6L1640 1666.4L1647 1664L1654.1 1663.1L1661.2 1663.5L1668.3 1664.7L1675.4 1661.5L1682.5 1658.2L1689.6 1656.9L1696.7 1657.2L1703.7 1653L1710.8 1649.4L1717.9 1651.9L1725 1648.5L1732.1 1643.4L1739.2 1642.5L1746.3 1641.9L1753.4 1646.4L1760.5 1640.6L1767.5 1642.7L1774.6 1643.3L1781.7 1636.3L1788.8 1637L1795.9 1636.1L1803 1637.3L1810.1 1631.5L1817.2 1630.5L1824.3 1629L1831.3 1626.4L1838.4 1628L1845.5 1626.8L1852.6 1622.4L1859.7 1617.9L1866.8 1620L1873.9 1618.7L1881 1616.8L1888.1 1613.4L1895.1 1615L1902.2 1611L1909.3 1607.2L1916.4 1603.4L1923.5 1598L1930.6 1595.8L1937.7 1592.3L1944.8 1586L1951.8 1579.1L1958.9 1577.8L1966 1573.6L1973.1 1564.6L1980.2 1561L1987.3 1548.1L1994.4 1532.2L2001.5 1519.2L2008.6 1481.7" fill="none" stroke="#6A6FC4" stroke-width="1.4"/>
<path d="M1573.9 1675.3L1592.5 1675.3L1583.2 1692zM1581 1679.1L1599.6 1679.1L1590.3 1695.8zM1588.1 1682.4L1606.7 1682.4L1597.4 1699.1zM1595.2 1679.9L1613.8 1679.9L1604.5 1696.6zM1602.3 1677.1L1620.9 1677.1L1611.6 1693.8zM1609.4 1669.1L1628 1669.1L1618.7 1685.8zM1616.5 1666.3L1635.1 1666.3L1625.8 1683zM1623.6 1662.2L1642.2 1662.2L1632.9 1678.9zM1630.7 1661L1649.3 1661L1640 1677.7zM1637.7 1658.6L1656.3 1658.6L1647 1675.3zM1644.8 1657.7L1663.4 1657.7L1654.1 1674.4zM1651.9 1658.1L1670.5 1658.1L1661.2 1674.8zM1659 1659.3L1677.6 1659.3L1668.3 1676zM1666.1 1656.1L1684.7 1656.1L1675.4 1672.8zM1673.2 1652.8L1691.8 1652.8L1682.5 1669.5zM1680.3 1651.5L1698.9 1651.5L1689.6 1668.2zM1687.4 1651.8L1706 1651.8L1696.7 1668.5zM1694.4 1647.6L1713 1647.6L1703.7 1664.3zM1701.5 1644L1720.1 1644L1710.8 1660.7zM1708.6 1646.5L1727.2 1646.5L1717.9 1663.2zM1715.7 1643.1L1734.3 1643.1L1725 1659.8zM1722.8 1638L1741.4 1638L1732.1 1654.7zM1729.9 1637.1L1748.5 1637.1L1739.2 1653.8zM1737 1636.5L1755.6 1636.5L1746.3 1653.2zM1744.1 1641L1762.7 1641L1753.4 1657.7zM1751.2 1635.2L1769.8 1635.2L1760.5 1651.9zM1758.2 1637.3L1776.8 1637.3L1767.5 1654zM1765.3 1637.9L1783.9 1637.9L1774.6 1654.6zM1772.4 1630.9L1791 1630.9L1781.7 1647.6zM1779.5 1631.6L1798.1 1631.6L1788.8 1648.3zM1786.6 1630.7L1805.2 1630.7L1795.9 1647.4zM1793.7 1631.9L1812.3 1631.9L1803 1648.6zM1800.8 1626.1L1819.4 1626.1L1810.1 1642.8zM1807.9 1625.1L1826.5 1625.1L1817.2 1641.8zM1815 1623.6L1833.6 1623.6L1824.3 1640.3zM1822 1621L1840.6 1621L1831.3 1637.7zM1829.1 1622.6L1847.7 1622.6L1838.4 1639.3zM1836.2 1621.4L1854.8 1621.4L1845.5 1638.1zM1843.3 1617L1861.9 1617L1852.6 1633.7zM1850.4 1612.5L1869 1612.5L1859.7 1629.2zM1857.5 1614.6L1876.1 1614.6L1866.8 1631.3zM1864.6 1613.3L1883.2 1613.3L1873.9 1630zM1871.7 1611.4L1890.3 1611.4L1881 1628.1zM1878.8 1608L1897.4 1608L1888.1 1624.7zM1885.8 1609.6L1904.4 1609.6L1895.1 1626.3zM1892.9 1605.6L1911.5 1605.6L1902.2 1622.3zM1900 1601.8L1918.6 1601.8L1909.3 1618.5zM1907.1 1598L1925.7 1598L1916.4 1614.7zM1914.2 1592.6L1932.8 1592.6L1923.5 1609.3zM1921.3 1590.4L1939.9 1590.4L1930.6 1607.1zM1928.4 1586.9L1947 1586.9L1937.7 1603.6zM1935.5 1580.6L1954.1 1580.6L1944.8 1597.3zM1942.5 1573.7L1961.1 1573.7L1951.8 1590.4zM1949.6 1572.4L1968.2 1572.4L1958.9 1589.1zM1956.7 1568.2L1975.3 1568.2L1966 1584.9zM1963.8 1559.2L1982.4 1559.2L1973.1 1575.9zM1970.9 1555.6L1989.5 1555.6L1980.2 1572.3zM1978 1542.7L1996.6 1542.7L1987.3 1559.4zM1985.1 1526.8L2003.7 1526.8L1994.4 1543.5zM1992.2 1513.8L2010.8 1513.8L2001.5 1530.5zM1999.3 1476.3L2017.9 1476.3L2008.6 1493z" fill="#6A6FC4"/>
<path d="M1583.2 1680.7L1592 1685.6L1600 1680L1615.3 1675.7L1630 1665L1651.8 1655.7L1665 1660L1675.1 1657.4L1698.3 1649.1L1708 1645L1718.3 1642.5L1731.6 1650.8L1744.9 1639.1L1754 1636L1764.8 1632.5L1776 1629L1788.1 1625.8L1804.7 1619.2L1814 1616L1824.6 1612.5L1837.9 1625.8L1851.2 1602.6L1864.5 1597.6L1881.1 1592.6L1894.4 1579.3L1904.4 1586L1914.3 1589.3L1921 1580L1931 1566L1944.2 1546.1L1950 1538L1957.5 1529.5L1966 1522L1974.2 1516.2L1981 1506L1987.5 1496.2L1994.1 1476.3L2000.8 1446.4L2009.1 1406.5" fill="none" stroke="#FD9D38" stroke-width="1.4"/>
<path d="M1583.2 1670.4L1592.5 1680.7L1583.2 1691L1573.9 1680.7zM1592 1675.3L1601.3 1685.6L1592 1695.9L1582.7 1685.6zM1600 1669.7L1609.3 1680L1600 1690.3L1590.7 1680zM1615.3 1665.4L1624.6 1675.7L1615.3 1686L1606 1675.7zM1630 1654.7L1639.3 1665L1630 1675.3L1620.7 1665zM1651.8 1645.4L1661.1 1655.7L1651.8 1666L1642.5 1655.7zM1665 1649.7L1674.3 1660L1665 1670.3L1655.7 1660zM1675.1 1647.1L1684.4 1657.4L1675.1 1667.7L1665.8 1657.4zM1698.3 1638.8L1707.6 1649.1L1698.3 1659.4L1689 1649.1zM1708 1634.7L1717.3 1645L1708 1655.3L1698.7 1645zM1718.3 1632.2L1727.6 1642.5L1718.3 1652.8L1709 1642.5zM1731.6 1640.5L1740.9 1650.8L1731.6 1661.1L1722.3 1650.8zM1744.9 1628.8L1754.2 1639.1L1744.9 1649.4L1735.6 1639.1zM1754 1625.7L1763.3 1636L1754 1646.3L1744.7 1636zM1764.8 1622.2L1774.1 1632.5L1764.8 1642.8L1755.5 1632.5zM1776 1618.7L1785.3 1629L1776 1639.3L1766.7 1629zM1788.1 1615.5L1797.4 1625.8L1788.1 1636.1L1778.8 1625.8zM1804.7 1608.9L1814 1619.2L1804.7 1629.5L1795.4 1619.2zM1814 1605.7L1823.3 1616L1814 1626.3L1804.7 1616zM1824.6 1602.2L1833.9 1612.5L1824.6 1622.8L1815.3 1612.5zM1837.9 1615.5L1847.2 1625.8L1837.9 1636.1L1828.6 1625.8zM1851.2 1592.3L1860.5 1602.6L1851.2 1612.9L1841.9 1602.6zM1864.5 1587.3L1873.8 1597.6L1864.5 1607.9L1855.2 1597.6zM1881.1 1582.3L1890.4 1592.6L1881.1 1602.9L1871.8 1592.6zM1894.4 1569L1903.7 1579.3L1894.4 1589.6L1885.1 1579.3zM1904.4 1575.7L1913.7 1586L1904.4 1596.3L1895.1 1586zM1914.3 1579L1923.6 1589.3L1914.3 1599.6L1905 1589.3zM1921 1569.7L1930.3 1580L1921 1590.3L1911.7 1580zM1931 1555.7L1940.3 1566L1931 1576.3L1921.7 1566zM1944.2 1535.8L1953.5 1546.1L1944.2 1556.4L1934.9 1546.1zM1950 1527.7L1959.3 1538L1950 1548.3L1940.7 1538zM1957.5 1519.2L1966.8 1529.5L1957.5 1539.8L1948.2 1529.5zM1966 1511.7L1975.3 1522L1966 1532.3L1956.7 1522zM1974.2 1505.9L1983.5 1516.2L1974.2 1526.5L1964.9 1516.2zM1981 1495.7L1990.3 1506L1981 1516.3L1971.7 1506zM1987.5 1485.9L1996.8 1496.2L1987.5 1506.5L1978.2 1496.2zM1994.1 1466L2003.4 1476.3L1994.1 1486.6L1984.8 1476.3zM2000.8 1436.1L2010.1 1446.4L2000.8 1456.7L1991.5 1446.4zM2009.1 1396.2L2018.4 1406.5L2009.1 1416.8L1999.8 1406.5z" fill="#FD9D38"/>
<path d="M313.1 988.8H377.6" stroke="#04B7F5" stroke-width="2.2"/>
<path d="M338 981.5h14.6v14.6h-14.6z" fill="#04B7F5"/>
<text transform="translate(383.8 999.2) scale(1 1.045)" font-size="29">(101)</text>
<path d="M313.1 1023.5H377.6" stroke="#EC4F5F" stroke-width="2.2"/>
<path d="M337.5 1023.5a7.8 7.8 0 1 0 15.6 0a7.8 7.8 0 1 0 -15.6 0z" fill="#EC4F5F"/>
<text transform="translate(383.8 1033.9) scale(1 1.045)" font-size="29">(200)</text>
<path d="M313.1 1058H377.6" stroke="#37C05A" stroke-width="2.8"/>
<path d="M345.3 1047.8L354.6 1063.4L336 1063.4z" fill="#37C05A"/>
<text transform="translate(383.8 1068.4) scale(1 1.045)" font-size="29">(121)</text>
<path d="M313.1 1092.5H377.6" stroke="#6A6FC4" stroke-width="2.2"/>
<path d="M336 1087.1L354.6 1087.1L345.3 1103.8z" fill="#6A6FC4"/>
<text transform="translate(383.8 1102.9) scale(1 1.045)" font-size="29">(220)</text>
<path d="M313.1 1127.1H377.6" stroke="#FD9D38" stroke-width="2.2"/>
<path d="M345.3 1116.8L354.6 1127.1L345.3 1137.4L336 1127.1z" fill="#FD9D38"/>
<text transform="translate(383.8 1137.5) scale(1 1.045)" font-size="29">(310)</text>
<path d="M182 1588.6H246" stroke="#04B7F5" stroke-width="2.2"/>
<path d="M206.4 1581.3h14.6v14.6h-14.6z" fill="#04B7F5"/>
<text transform="translate(252.5 1599) scale(1 1.045)" font-size="29">(101)</text>
<path d="M182 1623.5H246" stroke="#EC4F5F" stroke-width="2.2"/>
<path d="M205.9 1623.5a7.8 7.8 0 1 0 15.6 0a7.8 7.8 0 1 0 -15.6 0z" fill="#EC4F5F"/>
<text transform="translate(252.5 1633.9) scale(1 1.045)" font-size="29">(200)</text>
<path d="M182 1657.4H246" stroke="#37C05A" stroke-width="2.8"/>
<path d="M213.7 1647.2L223 1662.8L204.4 1662.8z" fill="#37C05A"/>
<text transform="translate(252.5 1667.8) scale(1 1.045)" font-size="29">(121)</text>
<path d="M182 1692.3H246" stroke="#6A6FC4" stroke-width="2.2"/>
<path d="M204.4 1686.9L223 1686.9L213.7 1703.6z" fill="#6A6FC4"/>
<text transform="translate(252.5 1702.7) scale(1 1.045)" font-size="29">(220)</text>
<path d="M182 1726.5H246" stroke="#FD9D38" stroke-width="2.2"/>
<path d="M213.7 1716.2L223 1726.5L213.7 1736.8L204.4 1726.5z" fill="#FD9D38"/>
<text transform="translate(252.5 1736.9) scale(1 1.045)" font-size="29">(310)</text>
<path d="M888.7 1164.3H951.8" stroke="#04B7F5" stroke-width="2.2"/>
<path d="M912.7 1157h14.6v14.6h-14.6z" fill="#04B7F5"/>
<text transform="translate(958.5 1174.7) scale(1 1.045)" font-size="29">(101)</text>
<path d="M888.7 1198.5H951.8" stroke="#EC4F5F" stroke-width="2.2"/>
<path d="M912.2 1198.5a7.8 7.8 0 1 0 15.6 0a7.8 7.8 0 1 0 -15.6 0z" fill="#EC4F5F"/>
<text transform="translate(958.5 1208.9) scale(1 1.045)" font-size="29">(200)</text>
<path d="M888.7 1232.4H951.8" stroke="#37C05A" stroke-width="2.8"/>
<path d="M920 1222.2L929.3 1237.8L910.7 1237.8z" fill="#37C05A"/>
<text transform="translate(958.5 1242.8) scale(1 1.045)" font-size="29">(121)</text>
<path d="M888.7 1267.3H951.8" stroke="#6A6FC4" stroke-width="2.2"/>
<path d="M910.7 1261.9L929.3 1261.9L920 1278.6z" fill="#6A6FC4"/>
<text transform="translate(958.5 1277.7) scale(1 1.045)" font-size="29">(220)</text>
<path d="M888.7 1302.2H951.8" stroke="#FD9D38" stroke-width="2.2"/>
<path d="M920 1291.9L929.3 1302.2L920 1312.5L910.7 1302.2z" fill="#FD9D38"/>
<text transform="translate(958.5 1312.6) scale(1 1.045)" font-size="29">(310)</text>
<path d="M888.7 1588.6H951.8" stroke="#04B7F5" stroke-width="2.2"/>
<path d="M912.7 1581.3h14.6v14.6h-14.6z" fill="#04B7F5"/>
<text transform="translate(959.1 1599) scale(1 1.045)" font-size="29">(101)</text>
<path d="M888.7 1623.2H951.8" stroke="#EC4F5F" stroke-width="2.2"/>
<path d="M912.2 1623.2a7.8 7.8 0 1 0 15.6 0a7.8 7.8 0 1 0 -15.6 0z" fill="#EC4F5F"/>
<text transform="translate(959.1 1633.6) scale(1 1.045)" font-size="29">(200)</text>
<path d="M888.7 1657.4H951.8" stroke="#37C05A" stroke-width="2.8"/>
<path d="M920 1647.2L929.3 1662.8L910.7 1662.8z" fill="#37C05A"/>
<text transform="translate(959.1 1667.8) scale(1 1.045)" font-size="29">(121)</text>
<path d="M888.7 1692.3H951.8" stroke="#6A6FC4" stroke-width="2.2"/>
<path d="M910.7 1686.9L929.3 1686.9L920 1703.6z" fill="#6A6FC4"/>
<text transform="translate(959.1 1702.7) scale(1 1.045)" font-size="29">(220)</text>
<path d="M888.7 1726.5H951.8" stroke="#FD9D38" stroke-width="2.2"/>
<path d="M920 1716.2L929.3 1726.5L920 1736.8L910.7 1726.5z" fill="#FD9D38"/>
<text transform="translate(959.1 1736.9) scale(1 1.045)" font-size="29">(310)</text>
<path d="M1592 1164.3H1655.1" stroke="#04B7F5" stroke-width="2.2"/>
<path d="M1616.3 1157h14.6v14.6h-14.6z" fill="#04B7F5"/>
<text transform="translate(1662.4 1174.7) scale(1 1.045)" font-size="29">(101)</text>
<path d="M1592 1199.2H1655.1" stroke="#EC4F5F" stroke-width="2.2"/>
<path d="M1615.8 1199.2a7.8 7.8 0 1 0 15.6 0a7.8 7.8 0 1 0 -15.6 0z" fill="#EC4F5F"/>
<text transform="translate(1662.4 1209.6) scale(1 1.045)" font-size="29">(200)</text>
<path d="M1592 1233.4H1655.1" stroke="#37C05A" stroke-width="2.8"/>
<path d="M1623.6 1223.2L1632.9 1238.8L1614.3 1238.8z" fill="#37C05A"/>
<text transform="translate(1662.4 1243.8) scale(1 1.045)" font-size="29">(121)</text>
<path d="M1592 1268.3H1655.1" stroke="#6A6FC4" stroke-width="2.2"/>
<path d="M1614.3 1262.9L1632.9 1262.9L1623.6 1279.6z" fill="#6A6FC4"/>
<text transform="translate(1662.4 1278.7) scale(1 1.045)" font-size="29">(220)</text>
<path d="M1592 1302.2H1655.1" stroke="#FD9D38" stroke-width="2.2"/>
<path d="M1623.6 1291.9L1632.9 1302.2L1623.6 1312.5L1614.3 1302.2z" fill="#FD9D38"/>
<text transform="translate(1662.4 1312.6) scale(1 1.045)" font-size="29">(310)</text>
<path d="M1592 1419.8H1655.1" stroke="#04B7F5" stroke-width="2.2"/>
<path d="M1616.3 1412.5h14.6v14.6h-14.6z" fill="#04B7F5"/>
<text transform="translate(1662.4 1430.2) scale(1 1.045)" font-size="29">(101)</text>
<path d="M1592 1454H1655.1" stroke="#EC4F5F" stroke-width="2.2"/>
<path d="M1615.8 1454a7.8 7.8 0 1 0 15.6 0a7.8 7.8 0 1 0 -15.6 0z" fill="#EC4F5F"/>
<text transform="translate(1662.4 1464.4) scale(1 1.045)" font-size="29">(200)</text>
<path d="M1592 1488.6H1655.1" stroke="#37C05A" stroke-width="2.8"/>
<path d="M1623.6 1478.4L1632.9 1494L1614.3 1494z" fill="#37C05A"/>
<text transform="translate(1662.4 1499) scale(1 1.045)" font-size="29">(121)</text>
<path d="M1592 1523.5H1655.1" stroke="#6A6FC4" stroke-width="2.2"/>
<path d="M1614.3 1518.1L1632.9 1518.1L1623.6 1534.8z" fill="#6A6FC4"/>
<text transform="translate(1662.4 1533.9) scale(1 1.045)" font-size="29">(220)</text>
<path d="M1592 1557.7H1655.1" stroke="#FD9D38" stroke-width="2.2"/>
<path d="M1623.6 1547.4L1632.9 1557.7L1623.6 1568L1614.3 1557.7z" fill="#FD9D38"/>
<text transform="translate(1662.4 1568.1) scale(1 1.045)" font-size="29">(310)</text>
<text transform="translate(1.2 31.4) scale(1 1.045)" font-size="41.5" font-weight="bold">a</text>
<text transform="translate(0.7 554.6) scale(1 1.045)" font-size="41.5" font-weight="bold">b</text>
<text transform="translate(0.4 986) scale(1 1.045)" font-size="41.5" font-weight="bold">c</text>
<text transform="translate(0.3 1411) scale(1 1.045)" font-size="41.5" font-weight="bold">d</text>
<text transform="translate(680.4 31.2) scale(1 1.045)" font-size="41.5" font-weight="bold">e</text>
<text transform="translate(681.3 555) scale(1 1.045)" font-size="41.5" font-weight="bold">f</text>
<text transform="translate(679.5 986.3) scale(1 1.045)" font-size="41.5" font-weight="bold">g</text>
<text transform="translate(679.1 1411.5) scale(1 1.045)" font-size="41.5" font-weight="bold">h</text>
<text transform="translate(1408.4 30.6) scale(1 1.045)" font-size="41.5" font-weight="bold">i</text>
<text transform="translate(1406.8 554.2) scale(1 1.045)" font-size="41.5" font-weight="bold">j</text>
<text transform="translate(1406.6 987) scale(1 1.045)" font-size="41.5" font-weight="bold">k</text>
<text transform="translate(1406.6 1411.5) scale(1 1.045)" font-size="41.5" font-weight="bold">l</text>
</svg>
</body></html>
